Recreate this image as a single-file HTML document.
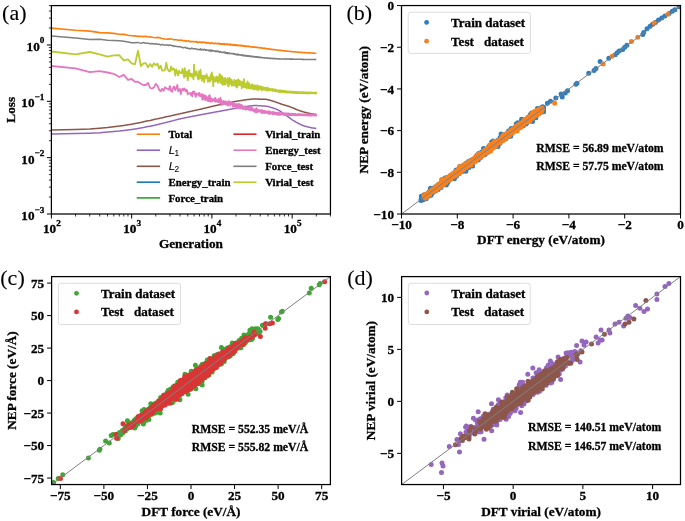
<!DOCTYPE html><html><head><meta charset="utf-8"><style>html,body{margin:0;padding:0;background:#fff;}svg{display:block;filter:blur(0.3px)}text{font-family:"Liberation Serif", serif;font-weight:bold;fill:#000;stroke:#000;stroke-width:0.3px}</style></head><body>
<svg width="685" height="521" viewBox="0 0 685 521" style="will-change:transform">
<rect width="685" height="521" fill="#fff"/>
<defs>
<clipPath id="ca"><rect x="51.40" y="5.60" width="279.05" height="208.40"/></clipPath>
<clipPath id="cb"><rect x="401.50" y="5.55" width="279.00" height="208.45"/></clipPath>
<clipPath id="cc"><rect x="51.60" y="276.60" width="278.80" height="207.95"/></clipPath>
<clipPath id="cd"><rect x="401.60" y="276.60" width="278.90" height="207.95"/></clipPath>
</defs>
<g clip-path="url(#ca)">
<polyline fill="none" stroke="#9467bd" stroke-width="1.5" stroke-linejoin="round" stroke-opacity="1.0" points="51.4,134.1 75.6,133.6 89.7,133.2 99.7,132.7 107.5,132.1 113.8,131.5 119.2,131.0 123.9,130.4 128.0,129.9 131.7,129.4 135.0,128.9 138.0,128.4 140.8,127.9 143.4,127.5 145.8,127.0 148.0,126.6 150.1,126.2 152.1,125.8 154.0,125.4 155.8,125.0 157.5,124.6 159.1,124.2 160.7,123.8 162.2,123.4 163.6,123.1 165.0,122.8 166.3,122.4 167.5,122.1 168.8,121.8 169.9,121.5 171.1,121.2 172.2,120.9 173.3,120.6 174.3,120.4 175.3,120.1 176.3,119.8 177.3,119.6 178.2,119.3 179.1,119.1 180.0,118.9 180.8,118.7 181.7,118.5 182.5,118.3 183.3,118.2 184.1,118.0 184.8,117.8 185.6,117.7 186.3,117.5 187.0,117.4 187.7,117.3 188.4,117.1 189.1,117.0 189.8,116.9 190.4,116.7 191.1,116.6 191.7,116.5 192.3,116.4 192.9,116.2 193.5,116.1 194.1,116.0 194.7,115.9 195.2,115.8 195.8,115.7 196.4,115.6 196.9,115.5 197.4,115.4 197.9,115.3 198.5,115.2 199.0,115.1 199.5,115.0 200.0,114.9 200.5,114.8 200.9,114.7 201.4,114.6 201.9,114.5 202.3,114.5 202.8,114.4 203.2,114.3 203.7,114.2 204.1,114.1 204.6,114.0 205.0,114.0 205.4,113.9 205.8,113.8 206.2,113.7 206.6,113.6 207.1,113.6 207.5,113.5 207.8,113.4 208.2,113.4 208.6,113.3 209.0,113.2 209.4,113.1 209.7,113.1 210.1,113.0 210.5,112.9 210.8,112.9 211.2,112.8 211.6,112.7 211.9,112.7 212.3,112.6 212.6,112.5 212.9,112.5 213.3,112.4 213.6,112.4 213.9,112.3 214.3,112.2 214.6,112.2 214.9,112.1 215.2,112.1 215.5,112.0 215.9,112.0 216.2,111.9 216.5,111.8 216.8,111.8 217.1,111.7 217.4,111.7 217.7,111.6 218.0,111.6 218.3,111.5 218.6,111.5 218.8,111.4 219.1,111.4 219.4,111.3 219.7,111.3 220.0,111.2 220.2,111.2 220.5,111.1 220.8,111.1 221.1,111.0 221.3,111.0 221.6,110.9 221.8,110.9 222.1,110.8 222.4,110.8 222.6,110.7 222.9,110.7 223.1,110.6 223.4,110.6 223.6,110.5 223.9,110.5 224.1,110.4 224.4,110.4 224.6,110.3 224.9,110.3 225.1,110.2 225.3,110.2 225.6,110.2 225.8,110.1 226.0,110.1 226.3,110.0 226.5,110.0 226.7,109.9 227.0,109.9 227.2,109.9 227.4,109.8 227.6,109.8 227.8,109.7 228.1,109.7 228.3,109.6 228.5,109.6 228.7,109.6 228.9,109.5 229.1,109.5 229.4,109.4 229.6,109.4 229.8,109.4 230.0,109.3 230.2,109.3 230.4,109.2 230.6,109.2 230.8,109.2 231.0,109.1 231.2,109.1 231.4,109.1 231.6,109.0 231.8,109.0 232.0,109.0 232.2,108.9 232.4,108.9 232.6,108.8 232.8,108.8 233.0,108.8 233.2,108.7 233.3,108.7 233.5,108.7 233.7,108.6 233.9,108.6 234.1,108.6 234.3,108.5 234.5,108.5 234.6,108.5 234.8,108.5 235.0,108.4 235.2,108.4 235.4,108.4 235.5,108.3 235.7,108.3 235.9,108.3 236.1,108.2 236.4,108.2 236.6,108.1 236.9,108.1 237.1,108.1 237.4,108.0 237.6,108.0 237.9,107.9 238.1,107.9 238.4,107.8 238.6,107.8 238.9,107.8 239.1,107.7 239.4,107.7 239.5,107.7 239.9,107.6 240.0,107.6 240.3,107.5 240.5,107.5 240.8,107.5 240.9,107.5 241.2,107.4 241.4,107.4 241.7,107.3 241.8,107.3 242.1,107.3 242.3,107.2 242.6,107.2 242.7,107.2 243.0,107.1 243.1,107.1 243.4,107.0 243.6,107.0 243.8,107.0 244.0,106.9 244.3,106.9 244.4,106.9 244.7,106.8 244.8,106.8 245.1,106.7 245.2,106.7 245.5,106.7 245.6,106.6 245.9,106.6 246.0,106.6 246.3,106.5 246.4,106.5 246.7,106.5 246.8,106.4 247.0,106.4 247.2,106.4 247.4,106.3 247.5,106.3 247.8,106.3 247.9,106.2 248.2,106.2 248.3,106.2 248.5,106.2 248.7,106.1 248.9,106.1 249.0,106.1 249.3,106.0 249.4,106.0 249.6,106.0 249.7,106.0 250.0,106.0 250.1,105.9 250.4,105.9 250.5,105.9 250.9,105.8 251.0,105.8 251.3,105.8 251.5,105.8 251.8,105.8 251.9,105.7 252.2,105.7 252.3,105.7 252.7,105.7 252.8,105.7 253.1,105.7 253.2,105.7 253.5,105.6 253.6,105.6 253.9,105.6 254.0,105.6 254.4,105.6 254.5,105.6 254.8,105.6 254.9,105.6 255.0,105.6 255.3,105.6 255.6,105.6 255.7,105.6 256.0,105.6 256.1,105.6 256.4,105.6 256.5,105.6 256.7,105.6 256.8,105.6 257.1,105.6 257.2,105.6 257.5,105.6 257.6,105.6 257.9,105.7 258.0,105.7 258.3,105.7 258.3,105.7 258.6,105.7 258.7,105.7 259.0,105.7 259.1,105.7 259.3,105.7 259.4,105.7 259.7,105.7 259.8,105.7 260.0,105.7 260.1,105.8 260.5,105.8 260.6,105.8 260.9,105.8 261.0,105.8 261.3,105.8 261.4,105.8 261.8,105.9 261.8,105.9 262.2,105.9 262.3,105.9 262.6,105.9 262.7,105.9 263.0,105.9 263.1,105.9 263.4,106.0 263.5,106.0 263.8,106.0 263.9,106.0 264.2,106.0 264.3,106.0 264.6,106.1 264.6,106.1 264.9,106.1 265.0,106.1 265.3,106.1 265.4,106.1 265.7,106.2 265.8,106.2 266.1,106.2 266.1,106.2 266.4,106.3 266.5,106.3 266.8,106.3 266.9,106.3 267.2,106.4 267.2,106.4 267.5,106.5 267.6,106.5 267.9,106.5 267.9,106.6 268.3,106.6 268.3,106.6 268.7,106.7 268.8,106.7 269.1,106.8 269.2,106.8 269.5,106.9 269.6,107.0 269.9,107.0 270.0,107.1 270.3,107.2 270.4,107.2 270.7,107.3 270.7,107.3 271.1,107.4 271.1,107.4 271.4,107.5 271.5,107.5 271.8,107.6 271.9,107.7 272.2,107.8 272.3,107.8 272.6,107.9 272.6,107.9 272.9,108.0 273.0,108.0 273.3,108.1 273.4,108.1 273.7,108.2 273.7,108.3 274.0,108.4 274.1,108.4 274.4,108.5 274.5,108.5 274.8,108.6 274.9,108.7 275.2,108.8 275.3,108.8 275.6,108.9 275.7,108.9 276.0,109.1 276.1,109.1 276.4,109.2 276.4,109.2 276.8,109.4 276.8,109.4 277.1,109.6 277.2,109.6 277.5,109.7 277.6,109.8 277.9,109.9 277.9,109.9 278.3,110.1 278.3,110.1 278.6,110.3 278.7,110.3 279.0,110.4 279.0,110.5 279.3,110.6 279.4,110.7 279.7,110.8 279.7,110.9 280.1,111.0 280.1,111.1 280.5,111.3 280.5,111.3 280.9,111.5 280.9,111.5 281.2,111.8 281.3,111.8 281.6,112.0 281.7,112.1 282.0,112.3 282.0,112.3 282.4,112.6 282.4,112.6 282.7,112.8 282.8,112.9 283.1,113.1 283.1,113.1 283.5,113.4 283.5,113.4 283.8,113.6 283.9,113.7 284.2,113.9 284.2,113.9 284.6,114.2 284.6,114.2 284.9,114.5 285.0,114.5 285.3,114.7 285.4,114.8 285.7,115.0 285.7,115.0 286.1,115.3 286.1,115.3 286.5,115.5 286.5,115.6 286.8,115.8 286.9,115.8 287.2,116.1 287.2,116.1 287.5,116.3 287.6,116.4 287.9,116.6 287.9,116.6 288.3,116.9 288.3,116.9 288.6,117.2 288.7,117.2 289.0,117.5 289.1,117.5 289.4,117.7 289.4,117.8 289.8,118.0 289.8,118.0 290.2,118.3 290.2,118.3 290.5,118.6 290.6,118.6 290.9,118.8 290.9,118.8 291.2,119.1 291.3,119.1 291.6,119.3 291.6,119.3 291.9,119.6 292.0,119.6 292.3,119.8 292.4,119.9 292.7,120.1 292.7,120.1 293.1,120.3 293.1,120.4 293.5,120.6 293.5,120.6 293.8,120.8 293.9,120.8 294.2,121.0 294.2,121.0 294.6,121.2 294.6,121.3 294.9,121.4 294.9,121.5 295.3,121.6 295.3,121.7 295.6,121.9 295.7,121.9 296.0,122.1 296.0,122.1 296.4,122.3 296.4,122.3 296.8,122.5 296.8,122.5 297.1,122.7 297.2,122.7 297.5,122.9 297.5,122.9 297.8,123.1 297.9,123.1 298.2,123.3 298.2,123.3 298.6,123.5 298.6,123.5 298.9,123.7 299.0,123.7 299.3,123.9 299.3,123.9 299.7,124.1 299.7,124.1 300.0,124.2 300.1,124.3 300.4,124.4 300.4,124.4 300.8,124.6 300.8,124.6 301.1,124.7 301.1,124.8 301.5,124.9 301.5,124.9 301.9,125.1 301.9,125.1 302.2,125.2 302.3,125.2 302.6,125.4 302.6,125.4 303.0,125.5 303.0,125.5 303.3,125.7 303.3,125.7 303.7,125.8 303.7,125.8 304.0,125.9 304.1,125.9 304.4,126.0 304.4,126.0 304.8,126.1 304.8,126.1 305.1,126.2 305.2,126.2 305.5,126.3 305.5,126.3 305.8,126.4 305.9,126.4 306.2,126.5 306.2,126.5 306.6,126.6 306.6,126.6 306.9,126.7 307.0,126.7 307.3,126.8 307.3,126.8 307.7,126.9 307.7,126.9 308.0,127.0 308.0,127.0 308.4,127.1 308.4,127.1 308.7,127.2 308.8,127.2 309.1,127.3 309.1,127.3 309.5,127.3 309.5,127.3 309.8,127.4 309.8,127.4 310.2,127.5 310.2,127.5 310.5,127.6 310.6,127.6 310.9,127.6 310.9,127.7 311.3,127.7 311.3,127.7 311.6,127.8 311.6,127.8 312.0,127.9 312.0,127.9 312.3,127.9 312.4,127.9 312.7,128.0 312.7,128.0 313.1,128.0 313.1,128.0 313.4,128.1 313.4,128.1 313.8,128.1 313.8,128.1 314.1,128.2 314.2,128.2 314.5,128.2 314.5,128.2 314.9,128.3 314.9,128.3 315.2,128.3 315.2,128.3 315.6,128.3 315.6,128.3 315.9,128.4 316.0,128.4 316.3,128.4 316.3,128.4 316.3,128.4"/>
<polyline fill="none" stroke="#8c564b" stroke-width="1.5" stroke-linejoin="round" stroke-opacity="1.0" points="51.4,130.0 75.6,129.5 89.7,128.9 99.7,128.2 107.5,127.5 113.8,126.7 119.2,126.1 123.9,125.4 128.0,124.8 131.7,124.2 135.0,123.6 138.0,123.0 140.8,122.4 143.4,121.8 145.8,121.3 148.0,120.8 150.1,120.4 152.1,119.9 154.0,119.5 155.8,119.1 157.5,118.8 159.1,118.4 160.7,118.1 162.2,117.7 163.6,117.4 165.0,117.1 166.3,116.8 167.5,116.5 168.8,116.3 169.9,116.0 171.1,115.8 172.2,115.5 173.3,115.3 174.3,115.0 175.3,114.8 176.3,114.6 177.3,114.4 178.2,114.2 179.1,114.0 180.0,113.8 180.8,113.6 181.7,113.4 182.5,113.2 183.3,113.0 184.1,112.8 184.8,112.7 185.6,112.5 186.3,112.3 187.0,112.2 187.7,112.0 188.4,111.8 189.1,111.7 189.8,111.5 190.4,111.4 191.1,111.3 191.7,111.1 192.3,111.0 192.9,110.9 193.5,110.7 194.1,110.6 194.7,110.5 195.2,110.4 195.8,110.2 196.4,110.1 196.9,110.0 197.4,109.9 197.9,109.8 198.5,109.6 199.0,109.5 199.5,109.4 200.0,109.3 200.5,109.2 200.9,109.1 201.4,109.0 201.9,108.9 202.3,108.8 202.8,108.7 203.2,108.5 203.7,108.4 204.1,108.3 204.6,108.2 205.0,108.1 205.4,108.0 205.8,107.9 206.2,107.8 206.6,107.7 207.1,107.6 207.5,107.5 207.8,107.4 208.2,107.3 208.6,107.3 209.0,107.2 209.4,107.1 209.7,107.0 210.1,106.9 210.5,106.8 210.8,106.7 211.2,106.6 211.6,106.5 211.9,106.5 212.3,106.4 212.6,106.3 212.9,106.2 213.3,106.1 213.6,106.0 213.9,106.0 214.3,105.9 214.6,105.8 214.9,105.7 215.2,105.7 215.5,105.6 215.9,105.5 216.2,105.5 216.5,105.4 216.8,105.3 217.1,105.2 217.4,105.2 217.7,105.1 218.0,105.0 218.3,105.0 218.6,104.9 218.8,104.9 219.1,104.8 219.4,104.7 219.7,104.7 220.0,104.6 220.2,104.5 220.5,104.5 220.8,104.4 221.1,104.4 221.3,104.3 221.6,104.3 221.8,104.2 222.1,104.1 222.4,104.1 222.6,104.0 222.9,104.0 223.1,103.9 223.4,103.9 223.6,103.8 223.9,103.8 224.1,103.7 224.4,103.7 224.6,103.6 224.9,103.6 225.1,103.5 225.3,103.5 225.6,103.4 225.8,103.4 226.0,103.3 226.3,103.3 226.5,103.2 226.7,103.2 227.0,103.1 227.2,103.1 227.4,103.0 227.6,103.0 227.8,102.9 228.1,102.9 228.3,102.8 228.5,102.8 228.7,102.7 228.9,102.7 229.1,102.6 229.4,102.6 229.6,102.6 229.8,102.5 230.0,102.5 230.2,102.4 230.4,102.4 230.6,102.3 230.8,102.3 231.0,102.3 231.2,102.2 231.4,102.2 231.6,102.1 231.8,102.1 232.0,102.1 232.2,102.0 232.4,102.0 232.6,102.0 232.8,101.9 233.0,101.9 233.2,101.8 233.3,101.8 233.5,101.8 233.7,101.7 233.9,101.7 234.1,101.7 234.3,101.6 234.5,101.6 234.6,101.6 234.8,101.5 235.0,101.5 235.2,101.5 235.4,101.4 235.5,101.4 235.7,101.4 235.9,101.4 236.1,101.3 236.4,101.3 236.6,101.2 236.9,101.2 237.1,101.1 237.4,101.1 237.6,101.1 237.9,101.0 238.1,101.0 238.4,100.9 238.6,100.9 238.9,100.9 239.1,100.8 239.4,100.8 239.5,100.8 239.9,100.7 240.0,100.7 240.3,100.7 240.5,100.6 240.8,100.6 240.9,100.6 241.2,100.5 241.4,100.5 241.7,100.5 241.8,100.4 242.1,100.4 242.3,100.4 242.6,100.3 242.7,100.3 243.0,100.2 243.1,100.2 243.4,100.2 243.6,100.2 243.8,100.1 244.0,100.1 244.3,100.1 244.4,100.0 244.7,100.0 244.8,100.0 245.1,99.9 245.2,99.9 245.5,99.9 245.6,99.8 245.9,99.8 246.0,99.8 246.3,99.8 246.4,99.7 246.7,99.7 246.8,99.7 247.0,99.6 247.2,99.6 247.4,99.6 247.5,99.6 247.8,99.5 247.9,99.5 248.2,99.5 248.3,99.5 248.5,99.5 248.7,99.4 248.9,99.4 249.0,99.4 249.3,99.4 249.4,99.4 249.6,99.3 249.7,99.3 250.0,99.3 250.1,99.3 250.4,99.3 250.5,99.3 250.9,99.2 251.0,99.2 251.3,99.2 251.5,99.2 251.8,99.2 251.9,99.2 252.2,99.1 252.3,99.1 252.7,99.1 252.8,99.1 253.1,99.1 253.2,99.1 253.5,99.1 253.6,99.1 253.9,99.1 254.0,99.1 254.4,99.1 254.5,99.1 254.8,99.1 254.9,99.1 255.2,99.1 255.3,99.1 255.6,99.1 255.7,99.1 256.0,99.1 256.1,99.1 256.4,99.1 256.5,99.1 256.7,99.1 256.8,99.1 257.1,99.1 257.2,99.1 257.5,99.1 257.6,99.1 257.9,99.1 258.0,99.1 258.3,99.1 258.3,99.1 258.6,99.1 258.7,99.1 259.0,99.1 259.1,99.1 259.3,99.1 259.4,99.2 259.7,99.2 259.8,99.2 260.0,99.2 260.1,99.2 260.5,99.2 260.6,99.2 260.9,99.2 261.0,99.2 261.3,99.2 261.4,99.2 261.8,99.2 261.8,99.2 262.2,99.2 262.3,99.2 262.6,99.2 262.7,99.2 263.0,99.2 263.1,99.2 263.4,99.2 263.5,99.3 263.8,99.3 263.9,99.3 264.2,99.3 264.3,99.3 264.6,99.3 264.6,99.3 264.9,99.3 265.0,99.3 265.3,99.3 265.4,99.3 265.7,99.3 265.8,99.3 266.1,99.4 266.1,99.4 266.4,99.4 266.5,99.4 266.8,99.5 266.9,99.5 267.2,99.5 267.2,99.5 267.5,99.6 267.6,99.6 267.9,99.7 267.9,99.7 268.3,99.8 268.3,99.8 268.7,99.9 268.8,99.9 269.1,100.0 269.2,100.0 269.5,100.1 269.6,100.1 269.9,100.2 270.0,100.2 270.3,100.3 270.4,100.3 270.7,100.4 270.7,100.4 271.1,100.5 271.1,100.6 271.4,100.7 271.5,100.7 271.8,100.8 271.9,100.8 272.2,100.9 272.3,100.9 272.6,101.0 272.6,101.0 272.9,101.1 273.0,101.2 273.3,101.3 273.4,101.3 273.7,101.4 273.7,101.4 274.0,101.5 274.1,101.5 274.4,101.6 274.5,101.6 274.8,101.7 274.9,101.8 275.2,101.9 275.3,101.9 275.6,102.0 275.7,102.0 276.0,102.1 276.1,102.1 276.4,102.2 276.4,102.3 276.8,102.4 276.8,102.4 277.1,102.5 277.2,102.5 277.5,102.7 277.6,102.7 277.9,102.8 277.9,102.8 278.3,102.9 278.3,102.9 278.6,103.1 278.7,103.1 279.0,103.2 279.0,103.2 279.3,103.3 279.4,103.4 279.7,103.5 279.7,103.5 280.1,103.6 280.1,103.6 280.5,103.8 280.5,103.8 280.9,103.9 280.9,103.9 281.2,104.0 281.3,104.1 281.6,104.2 281.7,104.2 282.0,104.3 282.0,104.3 282.4,104.4 282.4,104.4 282.7,104.5 282.8,104.6 283.1,104.7 283.1,104.7 283.5,104.8 283.5,104.8 283.8,104.9 283.9,104.9 284.2,105.0 284.2,105.0 284.6,105.1 284.6,105.1 284.9,105.2 285.0,105.2 285.3,105.3 285.4,105.3 285.7,105.4 285.7,105.5 286.1,105.6 286.1,105.6 286.5,105.7 286.5,105.7 286.8,105.8 286.9,105.8 287.2,105.9 287.2,105.9 287.5,106.0 287.6,106.0 287.9,106.1 287.9,106.1 288.3,106.2 288.3,106.2 288.6,106.3 288.7,106.4 289.0,106.5 289.1,106.5 289.4,106.6 289.4,106.6 289.8,106.7 289.8,106.7 290.2,106.9 290.2,106.9 290.5,107.0 290.6,107.0 290.9,107.1 290.9,107.1 291.2,107.3 291.3,107.3 291.6,107.4 291.6,107.4 291.9,107.5 292.0,107.6 292.3,107.7 292.4,107.7 292.7,107.9 292.7,107.9 293.1,108.0 293.1,108.0 293.5,108.2 293.5,108.2 293.8,108.3 293.9,108.3 294.2,108.5 294.2,108.5 294.6,108.6 294.6,108.7 294.9,108.8 294.9,108.8 295.3,108.9 295.3,109.0 295.6,109.1 295.7,109.1 296.0,109.3 296.0,109.3 296.4,109.4 296.4,109.4 296.8,109.6 296.8,109.6 297.1,109.7 297.2,109.7 297.5,109.9 297.5,109.9 297.8,110.0 297.9,110.0 298.2,110.2 298.2,110.2 298.6,110.3 298.6,110.3 298.9,110.4 299.0,110.4 299.3,110.6 299.3,110.6 299.7,110.7 299.7,110.7 300.0,110.8 300.1,110.8 300.4,110.9 300.4,110.9 300.8,111.0 300.8,111.1 301.1,111.2 301.1,111.2 301.5,111.3 301.5,111.3 301.9,111.4 301.9,111.4 302.2,111.5 302.3,111.5 302.6,111.6 302.6,111.6 303.0,111.7 303.0,111.7 303.3,111.8 303.3,111.8 303.7,111.9 303.7,111.9 304.0,112.0 304.1,112.1 304.4,112.2 304.4,112.2 304.8,112.3 304.8,112.3 305.1,112.4 305.2,112.4 305.5,112.5 305.5,112.5 305.8,112.5 305.9,112.6 306.2,112.6 306.2,112.6 306.6,112.7 306.6,112.7 306.9,112.8 307.0,112.8 307.3,112.9 307.3,112.9 307.7,113.0 307.7,113.0 308.0,113.1 308.0,113.1 308.4,113.2 308.4,113.2 308.7,113.2 308.8,113.3 309.1,113.3 309.1,113.3 309.5,113.4 309.5,113.4 309.8,113.5 309.8,113.5 310.2,113.5 310.2,113.5 310.5,113.6 310.6,113.6 310.9,113.7 310.9,113.7 311.3,113.7 311.3,113.7 311.6,113.8 311.6,113.8 312.0,113.9 312.0,113.9 312.3,113.9 312.4,113.9 312.7,114.0 312.7,114.0 313.1,114.0 313.1,114.0 313.4,114.1 313.4,114.1 313.8,114.1 313.8,114.1 314.1,114.2 314.2,114.2 314.5,114.2 314.5,114.2 314.9,114.3 314.9,114.3 315.2,114.3 315.2,114.3 315.6,114.4 315.6,114.4 315.9,114.4 316.0,114.4 316.3,114.4 316.3,114.4 316.3,114.5"/>
<polyline fill="none" stroke="#e377c2" stroke-width="1.8" stroke-linejoin="round" stroke-opacity="1.0" points="51.4,66.0 75.6,68.3 89.7,72.2 99.7,71.1 107.5,72.5 113.8,73.8 119.2,77.0 123.9,74.9 128.0,79.8 131.7,79.0 135.0,81.9 138.0,81.6 140.8,83.7 143.4,85.0 145.8,85.0 148.0,82.9 150.1,88.0 152.1,88.5 154.0,87.4 155.8,84.0 157.5,85.6 159.1,89.6 160.7,91.3 162.2,88.7 163.6,90.8 165.0,87.3 166.3,88.2 167.5,88.8 168.8,89.7 169.9,86.0 171.1,91.0 172.2,91.8 173.3,87.0 174.3,86.7 175.3,90.2 176.3,88.2 177.3,84.9 178.2,91.3 179.1,90.1 180.0,88.9 180.8,94.1 181.7,90.3 182.5,88.7 183.3,90.4 184.1,88.4 184.8,89.0 185.6,91.4 186.3,89.8 187.0,90.2 187.7,94.4 188.4,93.2 189.1,93.3 189.8,93.1 190.4,93.2 191.1,95.2 191.7,92.8 192.3,96.4 192.9,91.6 193.5,93.1 194.1,91.4 194.7,93.4 195.2,95.1 195.8,96.9 196.4,93.5 196.9,94.8 197.4,94.4 197.9,94.0 198.5,93.4 199.0,95.7 199.5,92.9 200.0,96.1 200.5,96.1 200.9,95.1 201.4,94.7 201.9,94.2 202.3,99.6 202.8,94.5 203.2,99.3 203.7,97.9 204.1,96.4 204.6,95.3 205.0,98.9 205.4,100.1 205.8,96.0 206.2,97.1 206.6,99.3 207.1,98.3 207.5,100.9 207.8,97.1 208.2,98.9 208.6,96.2 209.0,101.4 209.4,97.2 209.7,95.1 210.1,98.3 210.5,98.4 210.8,101.6 211.2,98.3 211.6,98.9 211.9,99.9 212.3,101.5 212.6,99.1 212.9,100.9 213.3,100.2 213.6,99.1 213.9,99.8 214.3,99.8 214.6,98.5 214.9,101.7 215.2,98.0 215.5,101.8 215.9,101.6 216.2,100.2 216.5,99.3 216.8,100.2 217.1,101.2 217.4,101.7 217.7,101.2 218.0,102.2 218.3,100.1 218.6,101.3 218.8,98.9 219.1,102.2 219.4,101.4 219.7,100.7 220.0,103.0 220.2,102.4 220.5,97.7 220.8,101.7 221.1,99.7 221.3,103.2 221.6,105.2 221.8,101.2 222.1,102.1 222.4,101.7 222.6,102.5 222.9,103.0 223.1,103.9 223.4,101.0 223.6,104.4 223.9,101.2 224.1,102.8 224.4,104.0 224.6,103.5 224.9,101.4 225.1,101.8 225.3,102.2 225.6,102.7 225.8,104.3 226.0,101.3 226.3,103.6 226.5,103.8 226.7,103.8 227.0,103.7 227.2,105.1 227.4,103.9 227.6,104.4 227.8,104.1 228.1,105.6 228.3,101.1 228.5,105.1 228.7,103.3 228.9,103.3 229.1,102.5 229.4,101.5 229.6,103.3 229.8,103.0 230.0,104.5 230.2,102.2 230.4,105.7 230.6,104.4 230.8,103.8 231.0,103.3 231.2,103.3 231.4,102.9 231.6,103.7 231.8,104.4 232.0,104.2 232.2,102.8 232.4,104.2 232.6,103.5 232.8,104.8 233.0,106.8 233.2,105.4 233.3,104.4 233.5,102.9 233.7,103.2 233.9,102.9 234.1,105.7 234.3,104.1 234.5,105.1 234.6,104.4 234.8,105.2 235.0,106.7 235.2,104.4 235.4,104.9 235.5,104.4 235.7,106.3 235.9,104.2 236.1,104.2 236.2,103.9 236.8,108.4 236.9,104.5 237.1,106.7 237.4,104.6 237.8,105.6 237.9,105.1 238.1,108.0 238.3,103.9 238.6,106.4 238.7,105.5 239.1,107.1 239.2,106.4 239.7,104.2 239.9,107.9 240.0,108.7 240.2,107.4 240.5,105.1 240.6,106.4 241.1,107.7 241.2,105.9 241.5,104.9 241.7,106.7 241.8,107.0 242.0,106.2 242.3,108.8 242.4,105.8 242.7,106.3 243.0,109.2 243.1,107.5 243.3,106.6 243.7,106.5 243.8,108.8 244.0,108.8 244.1,107.6 244.5,109.0 244.7,106.7 244.8,108.8 245.1,107.0 245.2,107.9 245.5,106.9 245.6,106.4 245.9,109.3 246.0,109.8 246.1,108.6 246.4,107.6 246.7,108.4 246.8,107.2 247.0,108.3 247.3,107.4 247.4,108.7 247.5,108.2 247.7,109.3 247.9,108.2 248.0,108.6 248.3,108.0 248.5,109.3 248.8,109.8 248.9,107.3 249.0,108.4 249.3,109.0 249.5,108.4 249.6,109.6 249.8,108.0 250.0,110.1 250.1,109.8 250.4,108.5 250.5,110.0 250.8,108.5 251.0,108.6 251.2,109.4 251.6,106.5 251.7,109.5 252.0,110.4 252.2,109.2 252.4,109.5 252.7,109.2 252.8,108.9 252.9,110.6 253.2,109.6 253.5,110.2 253.6,110.5 253.9,109.3 254.0,111.2 254.1,109.8 254.7,109.8 254.8,111.9 255.0,110.6 255.2,109.2 255.3,109.3 255.5,110.6 255.8,109.3 255.9,110.1 256.1,111.1 256.3,112.5 256.6,108.1 256.7,110.1 256.8,110.5 256.9,111.3 257.4,111.7 257.5,110.0 257.7,109.8 257.8,111.9 258.0,111.3 258.1,110.0 258.5,111.3 258.6,110.7 258.7,111.5 258.9,110.8 259.1,110.7 259.2,111.6 259.5,110.1 259.6,111.7 259.8,111.6 260.0,110.1 260.3,110.5 260.4,111.8 260.6,111.6 260.8,110.9 261.0,111.8 261.3,110.7 261.6,111.0 261.8,113.1 262.0,111.8 262.1,109.9 262.3,112.5 262.5,111.1 262.7,111.8 262.9,110.9 263.1,112.9 263.3,111.9 263.5,112.8 263.7,111.7 263.9,112.0 264.2,110.6 264.3,110.7 264.4,112.0 264.8,112.0 264.9,113.1 265.0,111.3 265.1,112.6 265.5,111.6 265.7,112.1 265.8,111.3 265.9,112.5 266.1,111.1 266.4,112.2 266.5,112.8 266.6,112.2 266.9,112.0 266.9,112.9 267.3,112.9 267.4,112.6 267.8,111.3 267.9,113.2 268.0,111.8 268.2,113.6 268.6,113.6 268.7,111.3 269.0,111.4 269.1,113.5 269.2,111.6 269.4,113.9 269.6,113.2 269.9,111.7 270.0,113.8 270.2,111.9 270.4,112.5 270.6,113.4 270.8,112.2 271.0,113.4 271.2,112.2 271.4,113.2 271.5,112.5 271.8,113.5 272.0,112.6 272.2,113.7 272.3,112.9 272.4,113.8 272.7,114.2 272.8,112.5 273.1,111.6 273.3,113.6 273.4,113.9 273.5,112.8 273.8,112.5 274.0,113.4 274.1,112.5 274.2,114.1 274.5,112.7 274.7,113.7 274.9,113.8 275.0,113.0 275.3,112.8 275.5,113.5 275.7,112.7 275.9,113.9 276.1,112.7 276.2,114.4 276.5,112.8 276.6,114.7 277.0,112.9 277.1,114.2 277.3,113.3 277.4,114.3 277.7,113.1 277.8,114.6 278.0,114.1 278.1,112.9 278.3,113.3 278.5,115.0 278.9,113.2 279.0,113.6 279.1,113.1 279.3,114.2 279.5,113.1 279.5,114.7 279.8,113.0 280.0,114.2 280.3,113.4 280.5,114.7 280.7,113.3 280.9,114.4 281.1,113.1 281.1,114.5 281.3,113.2 281.6,114.6 281.8,114.5 281.9,113.3 282.2,114.2 282.4,113.1 282.6,113.5 282.7,114.0 282.9,113.6 283.0,114.8 283.2,113.7 283.3,114.8 283.6,114.5 283.7,113.7 284.0,114.8 284.2,113.5 284.3,114.5 284.5,113.8 284.8,114.7 284.9,113.2 285.2,113.8 285.3,115.2 285.5,113.6 285.7,114.5 285.8,113.7 286.0,114.6 286.2,113.5 286.3,114.7 286.8,113.9 286.8,114.9 286.9,114.8 287.2,113.5 287.3,113.6 287.5,114.9 287.6,114.6 287.7,114.1 288.2,114.9 288.2,113.4 288.4,115.2 288.4,113.4 288.9,113.9 289.0,114.7 289.1,113.8 289.4,114.7 289.6,114.0 289.7,115.1 289.9,114.9 290.0,114.1 290.3,113.8 290.3,114.7 290.6,113.9 290.8,115.1 291.0,114.8 291.1,114.0 291.3,115.0 291.5,113.7 291.7,114.7 291.8,113.8 292.1,115.1 292.2,114.0 292.6,114.8 292.7,114.1 293.0,113.8 293.1,115.2 293.2,115.1 293.3,114.2 293.7,115.0 293.8,114.1 294.1,115.2 294.1,113.9 294.2,114.2 294.3,115.2 294.6,115.0 294.7,114.3 295.1,115.5 295.2,113.8 295.3,115.2 295.4,113.9 295.9,114.2 295.9,115.0 296.1,115.3 296.2,114.3 296.5,115.4 296.7,114.3 296.8,114.9 297.1,114.6 297.2,114.3 297.3,115.1 297.5,114.4 297.6,115.2 298.0,114.3 298.1,115.2 298.4,115.4 298.5,114.3 298.6,115.4 298.7,114.5 299.0,115.2 299.3,114.2 299.4,115.1 299.5,114.4 299.7,114.3 300.0,115.1 300.1,115.2 300.3,114.4 300.6,114.3 300.7,115.2 300.9,114.4 301.0,115.1 301.3,114.3 301.5,115.2 301.7,115.2 301.7,114.4 302.0,115.1 302.2,114.6 302.3,114.4 302.5,115.4 302.7,115.4 302.8,114.6 303.0,114.6 303.2,115.4 303.4,114.6 303.5,115.1 303.8,114.4 303.9,115.3 304.3,115.3 304.4,114.6 304.5,115.3 304.5,114.4 304.8,114.4 305.1,115.3 305.3,114.7 305.4,115.2 305.6,115.3 305.8,114.5 305.9,115.1 306.0,114.5 306.4,115.3 306.5,114.4 306.7,114.6 306.8,115.4 307.0,115.2 307.0,114.6 307.3,114.5 307.5,115.1 307.7,115.3 307.8,114.7 308.2,114.5 308.2,115.5 308.4,115.6 308.7,114.7 308.9,114.5 309.1,115.4 309.1,114.7 309.4,115.2 309.5,114.5 309.8,115.4 310.0,114.7 310.1,115.4 310.2,114.5 310.3,115.5 310.7,114.8 310.8,115.4 311.0,115.5 311.3,114.7 311.4,114.6 311.6,115.5 311.8,114.5 311.9,115.4 312.2,115.3 312.2,114.5 312.5,114.7 312.6,115.4 312.7,114.7 312.9,115.4 313.3,115.4 313.4,114.8 313.6,114.7 313.8,115.3 313.9,114.8 314.0,115.3 314.4,115.4 314.4,114.9 314.6,115.5 314.8,114.8 315.1,114.8 315.2,115.4 315.3,115.5 315.6,114.7 315.6,114.7 315.8,115.4 316.1,115.5 316.2,114.9 316.3,115.0 316.3,115.1"/>
<polyline fill="none" stroke="#7f7f7f" stroke-width="1.5" stroke-linejoin="round" stroke-opacity="1.0" points="51.4,36.0 75.6,38.0 89.7,39.4 99.7,39.2 107.5,40.3 113.8,40.5 119.2,40.8 123.9,41.2 128.0,41.9 131.7,42.8 135.0,42.8 138.0,42.4 140.8,43.4 143.4,42.5 145.8,43.2 148.0,43.2 150.1,43.7 152.1,43.5 154.0,43.9 155.8,43.7 157.5,44.3 159.1,44.2 160.7,45.1 162.2,44.3 163.6,45.1 165.0,45.0 166.3,45.1 167.5,45.0 168.8,45.5 169.9,45.0 171.1,45.2 172.2,46.0 173.3,45.4 174.3,46.5 175.3,46.1 176.3,46.4 177.3,46.5 178.2,46.7 179.1,46.6 180.0,46.7 180.8,46.9 181.7,47.4 182.5,47.6 183.3,47.8 184.1,47.6 184.8,47.6 185.6,47.2 186.3,48.1 187.0,48.3 187.7,48.0 188.4,48.5 189.1,48.7 189.8,48.4 190.4,48.8 191.1,48.7 191.7,48.1 192.3,48.5 192.9,48.6 193.5,49.0 194.1,48.6 194.7,48.8 195.2,48.7 195.8,49.0 196.4,49.1 196.9,49.5 197.4,49.5 197.9,49.3 198.5,49.4 199.0,49.4 199.5,49.4 200.0,49.9 200.5,48.7 200.9,49.5 201.4,49.7 201.9,49.9 202.3,49.3 202.8,49.8 203.2,50.0 203.7,49.6 204.1,49.2 204.6,49.7 205.0,49.5 205.4,50.1 205.8,49.7 206.2,50.5 206.6,50.1 207.1,49.9 207.5,50.0 207.8,49.9 208.2,50.3 208.6,50.7 209.0,50.2 209.4,50.6 209.7,50.1 210.1,50.5 210.5,51.1 210.8,50.1 211.2,50.9 211.6,51.0 211.9,50.1 212.3,50.3 212.6,50.5 212.9,51.1 213.3,50.7 213.6,50.8 213.9,51.1 214.3,51.0 214.6,51.1 214.9,51.0 215.2,51.4 215.5,51.0 215.9,51.7 216.2,51.2 216.5,51.1 216.8,51.5 217.1,51.5 217.4,50.9 217.7,51.6 218.0,51.2 218.3,51.4 218.6,51.8 218.8,51.4 219.1,51.8 219.4,51.7 219.7,52.3 220.0,51.8 220.2,51.6 220.5,51.6 220.8,51.7 221.1,52.1 221.3,52.1 221.6,52.4 221.8,52.2 222.1,52.2 222.4,52.3 222.6,52.2 222.9,52.4 223.1,52.6 223.4,52.6 223.6,52.3 223.9,52.0 224.1,52.3 224.4,52.6 224.6,51.9 224.9,52.5 225.1,52.8 225.3,52.6 225.6,52.4 225.8,53.2 226.0,53.2 226.3,52.8 226.5,53.2 226.7,53.3 227.0,52.7 227.2,53.7 227.4,52.8 227.6,53.0 227.8,52.8 228.1,53.1 228.3,52.8 228.5,53.2 228.7,53.5 228.9,53.3 229.1,53.2 229.4,53.7 229.6,53.1 229.8,53.6 230.0,53.3 230.2,53.5 230.4,53.5 230.6,53.5 230.8,53.5 231.0,53.4 231.2,53.5 231.4,53.7 231.6,53.6 231.8,53.4 232.0,53.5 232.2,53.6 232.4,53.8 232.6,53.8 232.8,53.9 233.0,53.7 233.2,53.9 233.3,53.6 233.5,53.3 233.7,54.0 233.9,53.6 234.1,53.8 234.3,53.8 234.5,54.2 234.6,53.8 234.8,54.2 235.0,54.1 235.2,53.9 235.4,53.9 235.5,54.4 235.7,54.4 235.9,54.5 236.1,54.8 236.2,54.4 236.6,54.4 236.8,54.5 237.3,55.0 237.4,54.1 237.6,54.6 237.8,54.7 238.1,54.4 238.3,54.6 238.6,54.5 238.7,54.7 239.2,55.0 239.4,54.6 239.7,54.8 239.9,55.0 240.2,55.0 240.3,54.8 240.5,54.9 240.8,55.1 241.1,55.3 241.2,55.0 241.4,55.2 241.7,54.8 242.0,55.1 242.1,55.0 242.3,54.9 242.4,55.4 242.7,55.0 242.9,55.8 243.3,55.6 243.4,55.3 243.6,55.8 243.7,55.2 244.1,55.4 244.3,55.8 244.4,55.3 244.7,55.7 244.9,55.8 245.1,55.7 245.2,56.1 245.3,55.6 245.6,55.9 245.7,55.7 246.0,55.7 246.3,55.6 246.5,55.6 246.7,56.0 246.8,55.6 246.9,56.3 247.2,56.1 247.4,55.9 247.5,56.2 247.7,56.0 247.9,55.9 248.0,56.2 248.3,56.1 248.4,55.8 248.7,56.2 248.8,56.1 249.1,56.2 249.3,56.4 249.4,55.9 249.6,56.3 249.7,56.0 250.0,56.4 250.1,56.1 250.3,56.4 250.7,56.2 250.9,56.5 251.1,56.1 251.2,56.5 251.7,56.2 251.8,56.7 252.0,56.7 252.2,56.4 252.3,56.6 252.7,56.7 252.8,56.5 253.0,56.7 253.2,56.5 253.5,56.8 253.8,56.9 253.9,56.5 254.3,56.6 254.4,56.8 254.5,56.8 254.7,57.1 255.0,57.0 255.2,56.8 255.3,57.1 255.4,56.8 255.8,56.9 256.0,57.1 256.2,56.8 256.3,57.0 256.5,56.9 256.6,57.3 256.9,57.1 257.0,56.8 257.2,57.2 257.5,57.0 257.6,57.2 257.8,57.1 258.1,57.0 258.2,57.3 258.4,57.1 258.5,57.3 258.8,57.2 258.9,57.4 259.2,57.1 259.3,57.4 259.4,57.6 259.5,57.2 259.8,57.4 260.0,57.3 260.1,57.4 260.3,57.6 260.7,57.6 260.8,57.4 261.0,57.6 261.2,57.4 261.4,57.6 261.8,57.5 261.8,57.5 262.1,57.7 262.3,57.6 262.4,57.8 262.8,57.6 262.9,57.8 263.1,57.8 263.4,57.7 263.6,57.8 263.8,57.7 263.9,57.7 264.0,57.9 264.5,57.8 264.6,57.9 264.8,57.8 264.9,58.0 265.2,58.0 265.2,57.8 265.4,58.0 265.5,57.9 265.9,58.0 266.0,57.9 266.3,58.1 266.4,58.0 266.6,58.0 266.8,58.2 266.9,58.0 267.2,58.2 267.2,58.1 267.5,58.0 267.7,58.1 267.9,58.3 268.1,58.3 268.3,58.1 268.3,58.3 268.7,58.2 268.8,58.2 269.0,58.3 269.2,58.2 269.4,58.4 269.6,58.3 269.6,58.2 270.0,58.4 270.3,58.3 270.4,58.5 270.5,58.3 270.9,58.3 271.0,58.5 271.3,58.3 271.3,58.5 271.7,58.5 271.8,58.4 272.0,58.4 272.2,58.5 272.4,58.4 272.5,58.6 272.6,58.5 272.9,58.6 273.1,58.6 273.2,58.5 273.5,58.7 273.6,58.6 273.8,58.6 274.0,58.7 274.2,58.7 274.2,58.6 274.5,58.6 274.6,58.7 275.1,58.6 275.2,58.8 275.4,58.8 275.5,58.6 275.7,58.8 275.9,58.6 276.2,58.8 276.3,58.7 276.6,58.7 276.7,58.8 276.9,58.8 277.1,58.8 277.3,58.8 277.4,58.8 277.8,58.8 277.9,58.9 277.9,58.9 278.2,58.8 278.4,58.9 278.5,58.8 278.7,58.8 278.9,58.9 279.2,58.9 279.2,58.8 279.4,58.9 279.5,59.0 279.8,58.9 280.0,58.8 280.2,58.9 280.4,58.9 280.7,58.9 280.9,58.9 281.1,59.0 281.1,58.9 281.4,58.9 281.4,59.0 281.7,58.9 281.8,59.0 282.3,58.9 282.3,59.0 282.5,58.9 282.6,59.0 282.8,59.0 283.0,58.9 283.1,59.0 283.5,58.9 283.5,59.0 283.6,59.0 284.0,59.0 284.2,59.0 284.2,59.1 284.3,59.0 284.8,59.1 284.9,59.0 285.1,59.0 285.2,59.1 285.5,59.0 285.7,59.1 286.0,59.0 286.0,59.1 286.2,59.1 286.2,59.0 286.7,59.0 286.8,59.1 286.9,59.0 286.9,59.1 287.3,59.1 287.5,59.1 287.7,59.1 287.8,59.1 288.0,59.1 288.1,59.1 288.3,59.1 288.4,59.1 288.8,59.1 288.9,59.1 289.1,59.1 289.3,59.2 289.7,59.1 289.7,59.1 289.9,59.1 290.1,59.2 290.3,59.2 290.4,59.1 290.6,59.1 290.9,59.2 291.0,59.2 291.0,59.1 291.4,59.2 291.6,59.1 291.7,59.2 291.8,59.1 292.0,59.2 292.3,59.1 292.6,59.1 292.6,59.2 292.9,59.2 293.0,59.1 293.2,59.2 293.3,59.2 293.6,59.2 293.7,59.2 294.1,59.2 294.1,59.2 294.3,59.2 294.4,59.2 294.6,59.2 294.8,59.2 295.0,59.2 295.0,59.2 295.3,59.2 295.6,59.2 295.8,59.2 295.9,59.2 296.2,59.2 296.4,59.2 296.6,59.2 296.7,59.3 296.8,59.3 297.0,59.2 297.2,59.3 297.3,59.2 297.5,59.3 297.6,59.2 297.9,59.3 298.0,59.2 298.3,59.3 298.4,59.3 298.6,59.3 298.9,59.3 299.2,59.3 299.3,59.3 299.5,59.3 299.7,59.3 299.8,59.3 299.8,59.3 300.3,59.3 300.3,59.3 300.7,59.3 300.8,59.3 300.8,59.3 301.1,59.3 301.2,59.3 301.2,59.3 301.5,59.3 301.7,59.3 301.9,59.3 302.0,59.4 302.3,59.3 302.5,59.4 302.7,59.3 302.9,59.4 303.3,59.3 303.3,59.4 303.5,59.4 303.5,59.4 303.8,59.4 303.9,59.4 304.2,59.4 304.4,59.4 304.5,59.4 304.8,59.4 304.9,59.4 305.1,59.4 305.2,59.4 305.2,59.4 305.6,59.4 305.8,59.4 306.1,59.4 306.2,59.4 306.2,59.4 306.5,59.4 306.6,59.4 306.8,59.4 307.0,59.4 307.3,59.4 307.3,59.4 307.7,59.4 307.7,59.4 307.9,59.4 308.1,59.4 308.4,59.5 308.4,59.5 308.7,59.5 308.8,59.5 309.1,59.5 309.1,59.5 309.3,59.5 309.5,59.5 309.8,59.5 309.9,59.5 310.2,59.5 310.2,59.5 310.5,59.5 310.6,59.5 310.9,59.5 310.9,59.5 311.3,59.5 311.3,59.5 311.6,59.5 311.6,59.5 312.0,59.5 312.0,59.5 312.3,59.5 312.4,59.5 312.7,59.5 312.8,59.5 313.1,59.5 313.1,59.5 313.4,59.5 313.4,59.5 313.8,59.5 313.8,59.5 314.1,59.6 314.2,59.6 314.5,59.6 314.5,59.6 314.9,59.6 314.9,59.6 315.2,59.6 315.2,59.6 315.6,59.6 315.6,59.6 315.9,59.6 316.0,59.6 316.3,59.6 316.3,59.6 316.3,59.6"/>
<polyline fill="none" stroke="#bccb2e" stroke-width="1.8" stroke-linejoin="round" stroke-opacity="1.0" points="51.4,51.5 75.6,54.4 89.7,52.0 99.7,54.3 107.5,56.7 113.8,55.3 119.2,55.2 123.9,60.7 128.0,59.4 131.7,63.4 135.0,64.3 138.0,50.6 140.8,66.0 143.4,63.5 145.8,63.1 148.0,67.2 150.1,64.0 152.1,66.8 154.0,63.3 155.8,65.2 157.5,63.7 159.1,68.6 160.7,65.8 162.2,70.7 163.6,70.7 165.0,69.8 166.3,62.6 167.5,69.1 168.8,70.9 169.9,71.6 171.1,66.4 172.2,70.0 173.3,68.5 174.3,69.2 175.3,75.5 176.3,69.5 177.3,72.2 178.2,75.4 179.1,70.6 180.0,72.3 180.8,73.1 181.7,73.1 182.5,68.9 183.3,73.3 184.1,77.6 184.8,68.2 185.6,76.2 186.3,73.8 187.0,71.4 187.7,80.3 188.4,76.3 189.1,69.9 189.8,74.2 190.4,76.0 191.1,73.6 191.7,76.6 192.3,74.2 192.9,76.7 193.5,79.4 194.1,64.6 194.7,75.6 195.2,73.5 195.8,75.6 196.4,71.4 196.9,73.5 197.4,74.9 197.9,78.6 198.5,79.6 199.0,71.5 199.5,73.4 200.0,78.3 200.5,69.7 200.9,74.9 201.4,76.2 201.9,80.8 202.3,79.0 202.8,75.8 203.2,75.7 203.7,76.2 204.1,82.2 204.6,75.9 205.0,76.4 205.4,78.6 205.8,77.2 206.2,77.0 206.6,74.2 207.1,77.8 207.5,76.5 207.8,81.8 208.2,80.2 208.6,78.1 209.0,80.4 209.4,77.3 209.7,81.8 210.1,78.5 210.5,80.4 210.8,74.6 211.2,79.8 211.6,73.5 211.9,72.5 212.3,78.0 212.6,76.2 212.9,79.6 213.3,86.1 213.6,76.7 213.9,77.4 214.3,80.0 214.6,80.9 214.9,78.9 215.2,78.9 215.5,81.7 215.9,81.2 216.2,76.6 216.5,79.5 216.8,79.9 217.1,76.7 217.4,80.7 217.7,77.4 218.0,82.9 218.3,80.6 218.6,80.4 218.8,78.5 219.1,79.9 219.4,74.5 219.7,77.1 220.0,81.4 220.2,74.4 220.5,82.9 220.8,75.6 221.1,82.7 221.3,78.3 221.6,82.8 221.8,81.1 222.1,76.5 222.4,84.3 222.6,84.8 222.9,80.7 223.1,80.2 223.4,80.6 223.6,78.4 223.9,84.1 224.1,79.7 224.4,81.0 224.6,79.1 224.9,79.6 225.1,77.9 225.3,84.7 225.6,81.0 225.8,84.0 226.0,81.5 226.3,79.7 226.5,80.7 226.7,80.1 227.0,81.7 227.2,80.7 227.4,80.9 227.6,78.2 227.8,79.7 228.1,86.1 228.3,80.2 228.5,79.3 228.7,82.8 228.9,85.5 229.1,78.4 229.4,81.6 229.6,80.5 229.8,77.8 230.0,84.0 230.2,82.2 230.4,82.5 230.6,80.5 230.8,83.5 231.0,81.1 231.2,82.1 231.4,79.8 231.6,79.6 231.8,85.8 232.0,81.4 232.2,83.3 232.4,82.6 232.6,81.6 232.8,81.5 233.0,84.3 233.2,82.1 233.3,82.5 233.5,82.9 233.7,85.6 233.9,84.5 234.1,83.9 234.3,81.7 234.5,79.9 234.6,85.3 234.8,85.3 235.0,82.8 235.2,84.4 235.4,85.0 235.5,85.1 235.7,85.4 235.9,82.3 236.1,86.7 236.2,80.7 236.6,84.6 236.9,87.6 237.1,86.8 237.4,80.0 237.6,85.4 237.8,81.5 238.1,85.5 238.4,79.4 238.6,84.4 238.9,83.4 239.1,84.0 239.4,80.9 239.5,83.7 239.9,80.8 240.0,85.2 240.2,84.1 240.5,82.3 240.6,83.0 240.9,82.6 241.1,84.7 241.5,85.1 241.7,88.4 241.8,81.9 242.0,86.2 242.3,84.6 242.4,81.9 242.7,86.1 242.9,84.6 243.1,84.2 243.3,86.9 243.6,80.9 243.7,83.6 244.0,79.1 244.3,87.4 244.4,85.1 244.5,83.0 244.8,87.1 245.1,85.2 245.2,85.1 245.5,86.6 245.6,86.2 245.9,83.6 246.1,84.2 246.3,87.2 246.4,83.3 246.7,85.5 246.8,83.3 246.9,88.3 247.2,84.8 247.3,86.8 247.5,81.5 247.7,86.1 247.9,85.8 248.0,84.1 248.3,85.5 248.4,87.6 248.8,88.2 248.9,85.1 249.1,83.2 249.3,88.3 249.4,87.4 249.6,87.0 249.8,86.4 250.0,85.8 250.1,85.8 250.3,88.4 250.8,85.4 250.9,88.6 251.0,87.0 251.3,84.9 251.6,87.6 251.7,85.9 252.0,86.7 252.1,84.4 252.3,85.4 252.4,87.8 252.8,88.7 253.0,85.9 253.3,85.5 253.5,89.4 253.8,85.5 253.9,87.3 254.0,85.3 254.3,88.5 254.6,88.9 254.7,87.3 254.9,89.4 255.2,85.5 255.4,88.9 255.6,86.1 255.7,86.2 255.9,87.6 256.2,87.6 256.3,87.0 256.6,87.3 256.7,89.5 256.8,88.1 257.0,85.6 257.2,85.3 257.4,88.5 257.6,87.4 257.7,85.7 258.1,90.1 258.3,86.9 258.3,86.5 258.4,87.7 258.8,86.6 258.9,88.9 259.1,88.9 259.2,87.4 259.5,87.6 259.7,86.5 259.9,87.8 260.0,89.0 260.1,86.3 260.4,88.4 260.6,89.1 260.7,87.0 261.1,86.4 261.3,89.5 261.6,87.3 261.7,90.6 261.8,89.7 262.1,86.9 262.3,87.3 262.4,89.4 262.8,88.5 263.0,87.8 263.2,87.5 263.4,89.3 263.5,87.4 263.8,89.4 263.9,89.9 264.0,88.1 264.3,88.2 264.5,89.3 264.6,88.0 264.9,89.6 265.2,89.4 265.3,87.6 265.5,89.8 265.5,87.9 265.8,88.2 266.1,89.5 266.2,89.4 266.4,87.9 266.5,90.4 266.6,89.0 266.9,90.5 267.1,88.2 267.2,88.4 267.4,89.8 267.7,90.3 267.7,87.6 268.1,88.5 268.3,90.3 268.3,90.0 268.6,88.4 268.9,88.9 269.1,90.4 269.2,90.7 269.3,89.2 269.6,89.1 269.7,90.1 270.0,89.2 270.2,89.9 270.4,89.9 270.7,88.8 270.8,90.0 271.1,89.4 271.3,89.4 271.4,90.1 271.6,90.3 271.7,89.2 272.0,89.8 272.1,90.4 272.3,89.4 272.4,90.7 272.7,90.6 272.8,89.0 273.0,89.6 273.3,91.1 273.4,91.0 273.5,89.7 273.8,90.8 273.9,90.0 274.1,90.9 274.4,89.7 274.5,90.7 274.6,89.7 274.9,89.5 275.0,90.9 275.3,89.3 275.5,91.3 275.8,90.4 275.9,91.5 276.3,91.3 276.3,90.3 276.6,91.1 276.6,90.1 276.8,90.1 277.1,91.2 277.2,91.2 277.3,90.4 277.6,90.5 277.9,91.4 277.9,91.8 278.3,90.5 278.5,90.3 278.6,91.2 278.8,91.2 278.9,90.6 279.0,90.6 279.1,91.5 279.4,90.4 279.5,92.1 279.7,91.9 280.0,90.9 280.1,91.8 280.3,90.4 280.6,91.3 280.9,90.4 281.0,92.0 281.1,90.6 281.4,90.6 281.4,91.4 281.8,90.7 281.9,92.1 282.1,91.1 282.1,91.9 282.5,91.0 282.5,92.2 282.8,91.1 283.0,92.0 283.2,92.0 283.2,90.8 283.5,91.8 283.8,90.8 283.9,91.1 284.0,92.1 284.4,91.0 284.4,91.9 284.7,92.1 284.9,91.2 285.1,92.2 285.2,91.1 285.6,92.6 285.7,91.4 285.8,92.0 286.1,91.1 286.3,91.2 286.4,92.1 286.6,91.5 286.7,92.3 286.9,91.7 287.0,92.6 287.3,91.4 287.4,92.3 287.6,92.6 287.8,91.7 288.2,91.6 288.3,92.2 288.4,91.7 288.6,92.7 288.8,92.5 288.8,91.6 289.3,91.4 289.3,92.3 289.6,91.7 289.8,92.4 289.9,91.7 290.0,92.4 290.2,92.0 290.4,92.4 290.6,92.8 290.8,91.6 291.2,92.5 291.2,91.6 291.3,92.4 291.5,91.8 291.8,92.5 291.9,92.1 292.0,92.0 292.3,92.8 292.4,92.7 292.7,91.7 293.0,91.8 293.1,92.7 293.2,91.9 293.4,92.8 293.6,92.8 293.7,91.8 293.9,92.0 293.9,93.0 294.4,91.8 294.5,92.8 294.8,92.8 294.8,91.8 295.1,92.7 295.1,91.9 295.5,92.1 295.5,93.0 295.9,92.2 296.0,92.7 296.2,92.2 296.3,92.8 296.5,92.7 296.5,91.9 296.9,93.1 297.1,92.3 297.2,93.1 297.5,92.2 297.8,92.1 297.8,92.9 297.9,92.0 297.9,92.6 298.4,92.9 298.5,92.3 298.7,92.2 298.8,92.8 299.0,93.0 299.0,92.3 299.5,92.9 299.6,92.3 299.8,92.9 299.9,92.1 300.2,93.1 300.2,92.4 300.5,93.3 300.6,92.5 301.0,92.4 301.1,93.0 301.2,93.0 301.5,92.3 301.8,92.2 301.9,93.0 302.1,92.4 302.1,93.3 302.3,93.0 302.5,92.5 302.6,92.4 302.7,93.1 303.2,92.9 303.2,92.4 303.4,92.3 303.5,93.3 303.7,92.3 303.7,93.3 304.1,93.1 304.3,92.5 304.5,92.6 304.6,93.2 304.8,92.5 305.1,93.1 305.3,92.3 305.3,93.3 305.6,93.3 305.6,92.5 306.0,93.3 306.2,92.6 306.3,92.6 306.5,93.3 306.8,92.6 306.9,93.2 307.1,93.4 307.1,92.5 307.5,92.4 307.6,93.1 307.9,93.2 308.0,92.7 308.1,92.6 308.3,93.3 308.5,92.5 308.7,93.1 308.8,93.1 308.9,92.5 309.2,93.2 309.4,92.7 309.5,93.3 309.8,92.5 310.0,92.7 310.2,93.2 310.2,93.1 310.4,92.6 310.7,92.6 310.9,93.1 311.0,93.2 311.3,92.5 311.3,92.6 311.5,93.3 311.8,92.7 311.8,93.3 312.0,93.2 312.2,92.7 312.4,93.1 312.6,92.6 313.0,93.3 313.1,92.8 313.1,93.2 313.2,92.6 313.5,93.2 313.6,92.8 314.0,92.8 314.0,93.3 314.3,92.6 314.4,93.2 314.6,92.8 314.8,93.3 314.9,93.3 315.1,92.8 315.3,93.2 315.3,92.7 315.7,93.2 315.8,92.7 316.2,93.4 316.2,92.7 316.3,92.8 316.3,92.9"/>
<polyline fill="none" stroke="#ff7f0e" stroke-width="1.6" stroke-linejoin="round" stroke-opacity="1.0" points="51.4,28.1 75.6,30.3 89.7,31.1 99.7,32.6 107.5,32.9 113.8,33.4 119.2,34.2 123.9,34.4 128.0,35.2 131.7,35.7 135.0,35.9 138.0,36.4 140.8,36.3 143.4,36.6 145.8,36.3 148.0,37.0 150.1,36.9 152.1,37.2 154.0,37.5 155.8,37.7 157.5,37.4 159.1,37.6 160.7,38.1 162.2,38.5 163.6,38.7 165.0,39.0 166.3,39.2 167.5,39.1 168.8,39.1 169.9,38.9 171.1,39.0 172.2,39.3 173.3,39.6 174.3,39.7 175.3,39.7 176.3,39.8 177.3,40.1 178.2,40.1 179.1,40.2 180.0,40.3 180.8,40.1 181.7,40.1 182.5,40.6 183.3,40.7 184.1,40.6 184.8,40.6 185.6,41.5 186.3,40.7 187.0,40.9 187.7,41.1 188.4,40.8 189.1,41.2 189.8,41.8 190.4,41.6 191.1,41.6 191.7,41.6 192.3,41.5 192.9,41.8 193.5,41.6 194.1,41.6 194.7,41.8 195.2,42.0 195.8,41.9 196.4,42.1 196.9,41.4 197.4,42.3 197.9,42.6 198.5,42.4 199.0,42.0 199.5,41.9 200.0,42.3 200.5,42.0 200.9,42.4 201.4,42.2 201.9,42.6 202.3,42.7 202.8,41.9 203.2,42.5 203.7,42.3 204.1,42.2 204.6,42.4 205.0,42.5 205.4,42.9 205.8,42.3 206.2,42.9 206.6,43.2 207.1,42.9 207.5,42.9 207.8,42.8 208.2,42.5 208.6,43.0 209.0,43.0 209.4,43.1 209.7,43.6 210.1,43.1 210.5,43.1 210.8,43.4 211.2,42.7 211.6,42.8 211.9,43.0 212.3,43.0 212.6,43.3 212.9,43.1 213.3,43.6 213.6,43.6 213.9,43.4 214.3,43.2 214.6,43.5 214.9,43.5 215.2,43.1 215.5,43.5 215.9,43.6 216.2,43.5 216.5,43.8 216.8,43.8 217.1,43.3 217.4,43.6 217.7,43.4 218.0,43.7 218.3,43.4 218.6,43.8 218.8,43.7 219.1,43.9 219.4,43.7 219.7,43.4 220.0,44.1 220.2,43.7 220.5,44.1 220.8,43.9 221.1,44.0 221.3,44.2 221.6,43.9 221.8,44.2 222.1,43.6 222.4,44.1 222.6,43.9 222.9,43.9 223.1,44.0 223.4,44.1 223.6,44.4 223.9,43.7 224.1,44.1 224.4,43.9 224.6,44.4 224.9,44.1 225.1,44.3 225.3,44.1 225.6,44.3 225.8,44.4 226.0,44.2 226.3,44.3 226.5,44.0 226.7,44.4 227.0,44.5 227.2,44.2 227.4,44.6 227.6,44.0 227.8,44.0 228.1,44.1 228.3,44.3 228.5,44.5 228.7,44.5 228.9,44.5 229.1,44.7 229.4,44.4 229.6,44.3 229.8,44.3 230.0,45.0 230.2,44.1 230.4,44.6 230.6,44.9 230.8,44.8 231.0,44.5 231.2,44.7 231.4,44.9 231.6,45.0 231.8,44.6 232.0,44.9 232.2,44.9 232.4,45.0 232.6,45.1 232.8,44.8 233.0,44.6 233.2,45.0 233.3,45.3 233.5,45.1 233.7,45.0 233.9,45.4 234.1,44.8 234.3,45.2 234.5,44.9 234.6,45.1 234.8,45.1 235.0,45.4 235.2,44.9 235.4,45.0 235.5,44.8 235.7,45.2 235.9,45.1 236.1,45.3 236.2,45.0 236.6,45.4 236.8,45.2 237.1,45.4 237.4,45.0 237.8,45.4 237.9,45.5 238.1,45.0 238.3,45.1 238.6,45.3 238.7,45.6 239.1,45.5 239.4,45.6 239.5,45.5 239.7,45.6 240.0,45.2 240.3,45.8 240.6,45.6 240.8,45.6 240.9,45.6 241.1,45.9 241.5,45.3 241.7,45.7 241.8,45.5 242.1,45.9 242.4,45.5 242.6,46.0 242.9,45.8 243.0,46.0 243.1,45.7 243.3,45.7 243.7,46.1 243.8,45.8 244.0,45.8 244.3,46.1 244.5,46.2 244.7,46.0 244.8,45.9 245.1,46.1 245.2,46.0 245.5,46.4 245.6,46.1 245.9,46.4 246.0,46.1 246.3,46.1 246.5,46.3 246.7,46.3 246.8,46.3 246.9,46.5 247.2,46.2 247.4,46.4 247.5,46.5 247.8,46.3 248.0,46.2 248.2,46.4 248.4,46.5 248.5,46.4 248.7,46.5 248.8,46.4 249.0,46.6 249.1,46.5 249.5,46.6 249.6,46.4 249.7,46.6 250.0,46.7 250.2,46.7 250.3,46.8 250.7,46.8 250.9,46.7 251.1,46.7 251.3,46.9 251.5,46.9 251.7,46.7 252.0,47.0 252.1,46.8 252.4,46.9 252.7,47.1 252.8,47.1 253.1,46.9 253.2,47.1 253.5,47.0 253.7,47.1 253.9,47.2 254.0,47.1 254.1,47.0 254.5,47.1 254.6,47.2 254.9,47.2 255.1,47.1 255.5,47.2 255.6,47.4 255.7,47.4 256.0,47.3 256.1,47.3 256.4,47.4 256.5,47.5 256.7,47.4 256.9,47.4 257.0,47.5 257.2,47.4 257.3,47.6 257.6,47.5 257.7,47.4 258.0,47.5 258.3,47.7 258.4,47.7 258.6,47.6 258.8,47.6 259.0,47.8 259.2,47.7 259.3,47.8 259.4,47.6 259.7,47.8 259.8,47.7 259.9,47.9 260.2,47.8 260.4,47.9 260.6,47.8 260.9,48.0 261.0,47.8 261.3,48.0 261.4,48.0 261.8,47.9 262.0,48.0 262.2,48.1 262.3,48.2 262.5,48.0 262.9,48.1 263.0,48.3 263.2,48.2 263.3,48.3 263.5,48.3 263.6,48.2 263.9,48.3 264.0,48.4 264.3,48.3 264.5,48.5 264.9,48.3 264.9,48.5 265.0,48.4 265.2,48.4 265.5,48.6 265.7,48.5 265.8,48.5 265.9,48.6 266.3,48.6 266.4,48.6 266.5,48.6 266.8,48.7 267.1,48.7 267.2,48.7 267.4,48.7 267.4,48.8 267.7,48.7 267.9,48.9 268.1,48.8 268.3,48.9 268.6,48.9 268.6,48.9 268.9,49.0 269.0,49.0 269.2,48.9 269.4,49.1 269.6,49.0 269.9,49.1 270.0,49.1 270.2,49.2 270.4,49.2 270.6,49.1 270.9,49.3 271.0,49.2 271.3,49.3 271.4,49.4 271.6,49.3 271.8,49.4 271.9,49.4 272.1,49.5 272.3,49.5 272.5,49.5 272.7,49.4 272.9,49.5 273.0,49.5 273.1,49.6 273.5,49.6 273.5,49.7 273.8,49.6 274.0,49.7 274.1,49.6 274.2,49.7 274.6,49.7 274.7,49.8 274.9,49.8 275.2,49.8 275.3,49.8 275.5,49.9 275.8,49.9 276.0,49.9 276.1,49.9 276.3,50.0 276.7,50.0 276.8,50.0 276.9,50.0 277.1,50.1 277.4,50.1 277.5,50.1 277.6,50.2 277.8,50.1 278.0,50.1 278.0,50.2 278.3,50.2 278.6,50.2 278.7,50.2 279.0,50.3 279.1,50.3 279.2,50.3 279.4,50.3 279.4,50.4 279.7,50.3 280.0,50.4 280.4,50.4 280.5,50.5 280.7,50.4 280.8,50.5 280.9,50.5 281.2,50.5 281.4,50.5 281.5,50.6 281.7,50.6 281.9,50.6 282.1,50.6 282.3,50.7 282.4,50.7 282.7,50.7 282.8,50.7 283.1,50.8 283.2,50.7 283.4,50.8 283.5,50.8 283.8,50.8 283.9,50.8 284.0,50.9 284.2,50.8 284.4,50.9 284.6,50.9 284.8,50.9 285.1,50.9 285.3,51.0 285.4,50.9 285.7,51.0 285.8,51.0 286.0,51.1 286.1,51.0 286.5,51.1 286.7,51.1 286.8,51.1 286.9,51.1 287.2,51.2 287.3,51.2 287.5,51.2 287.7,51.2 287.8,51.3 288.0,51.2 288.3,51.3 288.4,51.2 288.6,51.3 288.8,51.3 288.9,51.3 289.1,51.4 289.3,51.4 289.5,51.4 289.8,51.4 289.8,51.4 290.2,51.5 290.3,51.4 290.5,51.5 290.6,51.5 290.9,51.5 291.0,51.5 291.2,51.6 291.3,51.6 291.6,51.6 291.7,51.6 291.9,51.6 292.1,51.6 292.3,51.7 292.4,51.7 292.7,51.7 292.7,51.7 293.0,51.7 293.1,51.7 293.4,51.8 293.5,51.8 293.8,51.8 293.9,51.8 294.2,51.8 294.3,51.8 294.6,51.9 294.6,51.9 294.9,51.9 294.9,51.9 295.3,51.9 295.3,51.9 295.6,52.0 295.8,52.0 295.9,52.0 296.2,52.0 296.4,52.0 296.5,52.0 296.7,52.0 296.8,52.0 297.1,52.1 297.2,52.1 297.5,52.1 297.6,52.1 297.8,52.1 297.9,52.1 298.2,52.2 298.2,52.2 298.6,52.2 298.6,52.2 298.9,52.2 299.0,52.2 299.3,52.2 299.4,52.2 299.7,52.3 299.7,52.3 299.9,52.3 300.1,52.3 300.4,52.3 300.5,52.3 300.8,52.4 300.8,52.4 301.1,52.4 301.2,52.4 301.5,52.4 301.5,52.4 301.8,52.4 301.9,52.4 302.2,52.5 302.3,52.5 302.6,52.5 302.6,52.5 303.0,52.5 303.0,52.5 303.3,52.5 303.4,52.5 303.7,52.6 303.7,52.6 304.0,52.6 304.1,52.6 304.4,52.6 304.5,52.6 304.7,52.6 304.8,52.6 305.1,52.7 305.2,52.7 305.5,52.7 305.5,52.7 305.8,52.7 305.9,52.7 306.2,52.7 306.3,52.7 306.6,52.8 306.6,52.7 306.9,52.8 307.0,52.8 307.3,52.8 307.3,52.8 307.6,52.8 307.7,52.8 308.0,52.8 308.0,52.8 308.4,52.9 308.4,52.9 308.7,52.9 308.8,52.9 309.1,52.9 309.1,52.9 309.5,52.9 309.5,52.9 309.8,52.9 309.8,52.9 310.2,53.0 310.2,53.0 310.5,53.0 310.6,53.0 310.9,53.0 310.9,53.0 311.3,53.0 311.3,53.0 311.6,53.0 311.6,53.0 312.0,53.1 312.0,53.1 312.3,53.1 312.4,53.1 312.7,53.1 312.7,53.1 313.1,53.1 313.1,53.1 313.4,53.1 313.4,53.1 313.8,53.2 313.8,53.2 314.1,53.2 314.2,53.2 314.5,53.2 314.5,53.2 314.9,53.2 314.9,53.2 315.2,53.2 315.2,53.2 315.6,53.2 315.6,53.2 315.9,53.3 316.0,53.3 316.3,53.3 316.3,53.3 316.3,53.3"/>
</g>
<line x1="51.40" y1="214.00" x2="51.40" y2="218.50" stroke="#000" stroke-width="1.0"/>
<line x1="75.56" y1="214.00" x2="75.56" y2="216.50" stroke="#000" stroke-width="0.8"/>
<line x1="89.69" y1="214.00" x2="89.69" y2="216.50" stroke="#000" stroke-width="0.8"/>
<line x1="99.72" y1="214.00" x2="99.72" y2="216.50" stroke="#000" stroke-width="0.8"/>
<line x1="107.49" y1="214.00" x2="107.49" y2="216.50" stroke="#000" stroke-width="0.8"/>
<line x1="113.85" y1="214.00" x2="113.85" y2="216.50" stroke="#000" stroke-width="0.8"/>
<line x1="119.22" y1="214.00" x2="119.22" y2="216.50" stroke="#000" stroke-width="0.8"/>
<line x1="123.88" y1="214.00" x2="123.88" y2="216.50" stroke="#000" stroke-width="0.8"/>
<line x1="127.98" y1="214.00" x2="127.98" y2="216.50" stroke="#000" stroke-width="0.8"/>
<line x1="131.65" y1="214.00" x2="131.65" y2="218.50" stroke="#000" stroke-width="1.0"/>
<line x1="155.81" y1="214.00" x2="155.81" y2="216.50" stroke="#000" stroke-width="0.8"/>
<line x1="169.94" y1="214.00" x2="169.94" y2="216.50" stroke="#000" stroke-width="0.8"/>
<line x1="179.97" y1="214.00" x2="179.97" y2="216.50" stroke="#000" stroke-width="0.8"/>
<line x1="187.75" y1="214.00" x2="187.75" y2="216.50" stroke="#000" stroke-width="0.8"/>
<line x1="194.10" y1="214.00" x2="194.10" y2="216.50" stroke="#000" stroke-width="0.8"/>
<line x1="199.47" y1="214.00" x2="199.47" y2="216.50" stroke="#000" stroke-width="0.8"/>
<line x1="204.13" y1="214.00" x2="204.13" y2="216.50" stroke="#000" stroke-width="0.8"/>
<line x1="208.23" y1="214.00" x2="208.23" y2="216.50" stroke="#000" stroke-width="0.8"/>
<line x1="211.91" y1="214.00" x2="211.91" y2="218.50" stroke="#000" stroke-width="1.0"/>
<line x1="236.06" y1="214.00" x2="236.06" y2="216.50" stroke="#000" stroke-width="0.8"/>
<line x1="250.20" y1="214.00" x2="250.20" y2="216.50" stroke="#000" stroke-width="0.8"/>
<line x1="260.22" y1="214.00" x2="260.22" y2="216.50" stroke="#000" stroke-width="0.8"/>
<line x1="268.00" y1="214.00" x2="268.00" y2="216.50" stroke="#000" stroke-width="0.8"/>
<line x1="274.36" y1="214.00" x2="274.36" y2="216.50" stroke="#000" stroke-width="0.8"/>
<line x1="279.73" y1="214.00" x2="279.73" y2="216.50" stroke="#000" stroke-width="0.8"/>
<line x1="284.38" y1="214.00" x2="284.38" y2="216.50" stroke="#000" stroke-width="0.8"/>
<line x1="288.49" y1="214.00" x2="288.49" y2="216.50" stroke="#000" stroke-width="0.8"/>
<line x1="292.16" y1="214.00" x2="292.16" y2="218.50" stroke="#000" stroke-width="1.0"/>
<line x1="316.32" y1="214.00" x2="316.32" y2="216.50" stroke="#000" stroke-width="0.8"/>
<line x1="330.45" y1="214.00" x2="330.45" y2="216.50" stroke="#000" stroke-width="0.8"/>
<line x1="51.40" y1="214.00" x2="46.90" y2="214.00" stroke="#000" stroke-width="1.0"/>
<line x1="51.40" y1="197.04" x2="48.90" y2="197.04" stroke="#000" stroke-width="0.8"/>
<line x1="51.40" y1="187.12" x2="48.90" y2="187.12" stroke="#000" stroke-width="0.8"/>
<line x1="51.40" y1="180.08" x2="48.90" y2="180.08" stroke="#000" stroke-width="0.8"/>
<line x1="51.40" y1="174.62" x2="48.90" y2="174.62" stroke="#000" stroke-width="0.8"/>
<line x1="51.40" y1="170.16" x2="48.90" y2="170.16" stroke="#000" stroke-width="0.8"/>
<line x1="51.40" y1="166.39" x2="48.90" y2="166.39" stroke="#000" stroke-width="0.8"/>
<line x1="51.40" y1="163.12" x2="48.90" y2="163.12" stroke="#000" stroke-width="0.8"/>
<line x1="51.40" y1="160.24" x2="48.90" y2="160.24" stroke="#000" stroke-width="0.8"/>
<line x1="51.40" y1="157.66" x2="46.90" y2="157.66" stroke="#000" stroke-width="1.0"/>
<line x1="51.40" y1="140.70" x2="48.90" y2="140.70" stroke="#000" stroke-width="0.8"/>
<line x1="51.40" y1="130.78" x2="48.90" y2="130.78" stroke="#000" stroke-width="0.8"/>
<line x1="51.40" y1="123.74" x2="48.90" y2="123.74" stroke="#000" stroke-width="0.8"/>
<line x1="51.40" y1="118.28" x2="48.90" y2="118.28" stroke="#000" stroke-width="0.8"/>
<line x1="51.40" y1="113.82" x2="48.90" y2="113.82" stroke="#000" stroke-width="0.8"/>
<line x1="51.40" y1="110.05" x2="48.90" y2="110.05" stroke="#000" stroke-width="0.8"/>
<line x1="51.40" y1="106.78" x2="48.90" y2="106.78" stroke="#000" stroke-width="0.8"/>
<line x1="51.40" y1="103.90" x2="48.90" y2="103.90" stroke="#000" stroke-width="0.8"/>
<line x1="51.40" y1="101.32" x2="46.90" y2="101.32" stroke="#000" stroke-width="1.0"/>
<line x1="51.40" y1="84.36" x2="48.90" y2="84.36" stroke="#000" stroke-width="0.8"/>
<line x1="51.40" y1="74.44" x2="48.90" y2="74.44" stroke="#000" stroke-width="0.8"/>
<line x1="51.40" y1="67.40" x2="48.90" y2="67.40" stroke="#000" stroke-width="0.8"/>
<line x1="51.40" y1="61.94" x2="48.90" y2="61.94" stroke="#000" stroke-width="0.8"/>
<line x1="51.40" y1="57.48" x2="48.90" y2="57.48" stroke="#000" stroke-width="0.8"/>
<line x1="51.40" y1="53.71" x2="48.90" y2="53.71" stroke="#000" stroke-width="0.8"/>
<line x1="51.40" y1="50.44" x2="48.90" y2="50.44" stroke="#000" stroke-width="0.8"/>
<line x1="51.40" y1="47.56" x2="48.90" y2="47.56" stroke="#000" stroke-width="0.8"/>
<line x1="51.40" y1="44.98" x2="46.90" y2="44.98" stroke="#000" stroke-width="1.0"/>
<line x1="51.40" y1="28.02" x2="48.90" y2="28.02" stroke="#000" stroke-width="0.8"/>
<line x1="51.40" y1="18.10" x2="48.90" y2="18.10" stroke="#000" stroke-width="0.8"/>
<line x1="51.40" y1="11.06" x2="48.90" y2="11.06" stroke="#000" stroke-width="0.8"/>
<line x1="51.40" y1="5.60" x2="48.90" y2="5.60" stroke="#000" stroke-width="0.8"/>
<rect x="51.40" y="5.60" width="279.05" height="208.40" fill="none" stroke="#000" stroke-width="1.25"/>
<text x="51.90" y="233.00" font-size="13.2" text-anchor="middle">10<tspan dy="-7.5" font-size="9.2">2</tspan></text>
<text x="132.15" y="233.00" font-size="13.2" text-anchor="middle">10<tspan dy="-7.5" font-size="9.2">3</tspan></text>
<text x="212.41" y="233.00" font-size="13.2" text-anchor="middle">10<tspan dy="-7.5" font-size="9.2">4</tspan></text>
<text x="292.66" y="233.00" font-size="13.2" text-anchor="middle">10<tspan dy="-7.5" font-size="9.2">5</tspan></text>
<text x="44.40" y="220.00" font-size="13.2" text-anchor="end">10<tspan dy="-7.5" font-size="9.2">−3</tspan></text>
<text x="44.40" y="163.66" font-size="13.2" text-anchor="end">10<tspan dy="-7.5" font-size="9.2">−2</tspan></text>
<text x="44.40" y="107.32" font-size="13.2" text-anchor="end">10<tspan dy="-7.5" font-size="9.2">−1</tspan></text>
<text x="44.40" y="50.98" font-size="13.2" text-anchor="end">10<tspan dy="-7.5" font-size="9.2">0</tspan></text>
<line x1="136.70" y1="134.20" x2="160.10" y2="134.20" stroke="#ff7f0e" stroke-width="1.6"/>
<text x="168.50" y="137.90" font-size="10.85" text-anchor="start" >Total</text>
<line x1="136.70" y1="150.20" x2="160.10" y2="150.20" stroke="#9467bd" stroke-width="1.6"/>
<text x="168.8" y="154.20" font-size="11.5" style="font-family:'Liberation Sans',sans-serif;font-weight:normal;font-style:italic;stroke-width:0.08px">L<tspan dx="-0.6" dy="1.7" font-size="8.3" style="font-style:normal">1</tspan></text>
<line x1="136.70" y1="166.30" x2="160.10" y2="166.30" stroke="#8c564b" stroke-width="1.6"/>
<text x="168.8" y="170.30" font-size="11.5" style="font-family:'Liberation Sans',sans-serif;font-weight:normal;font-style:italic;stroke-width:0.08px">L<tspan dx="-0.6" dy="1.7" font-size="8.3" style="font-style:normal">2</tspan></text>
<line x1="136.70" y1="182.20" x2="160.10" y2="182.20" stroke="#1f77b4" stroke-width="1.6"/>
<text x="168.50" y="185.90" font-size="10.85" text-anchor="start" >Energy_train</text>
<line x1="136.70" y1="197.90" x2="160.10" y2="197.90" stroke="#2ca02c" stroke-width="1.6"/>
<text x="168.50" y="201.60" font-size="10.85" text-anchor="start" >Force_train</text>
<line x1="233.40" y1="134.20" x2="256.50" y2="134.20" stroke="#d62728" stroke-width="1.6"/>
<text x="265.20" y="137.90" font-size="10.85" text-anchor="start" >Virial_train</text>
<line x1="233.40" y1="150.20" x2="256.50" y2="150.20" stroke="#e377c2" stroke-width="1.6"/>
<text x="265.20" y="153.90" font-size="10.85" text-anchor="start" >Energy_test</text>
<line x1="233.40" y1="166.30" x2="256.50" y2="166.30" stroke="#7f7f7f" stroke-width="1.6"/>
<text x="265.20" y="170.00" font-size="10.85" text-anchor="start" >Force_test</text>
<line x1="233.40" y1="182.20" x2="256.50" y2="182.20" stroke="#bccb2e" stroke-width="1.6"/>
<text x="265.20" y="185.90" font-size="10.85" text-anchor="start" >Virial_test</text>
<text x="190.92" y="248.20" font-size="13.25" text-anchor="middle" >Generation</text>
<text transform="translate(15.3,109.80) rotate(-90)" font-size="13.25" text-anchor="middle">Loss</text>
<g clip-path="url(#cb)">
<path d="M480.6 155.7h0M427.8 193.9h0M447.5 182.9h0M498.0 146.4h0M506.3 134.7h0M496.6 142.9h0M541.9 110.1h0M541.3 108.1h0M523.4 121.4h0M478.2 160.0h0M514.0 130.3h0M451.6 174.9h0M527.2 121.2h0M451.0 177.6h0M542.7 107.1h0M422.7 198.6h0M518.8 128.3h0M482.5 154.6h0M521.2 126.6h0M485.0 150.8h0M523.3 125.7h0M508.0 132.9h0M499.5 143.4h0M537.8 112.1h0M435.5 190.9h0M534.7 115.0h0M485.1 150.0h0M507.9 132.8h0M503.1 136.1h0M469.1 163.7h0M485.7 151.0h0M540.4 109.9h0M481.0 153.7h0M533.6 116.0h0M422.1 197.0h0M491.5 146.3h0M505.6 134.5h0M469.6 162.5h0M431.0 190.9h0M518.3 127.9h0M513.5 131.0h0M467.8 166.5h0M433.0 191.0h0M524.1 122.7h0M516.3 127.0h0M523.4 124.9h0M521.6 119.3h0M453.3 175.5h0M497.7 140.2h0M478.2 155.1h0M469.0 167.6h0M471.4 162.2h0M503.7 135.4h0M543.6 111.7h0M479.1 154.9h0M466.0 167.3h0M498.1 142.6h0M498.3 141.4h0M471.0 165.0h0M500.3 139.9h0M501.6 140.2h0M512.7 132.1h0M441.5 183.0h0M501.1 134.1h0M472.3 160.6h0M529.0 117.9h0M496.9 142.8h0M520.6 126.2h0M520.5 124.7h0M447.2 177.5h0M430.6 192.0h0M514.3 128.4h0M427.8 194.7h0M537.4 108.5h0M505.8 138.7h0M473.0 159.7h0M503.3 137.1h0M437.2 186.9h0M499.4 142.7h0M534.0 116.8h0M421.0 199.8h0M536.2 113.3h0M459.2 172.9h0M469.8 164.7h0M536.4 112.4h0M518.8 124.8h0M468.3 165.0h0M541.3 110.7h0M425.0 197.6h0M502.1 135.0h0M483.6 152.0h0M530.0 118.2h0M423.3 196.2h0M460.5 166.4h0M479.7 153.8h0M430.0 195.0h0M500.3 140.4h0M525.1 122.4h0M532.3 116.9h0M438.7 188.1h0M483.2 153.6h0M542.0 110.8h0M429.8 192.4h0M507.6 134.7h0M456.1 175.4h0M532.6 118.8h0M495.7 144.4h0M531.1 116.2h0M427.2 194.1h0M495.4 144.0h0M472.6 166.1h0M434.3 190.4h0M471.3 163.1h0M512.1 132.0h0M492.5 148.0h0M493.9 145.7h0M455.3 174.9h0M483.5 148.5h0M475.8 157.4h0M532.7 116.3h0M528.8 119.0h0M474.7 159.5h0M482.8 153.0h0M457.0 173.3h0M490.6 147.5h0M437.0 185.9h0M539.6 109.6h0M471.9 161.0h0M422.1 196.5h0M457.5 171.9h0M537.5 114.0h0M459.1 173.8h0M468.5 165.1h0M540.7 110.2h0M517.4 126.9h0M465.3 164.7h0M441.3 185.2h0M469.0 164.9h0M466.8 164.0h0M530.9 115.6h0M487.2 150.8h0M534.6 114.1h0M542.1 106.9h0M527.8 119.2h0M470.9 162.3h0M469.0 166.9h0M488.2 147.2h0M504.4 136.2h0M525.2 121.4h0M521.4 125.2h0M459.4 172.7h0M511.4 132.1h0M467.2 165.1h0M516.4 126.5h0M422.7 200.1h0M525.2 119.4h0M506.7 135.4h0M439.0 184.2h0M451.8 178.0h0M459.2 170.4h0M484.1 150.5h0M532.2 116.2h0M540.2 112.8h0M495.0 144.7h0M434.4 188.6h0M541.1 111.9h0M538.9 113.6h0M431.8 191.0h0M502.8 139.9h0M502.9 137.3h0M502.2 140.7h0M510.0 135.8h0M421.7 200.2h0M458.9 168.8h0M462.5 169.9h0M500.7 139.9h0M432.7 190.4h0M455.0 175.6h0M442.5 181.7h0M426.8 194.9h0M479.1 155.4h0M446.1 183.4h0M480.2 158.0h0M446.3 184.9h0M518.3 127.1h0M434.7 189.6h0M515.7 127.6h0M501.7 136.8h0M440.5 185.3h0M467.5 165.2h0M468.0 163.7h0M476.9 155.4h0M503.9 138.9h0M422.9 197.1h0M441.4 184.7h0M506.8 135.9h0M432.4 189.7h0M524.7 123.3h0M466.5 167.2h0M425.5 195.1h0M515.4 129.0h0M451.1 177.4h0M543.6 108.1h0M534.3 114.1h0M529.7 118.8h0M529.5 117.2h0M430.1 192.1h0M424.3 194.7h0M470.3 160.7h0M472.7 159.6h0M471.2 162.3h0M494.3 144.5h0M517.3 128.5h0M517.8 122.7h0M535.2 114.5h0M504.1 136.5h0M528.7 116.9h0M432.2 193.2h0M424.2 198.4h0M476.5 158.7h0M529.4 120.0h0M468.4 166.1h0M434.6 190.1h0M436.5 185.9h0M449.1 177.3h0M527.1 120.2h0M462.3 168.6h0M526.5 123.3h0M536.7 112.0h0M516.1 127.7h0M534.4 116.5h0M452.4 175.7h0M444.9 181.9h0M450.7 178.1h0M423.2 199.4h0M535.3 115.1h0M446.3 182.0h0M498.4 141.0h0M456.0 172.8h0M487.3 149.4h0M474.5 159.8h0M509.5 134.0h0M445.7 177.8h0M456.5 175.9h0M438.0 184.9h0M460.9 169.1h0M523.4 122.9h0M539.3 111.9h0M422.9 198.4h0M524.8 123.8h0M511.1 134.3h0M430.8 192.4h0M440.7 187.3h0M527.3 118.8h0M444.9 179.9h0M532.5 121.5h0M487.3 152.4h0M541.9 108.7h0M483.0 152.8h0M437.1 187.3h0M495.4 143.2h0M475.7 157.4h0M429.7 191.6h0M521.5 121.6h0M531.4 116.9h0M539.4 109.7h0M500.1 142.9h0M492.6 146.2h0M445.0 183.5h0M539.4 108.8h0M511.2 128.4h0M503.1 137.3h0M506.3 137.8h0M524.3 122.4h0M463.2 167.9h0M434.8 188.9h0M542.7 106.8h0M424.9 195.1h0M454.4 178.7h0M481.4 152.2h0M426.0 196.5h0M459.1 171.9h0M527.9 117.4h0M497.8 142.5h0M492.7 148.0h0M423.3 199.8h0M473.5 160.2h0M436.0 186.8h0M468.6 161.6h0M468.7 164.1h0M473.2 161.2h0M459.8 167.9h0M516.9 128.5h0M477.9 154.7h0M532.5 115.8h0M463.3 167.5h0M438.7 186.6h0M464.6 166.4h0M528.0 120.2h0M465.1 167.6h0M521.8 124.4h0M506.1 136.9h0M452.8 175.3h0M444.5 181.8h0M434.9 189.5h0M476.2 158.5h0M506.3 136.1h0M457.1 169.8h0M538.2 111.9h0M422.8 199.1h0M517.5 127.9h0M441.9 182.8h0M543.5 108.2h0M433.1 190.7h0M534.1 115.4h0M470.3 162.4h0M456.2 172.6h0M426.0 195.0h0M448.0 181.9h0M468.1 166.0h0M535.9 117.7h0M539.8 109.4h0M430.8 190.4h0M490.0 145.9h0M425.0 196.2h0M433.8 188.1h0M496.6 143.0h0M485.7 151.3h0M531.5 119.3h0M532.0 117.8h0M440.6 185.7h0M498.8 139.9h0M520.0 122.9h0M515.9 129.3h0M490.7 146.8h0M483.9 152.0h0M491.1 148.3h0M471.7 164.2h0M490.4 148.8h0M530.5 119.9h0M463.7 168.0h0M475.1 159.2h0M474.8 159.6h0M527.4 120.2h0M451.1 176.2h0M475.0 160.6h0M513.3 129.2h0M469.2 166.1h0M526.1 120.9h0M487.0 149.5h0M433.2 191.6h0M466.1 168.3h0M439.0 185.0h0M475.0 160.2h0M465.7 164.8h0M462.7 167.1h0M522.8 123.4h0M531.2 117.2h0M513.8 128.6h0M515.1 128.6h0M530.6 119.0h0M533.7 115.0h0M442.4 182.6h0M531.2 116.8h0M440.8 184.4h0M454.4 174.7h0M518.1 127.1h0M438.6 187.8h0M539.4 113.2h0M535.4 112.2h0M421.0 200.4h0M499.1 140.7h0M534.6 116.9h0M487.4 149.6h0M487.0 151.5h0M493.1 141.0h0M488.9 150.3h0M492.4 147.6h0M504.6 135.6h0M538.4 110.0h0M431.1 195.2h0M449.8 177.6h0M421.7 197.6h0M429.2 195.2h0M445.8 179.9h0M531.8 117.5h0M459.7 172.1h0M494.8 144.9h0M459.4 171.5h0M542.3 111.0h0M444.7 178.3h0M469.5 163.9h0M466.4 166.7h0M447.3 178.5h0M430.1 192.8h0M469.0 161.5h0M445.8 181.4h0M423.9 196.8h0M529.8 118.1h0M463.2 167.7h0M422.4 198.7h0M496.7 143.1h0M479.7 153.0h0M505.7 137.3h0M465.2 167.3h0M438.2 187.1h0M499.5 139.9h0M469.9 162.3h0M528.6 117.6h0M461.1 171.6h0M448.3 178.6h0M443.9 182.7h0M452.5 176.4h0M450.3 177.3h0M485.1 154.6h0M466.7 164.9h0M540.0 110.3h0M446.1 183.0h0M536.5 113.4h0M462.3 166.3h0M480.4 155.7h0M538.8 110.5h0M516.9 128.2h0M537.3 113.9h0M487.2 151.5h0M460.1 170.9h0M503.9 135.5h0M505.1 135.3h0M426.1 196.7h0M434.2 188.1h0M537.2 112.9h0M509.5 134.4h0M522.1 123.3h0M444.1 183.6h0M540.7 112.5h0M458.0 169.8h0M438.2 189.4h0M465.1 165.7h0M464.2 169.6h0M428.2 194.2h0M524.9 122.1h0M527.9 120.3h0M445.3 184.7h0M488.7 149.1h0M527.9 119.7h0M467.4 166.2h0M483.5 152.9h0M451.0 175.5h0M478.5 157.6h0M459.4 170.4h0M522.2 125.6h0M440.6 184.3h0M425.1 195.4h0M531.6 113.0h0M442.2 182.3h0M488.5 148.4h0M508.1 132.2h0M461.1 171.0h0M535.1 112.6h0M462.5 169.3h0M445.2 182.3h0M429.1 191.8h0M531.5 116.6h0M447.6 177.6h0M531.2 119.4h0M477.1 157.2h0M535.6 114.7h0M431.7 191.9h0M526.0 123.9h0M541.3 108.2h0M508.3 133.9h0M437.4 188.7h0M543.5 110.0h0M519.4 127.3h0M446.8 178.0h0M540.2 110.6h0M431.6 192.0h0M437.0 186.8h0M422.9 198.0h0M493.7 144.8h0M470.6 161.3h0M431.6 191.1h0M481.6 152.9h0M529.2 120.5h0M432.3 190.9h0M499.5 141.4h0M441.7 183.8h0M483.7 152.6h0M463.1 169.0h0M454.9 174.7h0M422.5 196.9h0M492.0 147.2h0M475.5 160.7h0M505.9 135.1h0M443.7 181.0h0M541.8 109.6h0M423.5 197.4h0M445.1 182.7h0M499.8 140.9h0M437.5 185.4h0M453.0 174.3h0M482.6 153.2h0M513.9 130.5h0M527.2 122.6h0M459.9 169.9h0M501.8 138.4h0M423.9 195.7h0M530.4 114.6h0M503.5 137.2h0M531.8 115.2h0M446.9 181.8h0M482.0 152.0h0M512.3 129.9h0M424.1 195.0h0M524.3 121.2h0M507.9 133.8h0M517.8 124.9h0M441.0 185.5h0M516.4 127.2h0M490.6 145.7h0M439.4 186.9h0M437.2 189.1h0M526.3 120.1h0M469.9 162.7h0M454.4 173.5h0M466.2 164.6h0M505.1 137.8h0M437.8 186.4h0M440.9 182.8h0M500.8 140.4h0M530.8 117.8h0M503.5 139.5h0M537.0 111.5h0M455.8 170.5h0M464.5 169.0h0M466.8 164.0h0M465.1 165.1h0M454.0 175.6h0M518.3 127.2h0M455.8 175.0h0M472.1 162.4h0M479.0 155.8h0M543.3 107.0h0M461.5 169.0h0M505.9 134.7h0M461.3 169.0h0M519.3 127.8h0M468.6 161.6h0M423.7 195.6h0M485.2 152.5h0M462.5 165.7h0M453.5 174.4h0M457.0 172.3h0M421.3 196.3h0M510.7 136.2h0M488.3 151.6h0M499.1 139.9h0M490.9 147.5h0M467.8 165.9h0M477.3 155.0h0M479.5 154.9h0M533.7 117.2h0M463.8 168.4h0M439.7 184.1h0M431.3 189.0h0M462.4 171.5h0M491.3 146.5h0M492.5 146.5h0M510.4 135.3h0M502.0 139.1h0M431.3 194.2h0M468.9 164.4h0M466.5 162.9h0M434.9 188.2h0M493.3 144.2h0M516.1 127.4h0M426.3 194.9h0M486.1 149.3h0M435.7 190.2h0M516.3 128.7h0M489.6 146.8h0M429.1 194.4h0M484.3 152.7h0M450.6 175.4h0M446.5 178.0h0M502.9 139.1h0M470.7 163.5h0M535.0 113.3h0M533.5 114.9h0M525.8 122.1h0M471.4 160.8h0M532.1 115.5h0M429.9 192.6h0M516.3 123.7h0M465.1 164.4h0M527.3 118.7h0M424.7 195.1h0M491.6 142.1h0M429.6 191.3h0M457.2 173.4h0M490.4 147.1h0M438.1 186.5h0M506.3 136.5h0M484.0 151.9h0M448.5 178.4h0M487.1 150.1h0M475.8 159.2h0M425.2 195.0h0M508.1 136.7h0M508.8 132.5h0M532.8 115.9h0M536.6 112.6h0M466.5 169.0h0M500.0 137.8h0M495.6 146.2h0M427.5 195.9h0M509.9 132.0h0M454.5 175.3h0M473.2 161.0h0M497.2 145.8h0M483.0 153.7h0M455.4 173.3h0M528.2 118.2h0M432.5 191.2h0M495.0 143.7h0M443.7 181.7h0M534.6 115.5h0M536.0 114.6h0M508.6 130.9h0M529.6 119.5h0M515.1 127.2h0M501.3 139.2h0M512.8 128.5h0M532.8 116.8h0M447.7 178.7h0M510.6 131.9h0M443.0 183.2h0M477.6 156.6h0M462.7 169.3h0M498.8 141.3h0M499.5 141.3h0M531.8 115.4h0M524.1 122.5h0M429.0 195.5h0M442.3 184.0h0M426.5 195.4h0M508.2 135.6h0M463.5 165.5h0M540.7 109.3h0M447.3 178.4h0M538.4 112.8h0M513.9 130.6h0M514.6 127.9h0M495.6 145.8h0M529.6 117.6h0M449.8 177.7h0M527.7 120.4h0M529.2 118.4h0M495.5 145.4h0M502.2 138.3h0M449.1 180.2h0M481.3 156.2h0M493.1 143.4h0M459.8 171.4h0M426.2 198.7h0M537.6 110.7h0M520.0 126.6h0M465.9 171.3h0M486.3 150.6h0M493.6 143.7h0M538.6 110.9h0M489.6 145.5h0M509.9 133.2h0M519.6 124.8h0M433.4 191.7h0M492.5 145.7h0M535.2 111.7h0M522.2 123.0h0M534.2 114.5h0M441.0 187.5h0M516.5 128.6h0M455.3 175.7h0M528.5 117.8h0M517.3 128.5h0M467.1 164.4h0M492.1 147.7h0M478.7 153.4h0M536.6 114.8h0M489.0 148.3h0M430.5 188.2h0M486.8 149.9h0M423.4 198.9h0M437.7 185.9h0M481.3 152.8h0M477.7 155.7h0M429.5 196.0h0M462.8 167.8h0M456.3 176.3h0M456.2 170.1h0M475.4 158.6h0M679.1 6.8h0M674.9 9.7h0M672.3 11.3h0M669.1 13.5h0M664.9 16.0h0M661.8 18.1h0M658.5 20.1h0M650.1 26.2h0M647.0 28.7h0M643.7 32.4h0M642.8 34.5h0M626.9 45.2h0M624.7 47.2h0M622.7 49.5h0M617.2 52.7h0M615.2 54.7h0M608.8 58.3h0M600.1 61.6h0M596.0 68.5h0M594.0 70.6h0M588.7 73.3h0M575.9 84.3h0M577.0 83.3h0M567.5 90.8h0M565.3 92.9h0M561.1 93.9h0M562.2 97.1h0M555.8 98.1h0M550.5 101.2h0M547.4 103.3h0M652.6 24.3h0M655.4 22.6h0M619.1 51.0h0" stroke="#2f7dbd" stroke-width="5.0" stroke-linecap="round" fill="none"/>
<path d="M503.1 138.2h0M476.9 157.2h0M532.4 113.2h0M435.1 190.5h0M526.9 118.8h0M425.4 196.8h0M525.3 121.2h0M433.9 188.7h0M506.5 134.9h0M435.9 187.8h0M516.4 128.4h0M450.2 177.6h0M432.2 190.9h0M527.0 118.8h0M492.2 148.0h0M524.3 122.8h0M517.7 128.6h0M435.0 190.1h0M435.2 189.7h0M508.6 132.7h0M524.1 119.9h0M445.2 179.8h0M529.0 120.1h0M426.9 194.9h0M515.0 130.6h0M498.2 141.2h0M469.5 161.7h0M469.1 162.8h0M460.3 169.0h0M480.2 155.4h0M483.1 155.3h0M443.4 185.0h0M425.4 196.2h0M486.3 150.0h0M446.4 178.9h0M435.5 189.0h0M453.7 174.9h0M440.9 184.2h0M526.4 119.4h0M458.3 171.7h0M500.6 141.2h0M425.0 195.2h0M502.2 138.3h0M537.0 112.3h0M513.4 131.9h0M514.4 129.7h0M473.4 162.3h0M480.4 157.4h0M530.7 117.7h0M451.9 176.9h0M483.8 151.9h0M510.3 131.0h0M463.8 167.5h0M479.8 153.4h0M428.0 194.9h0M504.7 136.0h0M443.6 184.0h0M454.5 174.2h0M450.5 177.8h0M509.0 133.9h0M471.2 161.3h0M541.7 111.5h0M518.6 126.4h0M533.3 116.5h0M505.3 136.3h0M451.1 176.5h0M462.2 169.1h0M466.9 165.5h0M447.8 180.7h0M479.2 155.3h0M517.6 128.0h0M485.7 150.6h0M443.5 184.3h0M510.7 130.8h0M538.3 113.0h0M480.1 153.9h0M440.6 185.3h0M510.4 132.0h0M487.7 149.7h0M519.6 124.9h0M495.6 143.7h0M527.2 118.6h0M425.5 195.3h0M500.9 138.9h0M495.2 142.1h0M516.2 129.1h0M449.8 176.4h0M493.2 145.4h0M455.5 175.4h0M513.3 129.9h0M433.3 190.5h0M442.5 181.4h0M535.9 114.2h0M511.3 131.9h0M453.7 174.7h0M460.8 171.9h0M475.3 158.3h0M451.5 177.8h0M440.5 183.2h0M538.8 109.4h0M448.9 178.6h0M512.5 132.9h0M509.0 133.5h0M511.1 131.9h0M459.7 169.6h0M450.2 178.0h0M496.9 144.1h0M541.9 109.3h0M469.9 164.0h0M449.7 175.9h0M484.1 153.1h0M446.3 181.3h0M465.0 166.6h0M511.0 133.6h0M452.6 176.4h0M477.0 157.8h0M500.1 140.9h0M442.7 183.5h0M440.9 183.1h0M538.2 111.3h0M526.7 122.0h0M528.7 119.4h0M491.7 145.7h0M483.6 153.4h0M436.7 187.6h0M452.3 176.1h0M437.2 186.7h0M486.9 150.4h0M475.5 158.9h0M444.3 183.0h0M435.5 188.1h0M491.9 147.5h0M440.6 182.8h0M425.3 196.2h0M450.6 177.6h0M519.0 125.3h0M501.8 139.2h0M485.1 151.4h0M450.5 177.4h0M479.3 156.8h0M425.0 197.5h0M462.4 169.3h0M480.7 153.5h0M434.7 189.9h0M492.6 146.4h0M476.3 158.6h0M430.2 191.7h0M441.3 182.0h0M481.7 155.1h0M530.2 117.2h0M430.6 192.1h0M490.5 147.9h0M457.5 171.5h0M469.9 164.4h0M533.2 114.6h0M498.5 141.3h0M457.5 173.3h0M477.4 155.4h0M540.2 109.4h0M526.7 119.1h0M474.3 161.3h0M486.6 150.7h0M478.2 157.3h0M441.7 183.3h0M538.6 110.0h0M451.0 179.3h0M449.8 177.9h0M436.9 187.7h0M535.5 112.7h0M532.3 116.3h0M499.4 142.4h0M486.5 150.7h0M492.7 147.1h0M467.7 165.4h0M529.3 118.4h0M489.9 148.5h0M525.3 121.2h0M506.2 137.6h0M504.3 134.5h0M503.4 136.4h0M515.8 127.7h0M520.3 126.8h0M504.8 139.3h0M461.9 169.9h0M455.0 174.3h0M447.1 177.3h0M525.3 120.0h0M481.4 154.9h0M423.9 195.9h0M494.9 142.8h0M526.2 120.8h0M532.7 114.5h0M535.1 113.8h0M526.8 121.1h0M444.8 183.0h0M485.0 151.8h0M507.8 133.4h0M500.1 141.9h0M466.3 167.4h0M428.2 193.4h0M529.7 121.4h0M516.1 126.3h0M526.5 121.1h0M469.5 162.3h0M453.2 173.2h0M523.9 124.2h0M501.4 140.6h0M502.9 135.6h0M427.9 194.6h0M436.5 188.0h0M515.0 128.9h0M528.6 117.8h0M465.7 164.5h0M527.2 119.9h0M445.1 181.8h0M492.6 146.0h0M465.2 166.0h0M487.1 148.5h0M447.1 179.7h0M469.2 161.3h0M478.6 157.4h0M492.5 145.4h0M448.1 177.1h0M495.6 142.2h0M448.9 178.2h0M539.6 111.9h0M452.4 176.8h0M436.8 187.8h0M456.0 172.9h0M491.2 147.3h0M476.7 159.5h0M502.0 139.8h0M436.8 187.0h0M472.7 159.8h0M489.8 149.7h0M539.4 111.4h0M528.9 120.8h0M491.6 147.3h0M459.4 166.6h0M437.4 187.1h0M498.8 141.7h0M490.6 148.1h0M480.1 156.7h0M509.2 135.7h0M479.0 156.1h0M516.2 128.6h0M458.0 170.0h0M462.6 170.2h0M532.0 116.0h0M492.5 144.5h0M537.1 115.0h0M431.1 191.1h0M533.5 117.3h0M430.6 191.6h0M512.5 129.3h0M492.5 146.0h0M438.2 186.2h0M459.7 171.3h0M480.7 154.5h0M490.0 146.6h0M481.7 154.3h0M427.0 195.1h0M541.8 108.8h0M465.6 165.2h0M509.5 135.2h0M534.0 115.0h0M539.3 111.8h0M445.6 180.5h0M529.6 117.1h0M484.6 151.5h0M501.5 137.8h0M453.0 176.7h0M440.9 185.0h0M492.5 147.2h0M530.9 117.2h0M473.5 160.1h0M536.8 113.1h0M507.5 136.2h0M426.0 195.8h0M534.6 115.1h0M437.1 186.7h0M450.1 178.0h0M490.6 146.1h0M535.2 113.8h0M439.8 187.6h0M459.1 171.2h0M429.2 195.0h0M434.2 188.4h0M474.9 157.5h0M492.1 146.3h0M484.4 151.5h0M429.4 194.8h0M474.7 162.0h0M476.5 158.6h0M534.7 114.8h0M462.6 170.1h0M498.9 141.1h0M481.7 153.7h0M516.1 127.6h0M495.5 142.0h0M541.5 108.5h0M499.4 141.3h0M464.3 166.9h0M473.7 159.4h0M525.3 122.7h0M467.5 163.2h0M533.7 114.2h0M476.1 158.6h0M535.7 114.5h0M441.6 179.5h0M516.8 126.9h0M476.5 156.8h0M450.7 175.1h0M493.8 143.9h0M430.9 191.8h0M447.5 178.8h0M524.3 123.3h0M485.9 150.1h0M463.9 169.2h0M440.9 184.0h0M442.8 182.5h0M451.1 178.8h0M478.4 154.3h0M426.2 196.9h0M448.1 177.9h0M474.6 160.0h0M528.5 118.8h0M526.5 121.4h0M534.7 111.6h0M450.5 176.2h0M438.6 184.2h0M524.5 121.2h0M506.7 134.6h0M453.1 175.3h0M475.2 159.2h0M533.5 114.7h0M520.7 124.7h0M534.8 114.5h0M482.4 155.2h0M446.7 180.6h0M487.7 148.8h0M437.3 187.8h0M437.7 186.5h0M434.6 189.4h0M453.7 176.2h0M443.3 183.8h0M454.4 175.3h0M506.2 136.1h0M503.5 138.0h0M426.9 193.7h0M525.7 122.5h0M521.0 127.1h0M535.8 112.8h0M449.7 178.5h0M510.4 132.7h0M489.9 145.0h0M507.6 133.0h0M530.9 116.6h0M433.4 189.0h0M523.6 122.6h0M525.7 120.1h0M500.3 140.9h0M471.4 162.6h0M488.0 149.9h0M440.5 183.0h0M512.1 129.5h0M489.2 149.2h0M492.0 145.0h0M507.9 134.6h0M435.8 187.1h0M429.4 193.5h0M437.9 185.6h0M433.3 190.3h0M518.9 126.6h0M439.5 185.6h0M468.5 163.7h0M501.7 139.8h0M454.4 176.0h0M531.9 114.5h0M532.2 116.8h0M470.2 164.8h0M493.4 148.0h0M517.0 131.0h0M540.2 111.0h0M506.0 134.3h0M477.1 159.4h0M429.0 193.8h0M499.9 142.6h0M502.0 137.6h0M506.0 135.4h0M465.1 166.1h0M526.0 119.4h0M494.1 142.8h0M468.9 162.4h0M452.7 176.4h0M427.4 196.1h0M508.2 135.4h0M461.3 171.4h0M525.1 119.5h0M462.0 169.0h0M460.1 170.0h0M516.7 127.6h0M468.9 161.2h0M540.7 110.6h0M490.9 145.8h0M535.0 113.9h0M438.3 186.7h0M429.3 195.4h0M425.4 195.0h0M527.7 120.5h0M480.4 155.6h0M510.8 132.0h0M486.1 150.6h0M538.5 110.2h0M519.9 126.3h0M480.7 154.6h0M445.3 180.9h0M469.4 163.2h0M470.1 161.9h0M466.5 165.7h0M508.6 132.5h0M523.0 124.0h0M522.2 125.4h0M447.2 179.9h0M443.8 181.0h0M503.3 138.5h0M510.8 133.1h0M516.8 128.3h0M531.0 117.0h0M463.7 167.7h0M431.9 190.9h0M467.7 166.5h0M462.2 166.8h0M436.9 186.8h0M504.4 138.1h0M484.4 150.4h0M497.8 141.5h0M526.9 118.5h0M492.1 147.6h0M529.0 116.7h0M520.3 125.1h0M486.4 152.9h0M497.3 141.5h0M479.6 156.0h0M469.8 164.1h0M510.5 132.7h0M495.1 146.3h0M467.7 163.8h0M501.2 139.7h0M487.3 150.1h0M437.0 185.7h0M512.2 131.2h0M482.7 154.1h0M533.9 116.2h0M530.4 117.7h0M437.3 185.9h0M455.4 174.4h0M506.4 136.8h0M447.6 178.4h0M521.5 124.2h0M503.7 137.6h0M536.5 110.6h0M465.5 167.6h0M505.4 136.1h0M495.2 146.0h0M504.7 137.2h0M536.3 112.6h0M465.6 164.7h0M451.3 178.3h0M519.2 125.0h0M441.7 183.0h0M489.2 148.6h0M533.6 112.3h0M524.2 122.3h0M505.8 137.1h0M425.5 195.5h0M540.0 112.7h0M477.5 155.3h0M458.3 170.3h0M431.8 191.8h0M440.9 183.8h0M429.2 192.6h0M490.2 145.4h0M469.0 164.3h0M458.7 172.7h0M520.8 127.2h0M433.3 190.5h0M473.9 161.7h0M519.1 126.3h0M522.2 123.3h0M507.9 135.0h0M486.0 152.0h0M442.7 181.8h0M470.7 162.5h0M510.3 132.4h0M516.4 127.0h0M496.2 144.7h0M530.4 118.7h0M490.8 144.3h0M524.3 122.4h0M531.1 118.4h0M443.7 182.7h0M441.1 185.0h0M541.0 111.2h0M458.9 171.5h0M477.0 157.6h0M474.1 159.8h0M524.4 121.5h0M425.3 198.2h0M482.0 155.6h0M478.6 155.4h0M435.5 189.1h0M476.7 156.3h0M527.5 119.5h0M429.9 194.4h0M453.5 174.5h0M495.9 144.6h0M488.2 148.8h0M513.9 128.5h0M464.4 164.5h0M438.4 186.4h0M467.7 163.7h0M522.3 123.4h0M475.5 157.7h0M470.9 165.1h0M516.5 128.5h0M493.2 145.1h0M440.0 184.6h0M468.9 164.5h0M531.6 115.8h0M427.3 193.4h0M514.2 129.7h0M460.4 170.2h0M512.6 131.4h0M443.3 182.5h0M501.6 137.8h0M525.8 119.3h0M431.7 192.0h0M537.3 113.6h0M436.4 188.8h0M425.4 194.9h0M521.4 124.1h0M484.6 151.5h0M428.0 193.6h0M501.5 138.8h0M484.1 152.4h0M541.8 110.4h0M539.6 111.5h0M528.0 119.3h0M485.8 150.5h0M520.9 125.2h0M511.1 132.5h0M456.1 171.5h0M512.5 131.6h0M458.9 170.8h0M473.6 160.4h0M433.3 191.2h0M440.0 186.9h0M483.3 153.5h0M523.2 124.0h0M518.0 125.9h0M442.4 184.7h0M488.2 149.7h0M460.2 169.3h0M448.1 179.3h0M467.2 164.3h0M504.4 136.1h0M533.5 117.3h0M435.4 189.1h0M458.6 172.4h0M512.5 129.4h0M482.8 153.3h0M469.8 162.3h0M518.9 124.3h0M426.0 196.1h0M536.0 113.4h0M456.1 172.7h0M524.2 122.6h0M522.8 121.8h0M523.2 122.1h0M497.2 141.3h0M500.8 139.7h0M429.5 193.4h0M474.5 159.9h0M498.0 142.3h0M456.2 175.0h0M504.6 136.5h0M489.3 147.4h0M503.0 138.2h0M525.3 122.0h0M463.5 167.6h0M497.9 141.7h0M429.6 192.6h0M518.4 124.5h0M520.5 126.1h0M505.4 135.9h0M505.8 135.2h0M490.3 147.5h0M462.4 168.7h0M518.3 127.9h0M439.4 186.3h0M492.8 144.9h0M436.6 186.0h0M512.2 132.0h0M483.3 152.3h0M498.9 140.6h0M444.0 181.0h0M473.2 160.1h0M502.1 138.3h0M476.1 157.2h0M509.6 134.5h0M433.9 189.7h0M466.3 167.6h0M436.6 190.0h0M511.4 132.8h0M470.6 164.1h0M512.5 130.4h0M513.5 129.1h0M428.3 194.3h0M497.5 142.4h0M519.2 126.3h0M532.4 116.5h0M434.3 189.3h0M434.7 188.7h0M476.4 158.5h0M512.8 131.7h0M437.1 188.0h0M542.0 108.0h0M508.3 134.7h0M425.5 194.3h0M512.0 131.7h0M474.8 157.6h0M444.6 183.1h0M502.4 139.4h0M508.6 133.4h0M497.5 141.7h0M453.8 175.0h0M445.4 178.8h0M430.9 191.9h0M443.7 182.1h0M466.5 166.0h0M463.8 165.5h0M432.1 190.1h0M524.0 122.0h0M446.0 182.6h0M433.3 189.8h0M448.6 179.3h0M476.2 157.7h0M497.8 140.9h0M433.5 190.9h0M441.7 183.6h0M427.0 193.9h0M471.0 161.8h0M542.3 109.1h0M516.5 129.3h0M524.9 122.5h0M532.2 117.8h0M450.0 176.6h0M500.6 139.8h0M473.2 161.8h0M466.9 165.1h0M513.7 131.6h0M490.5 151.3h0M497.6 140.8h0M455.9 172.0h0M535.3 115.7h0M501.6 140.0h0M498.5 141.3h0M513.9 130.4h0M532.1 117.3h0M444.7 182.3h0M455.1 174.2h0M539.1 111.8h0M503.7 137.3h0M529.2 118.8h0M463.1 168.8h0M540.8 109.9h0M475.0 161.0h0M519.2 124.3h0M531.9 118.6h0M485.1 151.6h0M473.2 160.0h0M482.9 152.7h0M439.1 185.6h0M432.3 189.5h0M535.9 114.8h0M501.2 139.6h0M433.8 189.7h0M493.8 145.6h0M453.3 175.9h0M523.4 121.4h0M466.4 166.3h0M425.9 196.3h0M502.7 138.7h0M541.7 109.4h0M511.2 131.8h0M537.8 112.4h0M435.9 187.8h0M458.4 171.3h0M515.8 128.0h0M478.6 154.8h0M445.0 182.5h0M464.5 165.0h0M457.7 172.5h0M507.2 134.2h0M515.4 128.7h0M511.0 132.5h0M503.0 140.4h0M512.5 129.2h0M533.3 116.4h0M455.1 174.8h0M456.8 171.4h0M540.2 110.2h0M528.2 117.1h0M502.6 136.5h0M517.9 126.2h0M500.1 140.0h0M460.4 169.1h0M490.9 148.7h0M452.8 175.5h0M435.5 188.4h0M464.0 167.8h0M519.7 125.4h0M440.3 186.7h0M429.2 192.2h0M451.7 175.0h0M516.8 129.3h0M528.5 118.9h0M456.3 171.3h0M537.7 111.7h0M480.5 156.1h0M505.3 137.6h0M503.0 137.2h0M476.5 155.8h0M523.6 124.0h0M530.2 117.8h0M479.7 156.4h0M459.5 171.0h0M534.9 114.0h0M506.8 135.4h0M466.9 165.9h0M443.3 180.4h0M470.6 162.5h0M476.5 158.2h0M520.3 123.9h0M507.0 135.1h0M484.3 152.3h0M531.5 115.8h0M493.2 146.7h0M526.2 119.9h0M431.5 190.4h0M433.3 189.5h0M525.7 121.4h0M511.0 132.2h0M454.5 176.3h0M438.1 186.8h0M432.3 190.6h0M461.8 168.0h0M528.8 118.7h0M446.6 180.8h0M453.3 176.2h0M522.4 123.7h0M445.8 180.8h0M452.2 174.7h0M512.3 131.2h0M525.4 122.0h0M535.5 114.0h0M429.1 193.9h0M462.9 168.4h0M496.2 145.7h0M463.2 169.7h0M511.7 133.0h0M450.5 176.8h0M495.5 143.8h0M443.0 182.8h0M441.7 182.7h0M518.4 127.8h0M498.2 140.4h0M491.1 146.6h0M468.4 164.8h0M503.7 136.0h0M536.8 114.5h0M468.3 165.4h0M429.4 193.3h0M454.4 174.0h0M516.4 128.3h0M459.1 173.4h0M513.3 130.8h0M448.0 179.3h0M494.5 141.6h0M467.2 163.4h0M487.0 150.0h0M468.2 165.4h0M494.2 144.3h0M511.5 133.1h0M506.9 135.0h0M474.8 158.8h0M428.2 194.5h0M521.9 123.7h0M436.5 188.2h0M654.3 23.1h0M637.8 37.2h0M631.4 41.4h0M612.1 56.2h0M603.2 63.9h0M554.7 103.3h0M667.9 14.3h0" stroke="#f7811f" stroke-width="5.0" stroke-linecap="round" fill="none"/>
<line x1="401.50" y1="214.00" x2="680.50" y2="5.55" stroke="#808080" stroke-width="1.0"/>
</g>
<line x1="401.50" y1="214.00" x2="401.50" y2="218.50" stroke="#000" stroke-width="1.0"/>
<text x="401.50" y="229.20" font-size="13.2" text-anchor="middle" >−10</text>
<line x1="457.30" y1="214.00" x2="457.30" y2="218.50" stroke="#000" stroke-width="1.0"/>
<text x="457.30" y="229.20" font-size="13.2" text-anchor="middle" >−8</text>
<line x1="513.10" y1="214.00" x2="513.10" y2="218.50" stroke="#000" stroke-width="1.0"/>
<text x="513.10" y="229.20" font-size="13.2" text-anchor="middle" >−6</text>
<line x1="568.90" y1="214.00" x2="568.90" y2="218.50" stroke="#000" stroke-width="1.0"/>
<text x="568.90" y="229.20" font-size="13.2" text-anchor="middle" >−4</text>
<line x1="624.70" y1="214.00" x2="624.70" y2="218.50" stroke="#000" stroke-width="1.0"/>
<text x="624.70" y="229.20" font-size="13.2" text-anchor="middle" >−2</text>
<line x1="680.50" y1="214.00" x2="680.50" y2="218.50" stroke="#000" stroke-width="1.0"/>
<text x="680.50" y="229.20" font-size="13.2" text-anchor="middle" >0</text>
<line x1="401.50" y1="214.00" x2="397.00" y2="214.00" stroke="#000" stroke-width="1.0"/>
<text x="394.00" y="218.80" font-size="13.2" text-anchor="end" >−10</text>
<line x1="401.50" y1="172.31" x2="397.00" y2="172.31" stroke="#000" stroke-width="1.0"/>
<text x="394.00" y="177.11" font-size="13.2" text-anchor="end" >−8</text>
<line x1="401.50" y1="130.62" x2="397.00" y2="130.62" stroke="#000" stroke-width="1.0"/>
<text x="394.00" y="135.42" font-size="13.2" text-anchor="end" >−6</text>
<line x1="401.50" y1="88.93" x2="397.00" y2="88.93" stroke="#000" stroke-width="1.0"/>
<text x="394.00" y="93.73" font-size="13.2" text-anchor="end" >−4</text>
<line x1="401.50" y1="47.24" x2="397.00" y2="47.24" stroke="#000" stroke-width="1.0"/>
<text x="394.00" y="52.04" font-size="13.2" text-anchor="end" >−2</text>
<line x1="401.50" y1="5.55" x2="397.00" y2="5.55" stroke="#000" stroke-width="1.0"/>
<text x="394.00" y="10.35" font-size="13.2" text-anchor="end" >0</text>
<rect x="401.50" y="5.55" width="279.00" height="208.45" fill="none" stroke="#000" stroke-width="1.25"/>
<rect x="408.20" y="12.20" width="122.20" height="41.20" rx="2.5" fill="#fff" fill-opacity="0.8" stroke="#d9d9d9" stroke-width="0.9"/>
<circle cx="426.60" cy="22.40" r="2.4" fill="#2f7dbd"/>
<circle cx="426.60" cy="41.20" r="2.4" fill="#f7811f"/>
<text x="451.10" y="27.00" font-size="13.05" text-anchor="start" >Train dataset</text>
<text x="451.10" y="45.60" font-size="13.05">Test<tspan x="484.10">dataset</tspan></text>
<text x="536.20" y="152.00" font-size="11.7" text-anchor="start" >RMSE = 56.89 meV/atom</text>
<text x="536.20" y="170.00" font-size="11.7" text-anchor="start" >RMSE = 57.75 meV/atom</text>
<text x="541.00" y="244.30" font-size="13.25" text-anchor="middle" >DFT energy (eV/atom)</text>
<text transform="translate(368,109.78) rotate(-90)" font-size="13.25" text-anchor="middle">NEP energy (eV/atom)</text>
<g clip-path="url(#cc)">
<path d="M175.7 390.5h0M233.7 348.9h0M207.5 364.8h0M183.0 386.9h0M170.3 398.7h0M196.3 375.0h0M207.1 366.0h0M214.9 362.4h0M232.0 348.7h0M204.1 366.8h0M160.6 398.0h0M247.3 337.6h0M223.4 350.8h0M214.3 361.9h0M228.2 349.2h0M150.5 413.0h0M181.2 385.7h0M177.3 390.0h0M224.2 355.5h0M158.9 406.6h0M182.6 384.4h0M233.2 349.3h0M209.2 368.9h0M180.8 389.4h0M243.1 342.0h0M154.8 407.3h0M203.9 372.8h0M185.1 386.9h0M205.4 368.8h0M183.8 386.0h0M168.4 390.2h0M197.2 376.7h0M155.2 404.8h0M206.0 365.6h0M182.6 387.1h0M216.7 357.8h0M179.1 388.7h0M172.9 393.9h0M202.3 368.5h0M225.3 356.6h0M134.4 423.6h0M194.6 381.7h0M208.6 367.7h0M152.3 407.7h0M167.1 398.7h0M209.0 365.4h0M168.6 398.6h0M173.8 391.0h0M238.5 345.3h0M165.4 401.1h0M167.6 394.8h0M127.7 427.7h0M161.2 401.7h0M157.5 405.3h0M238.4 344.0h0M224.7 355.1h0M156.5 408.2h0M245.3 339.1h0M212.5 363.5h0M186.3 383.0h0M213.5 364.4h0M201.8 365.1h0M170.3 397.4h0M142.9 416.1h0M166.3 398.5h0M191.1 382.8h0M181.5 390.2h0M170.9 394.1h0M218.0 359.1h0M162.0 401.8h0M215.7 365.0h0M178.0 390.8h0M194.2 377.5h0M160.4 402.2h0M191.0 377.7h0M169.7 395.4h0M143.3 414.5h0M190.7 376.9h0M189.8 386.6h0M214.0 361.4h0M199.0 375.4h0M163.3 399.4h0M174.4 392.4h0M122.9 432.8h0M160.4 404.9h0M226.9 353.0h0M232.8 349.6h0M212.2 361.9h0M199.5 374.9h0M207.3 360.0h0M204.6 370.9h0M143.5 412.6h0M167.2 399.7h0M223.8 355.1h0M223.6 354.2h0M197.8 380.6h0M182.6 390.5h0M180.6 387.3h0M176.2 389.1h0M165.7 396.8h0M138.2 419.0h0M195.3 372.8h0M178.7 392.1h0M185.3 386.4h0M238.3 342.9h0M207.4 369.3h0M171.8 395.2h0M207.1 372.0h0M149.7 411.6h0M220.1 361.6h0M198.4 373.4h0M185.8 381.0h0M206.9 368.0h0M231.2 350.2h0M178.4 391.3h0M163.9 399.7h0M249.4 338.7h0M191.6 381.1h0M232.3 343.1h0M172.5 396.9h0M201.6 373.8h0M173.5 396.4h0M208.6 364.8h0M183.5 386.6h0M172.7 396.7h0M233.9 350.5h0M200.5 371.0h0M135.1 421.1h0M184.6 383.4h0M165.8 399.4h0M157.5 403.9h0M175.0 389.7h0M177.9 387.6h0M192.0 383.3h0M169.2 400.6h0M139.7 421.1h0M176.3 390.9h0M215.4 365.1h0M153.4 410.4h0M208.2 367.5h0M203.8 372.8h0M178.7 392.4h0M199.6 372.0h0M170.4 394.9h0M180.0 387.0h0M162.8 398.4h0M203.9 367.8h0M229.0 352.3h0M172.3 394.9h0M224.2 361.4h0M132.0 425.2h0M166.6 400.8h0M163.0 399.5h0M238.7 343.9h0M174.7 389.7h0M212.6 362.3h0M134.3 421.0h0M194.2 377.0h0M206.7 368.5h0M190.0 382.1h0M195.9 376.9h0M213.5 365.6h0M227.7 352.6h0M202.1 372.5h0M144.2 421.5h0M185.2 390.9h0M216.1 364.3h0M168.3 398.4h0M206.7 369.5h0M177.7 385.4h0M193.6 380.1h0M212.1 369.4h0M171.3 394.5h0M195.2 375.2h0M200.5 366.8h0M170.4 397.9h0M192.7 380.3h0M183.6 387.9h0M150.4 408.4h0M148.4 411.2h0M199.0 374.5h0M188.6 380.8h0M117.8 435.7h0M131.3 425.4h0M182.4 387.1h0M189.1 383.1h0M207.9 368.5h0M156.5 405.7h0M207.5 367.8h0M182.4 383.7h0M176.9 389.3h0M187.1 383.9h0M218.5 364.1h0M206.5 372.1h0M215.8 363.1h0M171.8 395.7h0M183.1 389.4h0M158.6 405.4h0M175.6 391.9h0M179.9 390.2h0M178.0 390.6h0M210.9 366.0h0M202.9 373.3h0M212.2 366.5h0M194.6 378.2h0M220.9 357.5h0M194.2 382.6h0M217.9 364.3h0M205.0 373.9h0M211.5 364.3h0M189.1 385.7h0M156.5 404.8h0M150.7 411.6h0M245.6 339.7h0M201.8 374.2h0M203.4 369.2h0M186.3 384.0h0M178.2 389.4h0M159.8 410.2h0M189.3 379.0h0M189.6 385.5h0M159.5 405.3h0M155.5 406.2h0M171.4 395.6h0M181.4 386.7h0M177.5 390.2h0M213.7 363.6h0M158.1 406.5h0M202.3 370.1h0M231.9 348.3h0M215.9 363.1h0M159.2 407.2h0M214.6 362.7h0M204.8 371.9h0M174.7 392.5h0M226.7 352.6h0M179.7 386.5h0M194.0 375.1h0M162.1 401.4h0M199.9 378.2h0M179.0 391.4h0M177.0 390.0h0M221.1 354.8h0M197.0 377.7h0M149.3 413.2h0M210.3 363.5h0M214.3 363.5h0M167.8 395.6h0M180.0 386.5h0M192.5 381.7h0M184.0 387.4h0M194.5 379.3h0M209.1 366.1h0M177.3 389.5h0M249.0 338.8h0M171.2 394.4h0M176.0 395.5h0M245.9 339.2h0M257.5 330.5h0M192.0 379.9h0M185.8 387.7h0M161.1 403.1h0M222.9 360.3h0M195.8 373.9h0M167.4 398.8h0M202.3 372.7h0M229.2 352.3h0M210.1 365.3h0M252.6 334.6h0M223.3 354.9h0M203.3 375.2h0M190.1 378.9h0M206.3 371.1h0M224.9 354.1h0M214.9 362.4h0M220.4 356.8h0M197.2 376.2h0M212.4 367.5h0M224.9 359.0h0M186.4 384.6h0M154.9 403.4h0M239.1 345.4h0M207.3 368.4h0M178.7 387.2h0M197.5 378.1h0M184.1 385.1h0M143.5 415.7h0M185.9 385.8h0M151.3 409.9h0M196.7 374.2h0M188.0 380.6h0M222.6 357.6h0M187.7 376.7h0M201.4 371.6h0M182.7 387.5h0M180.4 390.1h0M152.0 412.7h0M218.6 357.4h0M195.8 388.8h0M174.8 393.1h0M196.8 379.3h0M179.4 389.6h0M170.8 395.8h0M198.0 378.3h0M224.9 357.0h0M183.5 383.5h0M151.3 411.2h0M173.9 393.5h0M241.1 343.8h0M168.4 396.0h0M224.1 353.9h0M184.3 383.6h0M211.6 364.2h0M188.0 381.6h0M147.0 415.3h0M179.5 386.5h0M249.9 338.3h0M187.3 385.4h0M206.7 369.7h0M181.6 389.4h0M187.3 382.5h0M200.0 372.4h0M204.2 368.1h0M252.9 334.6h0M190.6 382.3h0M186.0 385.6h0M172.6 398.7h0M154.4 409.1h0M146.2 410.9h0M209.5 369.7h0M139.1 420.0h0M230.2 350.4h0M215.0 362.3h0M182.8 385.1h0M158.9 406.1h0M191.8 384.5h0M191.7 377.2h0M222.5 358.3h0M170.4 396.2h0M180.5 388.0h0M189.6 389.3h0M183.3 386.8h0M173.7 394.9h0M143.3 415.4h0M145.4 415.6h0M172.2 402.8h0M184.8 383.6h0M218.9 364.4h0M255.5 333.2h0M238.9 346.0h0M202.1 373.7h0M243.5 341.5h0M187.9 379.2h0M176.4 393.3h0M255.6 333.4h0M161.4 401.5h0M179.5 388.1h0M183.8 384.5h0M231.8 349.7h0M174.5 393.4h0M212.9 365.3h0M179.8 390.0h0M157.0 404.5h0M197.7 369.8h0M195.8 372.7h0M158.9 406.4h0M167.0 399.4h0M169.0 397.0h0M218.0 360.8h0M204.0 373.3h0M197.8 370.9h0M204.8 367.2h0M177.9 390.8h0M204.4 371.6h0M174.3 393.1h0M154.0 410.2h0M171.5 395.8h0M197.0 374.5h0M193.7 375.0h0M220.6 357.0h0M144.1 413.6h0M185.0 387.4h0M202.2 385.0h0M164.3 398.0h0M198.1 375.0h0M179.8 389.2h0M159.7 401.1h0M222.4 360.3h0M152.5 410.9h0M219.1 361.0h0M179.6 385.7h0M165.0 398.3h0M166.5 402.2h0M170.6 392.6h0M167.6 398.1h0M198.7 374.0h0M139.1 421.6h0M225.8 349.0h0M214.5 362.3h0M229.9 349.5h0M163.8 402.7h0M126.6 427.6h0M173.8 393.3h0M186.5 385.0h0M199.7 376.0h0M176.8 394.0h0M188.9 384.8h0M195.4 378.9h0M148.1 412.7h0M241.6 342.0h0M160.0 406.5h0M198.6 377.3h0M221.3 359.1h0M169.4 399.9h0M191.4 381.0h0M236.8 347.3h0M183.4 386.7h0M220.4 358.0h0M199.4 370.7h0M197.7 373.9h0M211.3 365.0h0M184.9 383.9h0M185.5 386.5h0M218.1 362.1h0M198.6 373.6h0M205.2 368.9h0M158.0 401.5h0M191.8 381.1h0M225.1 356.9h0M216.4 361.1h0M201.0 374.2h0M177.0 394.6h0M174.3 390.3h0M203.6 367.2h0M230.9 350.2h0M192.6 380.9h0M227.8 352.8h0M183.1 386.7h0M224.9 357.7h0M163.6 399.6h0M196.6 375.7h0M161.7 400.3h0M209.8 368.7h0M207.4 368.6h0M165.0 400.3h0M170.7 399.2h0M179.1 384.2h0M150.0 414.6h0M165.6 401.7h0M167.3 399.0h0M213.2 367.1h0M230.0 350.9h0M179.1 390.5h0M183.4 386.1h0M197.4 375.4h0M176.9 391.0h0M183.7 385.8h0M214.7 363.2h0M197.8 374.6h0M189.1 380.3h0M175.5 393.2h0M232.4 350.5h0M174.3 394.6h0M194.8 376.6h0M162.7 402.4h0M174.9 394.1h0M194.1 384.6h0M180.4 384.3h0M206.3 371.8h0M193.3 372.0h0M152.9 407.7h0M127.1 426.6h0M219.1 359.2h0M175.2 390.6h0M232.6 349.1h0M191.8 378.7h0M170.1 394.5h0M206.9 363.0h0M183.9 388.1h0M191.8 378.9h0M165.5 396.6h0M209.2 364.2h0M221.9 359.4h0M176.8 390.6h0M241.1 342.8h0M175.6 391.6h0M198.3 380.1h0M145.8 412.9h0M137.8 422.8h0M249.9 330.3h0M231.0 349.6h0M223.3 356.8h0M144.1 414.5h0M197.7 375.3h0M203.1 372.7h0M193.6 378.8h0M199.7 373.3h0M165.8 402.1h0M186.9 382.0h0M159.6 402.0h0M181.6 385.2h0M201.7 370.0h0M169.6 394.0h0M183.6 384.5h0M179.3 386.4h0M191.8 379.7h0M217.0 360.4h0M197.9 372.2h0M202.3 364.3h0M151.2 410.8h0M181.2 391.0h0M214.1 355.7h0M167.3 396.0h0M179.2 385.4h0M164.3 398.8h0M228.5 351.8h0M178.7 392.2h0M171.0 399.0h0M208.5 364.5h0M221.9 354.2h0M205.0 369.4h0M218.6 362.0h0M197.2 377.1h0M187.7 384.4h0M179.0 390.1h0M177.1 397.0h0M174.6 392.3h0M201.5 366.4h0M188.1 383.9h0M193.7 378.4h0M208.1 367.2h0M189.7 383.8h0M153.1 407.4h0M169.2 398.4h0M160.1 405.0h0M138.1 419.2h0M194.1 378.3h0M157.8 405.1h0M155.5 408.6h0M161.2 401.4h0M215.5 364.3h0M182.5 384.9h0M219.0 360.5h0M188.7 385.0h0M179.0 389.6h0M206.9 370.9h0M207.8 369.1h0M194.4 378.6h0M162.3 400.5h0M178.4 386.7h0M158.3 404.1h0M184.0 386.4h0M193.8 382.0h0M232.4 350.0h0M230.5 351.6h0M210.0 366.6h0M217.7 361.6h0M197.5 377.8h0M233.7 347.4h0M201.7 375.5h0M202.6 371.9h0M220.4 356.3h0M196.4 378.3h0M199.8 376.2h0M163.6 401.7h0M217.3 361.6h0M194.9 377.1h0M213.6 361.0h0M184.9 385.3h0M141.6 416.5h0M205.0 372.3h0M223.5 357.1h0M155.4 406.6h0M164.0 401.9h0M182.7 381.8h0M184.2 386.5h0M143.7 416.3h0M240.0 345.7h0M219.2 360.3h0M173.9 395.4h0M140.5 419.0h0M201.1 376.9h0M246.3 339.3h0M214.1 357.0h0M223.2 359.9h0M164.8 396.8h0M197.5 376.0h0M149.2 410.2h0M246.2 341.0h0M206.9 364.4h0M132.3 426.0h0M139.5 419.1h0M204.4 367.2h0M194.8 380.6h0M182.3 392.2h0M208.2 367.9h0M247.0 340.0h0M201.2 375.1h0M140.7 419.6h0M186.6 387.2h0M154.4 405.4h0M168.6 394.9h0M200.0 376.9h0M186.2 384.4h0M161.3 403.6h0M190.2 378.6h0M168.1 399.2h0M205.6 366.1h0M184.1 385.7h0M201.7 374.3h0M183.4 386.4h0M211.7 366.3h0M187.0 378.3h0M190.4 380.3h0M175.0 393.5h0M194.7 377.5h0M141.3 415.2h0M171.8 396.9h0M193.5 382.6h0M177.5 387.8h0M177.1 388.4h0M201.9 374.2h0M176.5 391.7h0M178.8 387.2h0M152.3 414.1h0M164.9 397.6h0M158.1 405.7h0M240.9 341.3h0M153.5 408.6h0M160.7 397.5h0M196.0 378.2h0M230.4 349.3h0M143.4 424.0h0M147.4 413.0h0M194.1 376.4h0M200.0 377.3h0M151.1 413.8h0M140.4 418.2h0M163.8 398.9h0M211.4 362.9h0M189.4 383.4h0M211.3 364.7h0M187.6 386.4h0M189.6 377.5h0M207.6 369.4h0M187.2 377.9h0M197.1 376.6h0M165.1 401.1h0M173.8 387.1h0M203.5 373.1h0M183.8 383.0h0M169.6 397.2h0M208.8 369.1h0M205.7 371.4h0M190.3 378.5h0M169.3 396.9h0M215.4 363.0h0M260.1 331.5h0M167.5 395.8h0M147.5 411.3h0M168.7 396.6h0M164.4 398.9h0M155.2 413.0h0M157.4 407.4h0M214.0 363.1h0M214.3 362.9h0M231.7 351.2h0M211.2 364.6h0M177.1 393.9h0M220.6 359.7h0M173.3 396.4h0M180.7 388.0h0M157.6 406.8h0M224.5 356.5h0M218.5 357.4h0M177.4 390.8h0M181.7 387.6h0M191.3 384.0h0M195.9 378.1h0M213.8 361.6h0M192.1 378.4h0M201.4 372.7h0M148.5 412.6h0M181.9 387.2h0M140.3 417.2h0M239.9 345.1h0M229.1 356.5h0M210.2 358.7h0M221.2 354.2h0M246.1 339.7h0M216.4 358.9h0M145.8 416.5h0M184.4 382.5h0M124.6 429.5h0M167.5 396.4h0M155.5 408.2h0M189.9 381.0h0M201.0 371.8h0M164.3 398.5h0M182.2 385.9h0M197.9 374.4h0M185.7 385.9h0M185.1 381.0h0M123.1 430.9h0M177.8 390.9h0M212.2 366.0h0M197.3 378.7h0M148.7 413.4h0M182.5 390.4h0M197.5 375.3h0M162.9 401.7h0M208.8 366.8h0M167.7 400.5h0M180.8 389.1h0M187.0 385.1h0M252.1 333.4h0M181.1 391.4h0M174.1 396.4h0M209.9 363.8h0M176.9 390.3h0M195.4 381.0h0M127.2 426.0h0M198.3 371.7h0M189.4 379.1h0M154.0 411.8h0M227.8 352.9h0M183.3 388.3h0M184.5 386.6h0M153.3 411.4h0M144.7 412.2h0M174.1 394.6h0M147.5 412.2h0M203.6 369.4h0M214.2 362.1h0M172.3 393.7h0M145.1 415.5h0M179.0 389.1h0M160.4 403.8h0M194.6 387.7h0M194.9 375.3h0M178.0 391.6h0M192.0 381.1h0M218.9 360.5h0M237.4 348.3h0M175.4 394.9h0M210.0 370.1h0M183.3 385.3h0M160.4 401.2h0M225.6 354.6h0M200.8 375.9h0M193.8 372.9h0M199.8 374.8h0M185.3 388.5h0M160.5 406.8h0M239.4 344.2h0M214.9 359.9h0M197.2 376.9h0M216.8 362.6h0M225.7 355.2h0M184.3 387.6h0M206.2 370.4h0M180.8 387.1h0M207.8 369.6h0M182.8 384.6h0M257.7 333.8h0M179.9 387.3h0M204.2 369.3h0M202.8 373.4h0M180.5 389.1h0M215.9 362.6h0M187.5 379.3h0M178.4 391.8h0M189.9 378.6h0M168.9 395.0h0M223.2 357.2h0M207.3 365.0h0M217.2 365.6h0M152.2 409.1h0M197.4 375.5h0M168.4 397.4h0M192.2 377.7h0M225.4 355.7h0M197.0 376.9h0M184.9 380.2h0M221.1 358.6h0M218.0 362.4h0M241.4 342.1h0M138.0 420.3h0M199.0 375.9h0M178.2 388.9h0M165.5 401.1h0M193.1 381.4h0M157.4 406.1h0M127.6 428.2h0M164.7 400.1h0M182.6 389.6h0M241.9 339.8h0M169.7 395.1h0M157.3 405.5h0M134.7 422.2h0M180.0 394.4h0M183.2 382.5h0M194.0 380.8h0M149.5 410.7h0M168.6 399.7h0M126.6 425.7h0M194.5 380.3h0M146.1 414.4h0M222.2 354.5h0M203.9 366.9h0M199.6 377.3h0M199.6 375.8h0M161.0 402.3h0M219.8 359.9h0M160.6 401.7h0M243.1 342.8h0M196.2 381.1h0M138.4 422.6h0M214.1 363.7h0M244.9 339.5h0M182.8 385.0h0M219.6 356.9h0M184.0 385.3h0M172.4 394.9h0M117.9 433.9h0M224.3 355.9h0M177.5 391.7h0M200.5 374.6h0M158.3 401.9h0M164.6 395.1h0M221.0 355.7h0M179.1 393.0h0M178.7 387.3h0M154.8 411.3h0M195.8 378.5h0M211.6 364.0h0M177.1 393.9h0M184.7 390.5h0M155.9 408.1h0M229.1 349.3h0M172.7 392.0h0M185.6 388.5h0M237.0 346.1h0M183.6 385.8h0M146.6 413.2h0M164.1 403.2h0M180.0 385.6h0M239.8 344.8h0M196.2 374.8h0M183.7 389.9h0M213.2 363.2h0M226.5 353.9h0M168.8 394.4h0M230.2 355.9h0M214.1 361.3h0M202.6 370.1h0M123.9 431.1h0M195.6 371.5h0M229.1 348.5h0M182.4 384.9h0M254.8 331.7h0M192.2 373.9h0M161.7 401.0h0M206.8 366.2h0M198.4 373.7h0M213.5 365.1h0M184.0 388.3h0M226.7 351.9h0M174.6 391.5h0M193.9 380.0h0M155.2 407.2h0M167.8 395.0h0M196.0 380.9h0M171.8 396.8h0M177.6 389.0h0M184.5 382.0h0M197.4 378.5h0M211.8 367.1h0M211.9 364.7h0M219.1 357.0h0M196.1 376.8h0M175.0 397.5h0M145.7 412.6h0M180.5 388.4h0M167.9 398.7h0M139.2 421.1h0M236.7 344.5h0M138.6 418.9h0M200.4 372.7h0M206.0 368.6h0M183.8 384.1h0M190.9 378.6h0M168.8 390.8h0M240.0 345.8h0M167.8 398.0h0M149.9 412.0h0M162.0 399.0h0M172.3 395.2h0M191.7 383.9h0M199.9 374.0h0M147.4 414.3h0M200.3 375.4h0M253.4 335.4h0M170.2 398.8h0M186.7 388.4h0M210.0 362.3h0M224.4 356.1h0M171.5 397.1h0M163.2 399.2h0M161.9 399.8h0M221.4 363.9h0M215.8 362.9h0M129.2 425.8h0M129.9 427.5h0M155.4 406.3h0M148.0 414.8h0M202.0 373.9h0M196.6 376.7h0M245.8 339.0h0M212.8 364.2h0M193.8 380.1h0M223.8 356.8h0M165.1 404.0h0M150.8 403.8h0M191.3 381.3h0M217.0 361.8h0M144.6 414.4h0M215.7 361.0h0M214.7 361.7h0M176.2 393.1h0M195.2 381.4h0M182.6 387.6h0M192.7 381.2h0M213.2 365.1h0M167.6 398.0h0M219.8 358.6h0M215.0 360.1h0M216.1 362.2h0M134.6 427.9h0M137.7 418.6h0M210.0 364.5h0M173.8 396.9h0M170.8 394.4h0M168.7 396.8h0M152.4 411.1h0M182.3 386.7h0M169.9 395.5h0M171.8 393.7h0M203.9 366.3h0M156.9 406.1h0M222.2 357.3h0M127.4 420.8h0M151.8 411.7h0M206.9 369.3h0M216.2 362.5h0M190.3 379.3h0M211.5 363.1h0M187.3 386.5h0M140.4 416.3h0M200.1 376.5h0M222.8 352.1h0M174.7 395.4h0M142.2 415.1h0M173.3 394.4h0M199.6 372.6h0M198.9 376.4h0M221.7 357.4h0M206.2 369.2h0M204.8 370.1h0M133.6 422.1h0M253.6 335.2h0M191.8 380.8h0M214.9 367.6h0M180.5 388.7h0M186.1 385.4h0M192.1 377.7h0M235.1 346.6h0M233.5 350.1h0M208.0 367.0h0M246.8 336.8h0M179.2 389.9h0M205.1 374.8h0M177.5 385.2h0M227.3 351.8h0M191.5 377.2h0M218.3 355.5h0M239.5 345.7h0M131.6 424.4h0M252.2 338.0h0M199.6 373.0h0M181.5 386.8h0M136.0 424.0h0M182.0 389.3h0M125.1 430.0h0M193.1 379.6h0M185.7 380.8h0M242.5 342.9h0M181.3 388.2h0M221.2 358.7h0M223.8 359.0h0M249.4 337.8h0M183.6 389.2h0M212.3 364.4h0M147.3 420.0h0M159.0 406.5h0M182.9 386.1h0M190.0 386.3h0M156.0 409.4h0M178.9 387.4h0M210.7 368.7h0M177.7 390.5h0M186.3 383.4h0M165.3 403.5h0M230.2 354.3h0M241.6 338.2h0M196.6 377.7h0M187.5 381.0h0M238.3 346.6h0M204.5 369.8h0M171.7 397.8h0M152.3 411.9h0M174.0 395.5h0M253.5 335.0h0M173.9 394.7h0M190.8 381.6h0M184.6 384.3h0M228.7 354.2h0M183.8 383.8h0M201.7 374.1h0M161.1 400.6h0M155.3 404.9h0M169.8 392.9h0M197.2 380.6h0M171.9 391.3h0M134.7 427.9h0M204.5 367.4h0M186.2 384.2h0M182.9 385.2h0M173.4 397.5h0M126.5 427.2h0M236.3 345.6h0M177.2 392.1h0M206.0 371.9h0M230.7 349.5h0M223.2 353.1h0M196.7 374.5h0M191.2 381.4h0M199.7 374.1h0M216.9 359.5h0M207.5 366.5h0M178.1 387.7h0M203.8 370.7h0M201.7 374.2h0M210.8 365.2h0M196.8 375.2h0M230.1 352.3h0M196.7 375.3h0M216.4 363.3h0M192.2 379.1h0M174.5 395.3h0M163.9 396.8h0M186.4 381.2h0M206.3 368.6h0M227.2 355.9h0M188.4 387.9h0M176.1 390.2h0M176.4 391.8h0M227.9 352.5h0M194.0 382.1h0M176.6 394.6h0M212.1 364.6h0M153.2 409.2h0M194.3 383.9h0M189.7 383.4h0M187.1 381.6h0M158.0 406.0h0M219.1 358.6h0M239.1 342.0h0M153.1 408.3h0M194.4 377.7h0M209.4 369.2h0M255.5 328.8h0M179.1 392.7h0M163.9 404.7h0M190.9 380.7h0M248.6 340.1h0M193.0 374.9h0M198.6 376.4h0M241.7 341.9h0M129.9 426.6h0M129.0 427.6h0M216.9 361.2h0M213.1 368.0h0M151.4 413.6h0M205.8 370.6h0M192.2 374.5h0M197.2 374.1h0M168.0 396.3h0M178.0 392.6h0M165.9 397.6h0M192.5 376.6h0M184.4 382.3h0M239.1 340.4h0M208.9 372.4h0M146.0 416.0h0M202.9 372.3h0M231.9 351.7h0M199.0 374.5h0M222.0 356.5h0M190.0 381.4h0M211.1 365.4h0M164.3 399.8h0M213.5 362.3h0M151.6 412.1h0M227.9 354.2h0M147.7 410.8h0M130.5 426.7h0M206.2 371.1h0M186.1 383.6h0M194.3 379.0h0M203.2 371.2h0M190.2 381.3h0M165.7 398.2h0M197.0 374.0h0M200.9 375.1h0M205.1 372.8h0M247.8 335.6h0M170.0 397.7h0M192.9 382.8h0M207.0 376.2h0M178.2 390.2h0M156.7 407.3h0M174.8 400.0h0M221.4 359.6h0M183.3 388.8h0M208.5 365.4h0M170.0 395.8h0M203.8 371.1h0M171.7 397.7h0M166.9 398.9h0M194.2 376.7h0M192.5 379.1h0M233.1 345.9h0M144.5 415.1h0M205.6 368.2h0M237.1 345.5h0M229.9 352.5h0M180.0 385.8h0M171.5 394.4h0M176.8 389.4h0M199.6 376.6h0M196.4 379.1h0M201.0 373.9h0M208.1 369.6h0M160.4 402.3h0M158.7 403.3h0M155.9 404.6h0M152.6 407.4h0M188.2 385.4h0M199.9 371.8h0M206.3 370.6h0M191.5 382.0h0M231.6 350.2h0M170.0 396.3h0M200.7 371.0h0M218.8 354.5h0M213.5 363.0h0M202.5 368.7h0M181.0 388.5h0M155.5 406.5h0M186.6 386.1h0M174.0 395.0h0M210.7 363.1h0M187.1 382.5h0M207.1 367.7h0M145.0 416.3h0M218.8 356.6h0M166.6 399.1h0M146.3 415.0h0M151.7 410.0h0M173.0 392.6h0M223.1 355.3h0M211.4 359.9h0M157.5 407.5h0M193.5 379.8h0M188.0 379.2h0M146.2 410.2h0M162.7 403.9h0M132.8 424.2h0M166.1 402.2h0M168.3 399.2h0M164.2 402.2h0M168.2 397.8h0M167.5 400.5h0M224.0 354.3h0M181.0 388.3h0M197.9 376.1h0M212.6 362.7h0M216.7 361.9h0M210.4 368.7h0M175.2 392.3h0M159.7 400.0h0M168.8 397.0h0M177.5 389.5h0M191.1 381.0h0M188.5 382.9h0M222.3 356.3h0M188.1 394.2h0M242.2 344.5h0M220.4 359.8h0M177.2 392.0h0M215.6 359.4h0M230.3 347.1h0M202.7 370.4h0M202.3 370.5h0M142.9 414.4h0M183.7 379.7h0M186.9 386.0h0M223.1 358.3h0M185.5 384.4h0M166.7 398.1h0M209.8 370.6h0M162.1 401.4h0M212.2 370.8h0M194.9 375.9h0M223.1 355.1h0M156.5 410.4h0M226.5 353.2h0M199.4 373.9h0M247.3 340.5h0M172.4 392.5h0M243.9 335.1h0M211.1 364.6h0M213.5 366.0h0M170.3 399.0h0M206.9 371.2h0M210.1 368.5h0M167.3 396.1h0M158.0 404.7h0M169.0 397.1h0M232.7 346.8h0M195.5 377.2h0M217.7 360.6h0M199.2 376.4h0M194.3 380.8h0M197.3 375.8h0M179.3 392.0h0M225.8 351.7h0M195.9 376.4h0M197.4 377.1h0M151.5 408.4h0M199.8 376.5h0M171.7 391.0h0M176.7 391.1h0M220.5 355.1h0M159.9 404.8h0M185.3 386.6h0M208.9 369.0h0M223.8 360.3h0M176.2 390.7h0M200.1 376.2h0M199.1 373.2h0M158.8 405.8h0M130.0 423.0h0M136.0 425.8h0M208.1 367.0h0M193.9 378.3h0M152.8 409.1h0M172.7 395.6h0M179.6 385.2h0M180.8 389.2h0M190.1 380.3h0M253.9 334.1h0M168.7 398.0h0M195.1 377.4h0M169.0 395.6h0M173.1 396.3h0M165.9 400.3h0M184.4 388.8h0M175.2 391.5h0M200.9 375.1h0M197.0 377.8h0M165.5 397.3h0M245.6 339.9h0M157.7 404.2h0M201.1 373.4h0M252.8 333.9h0M170.7 395.6h0M228.7 356.0h0M231.4 350.1h0M200.6 374.2h0M138.3 420.3h0M231.4 350.0h0M193.6 380.0h0M175.4 394.5h0M227.3 351.4h0M170.3 389.2h0M221.3 358.6h0M175.4 389.8h0M206.2 368.4h0M160.3 404.7h0M179.7 390.9h0M164.9 400.6h0M170.7 396.6h0M196.3 377.4h0M186.1 384.6h0M196.3 379.3h0M227.5 351.9h0M187.7 385.7h0M138.0 421.9h0M182.8 384.6h0M193.3 377.2h0M220.0 354.0h0M220.4 358.4h0M218.0 361.7h0M184.5 380.6h0M209.4 367.1h0M149.9 411.5h0M227.8 354.7h0M203.5 370.4h0M205.4 375.0h0M180.2 387.5h0M192.6 384.2h0M171.9 393.0h0M207.1 371.9h0M153.2 406.7h0M218.6 355.3h0M206.5 369.7h0M248.6 339.5h0M189.9 376.9h0M188.3 383.6h0M196.5 379.1h0M192.0 376.9h0M187.9 389.6h0M159.6 406.8h0M159.5 408.6h0M174.9 394.2h0M182.7 391.4h0M157.2 404.4h0M157.9 403.4h0M182.9 386.8h0M212.1 365.7h0M185.6 388.3h0M210.3 364.5h0M218.7 361.3h0M212.9 363.1h0M179.0 385.4h0M179.5 389.1h0M137.9 423.7h0M171.5 398.7h0M204.3 365.2h0M160.0 403.2h0M229.5 347.4h0M231.8 354.0h0M180.5 388.7h0M217.3 361.4h0M150.6 413.5h0M161.1 404.1h0M180.4 386.3h0M191.2 378.1h0M185.7 385.8h0M166.4 398.3h0M247.0 336.9h0M199.3 376.9h0M199.2 373.9h0M210.4 364.0h0M196.0 378.5h0M184.4 382.5h0M175.2 392.6h0M144.4 413.5h0M233.5 347.3h0M164.8 399.7h0M143.6 416.4h0M168.0 400.2h0M145.4 414.1h0M247.8 337.9h0M201.4 369.7h0M231.1 351.0h0M232.4 349.1h0M207.2 364.9h0M207.3 367.8h0M170.4 395.0h0M188.6 378.6h0M173.8 393.2h0M192.2 378.0h0M171.1 393.9h0M227.1 353.9h0M212.8 368.5h0M188.0 386.3h0M143.4 416.7h0M210.5 363.7h0M216.2 358.3h0M189.1 378.2h0M155.1 405.8h0M203.3 372.9h0M220.9 361.0h0M136.5 422.1h0M207.1 369.2h0M139.3 420.4h0M193.2 376.8h0M240.7 344.9h0M193.6 377.3h0M204.7 368.7h0M181.9 391.4h0M190.8 381.8h0M257.8 328.7h0M228.9 350.8h0M182.1 387.0h0M180.2 391.2h0M191.5 381.9h0M253.4 333.8h0M196.9 373.3h0M222.6 356.1h0M180.6 388.5h0M154.8 407.2h0M228.6 351.2h0M188.8 386.4h0M168.7 399.2h0M171.3 395.2h0M171.9 392.3h0M173.8 391.2h0M147.2 414.6h0M225.1 355.1h0M201.9 375.6h0M218.7 360.7h0M181.2 387.6h0M200.9 374.1h0M195.7 378.4h0M224.4 357.8h0M214.1 366.5h0M201.2 373.5h0M172.6 394.0h0M156.9 404.9h0M168.3 399.2h0M173.0 395.6h0M175.7 387.0h0M155.9 406.0h0M238.1 344.0h0M198.7 376.2h0M133.8 425.4h0M160.0 405.8h0M153.0 407.2h0M197.8 380.4h0M221.2 361.3h0M163.0 402.9h0M208.5 364.9h0M183.2 386.4h0M223.6 355.9h0M229.7 351.5h0M199.8 374.2h0M211.3 365.8h0M190.9 386.8h0M180.4 384.8h0M158.1 405.5h0M200.3 371.0h0M189.0 388.9h0M180.1 387.5h0M188.8 385.0h0M185.8 387.5h0M161.6 402.0h0M176.1 389.5h0M223.3 352.0h0M184.4 382.5h0M230.5 351.6h0M158.4 403.5h0M152.7 410.2h0M194.6 379.2h0M212.9 363.8h0M172.4 394.7h0M208.7 365.6h0M217.4 364.5h0M221.3 355.9h0M187.9 384.3h0M189.5 378.2h0M144.4 413.5h0M191.6 382.8h0M198.9 374.8h0M230.9 349.7h0M155.1 408.8h0M167.1 399.9h0M162.7 402.3h0M216.4 359.1h0M119.6 432.4h0M160.4 404.2h0M249.2 335.9h0M209.5 363.7h0M153.5 405.7h0M189.3 383.6h0M214.9 365.9h0M206.5 367.9h0M184.8 383.4h0M168.6 395.7h0M214.5 364.5h0M190.8 382.9h0M213.8 359.0h0M202.2 372.6h0M177.8 386.3h0M231.6 352.2h0M176.9 392.4h0M203.1 374.2h0M173.2 386.8h0M184.5 382.6h0M184.0 387.0h0M172.4 398.5h0M197.7 372.9h0M227.9 352.8h0M243.4 343.4h0M231.4 353.0h0M186.1 383.3h0M232.0 350.3h0M202.8 371.5h0M241.6 341.7h0M155.6 407.7h0M232.7 349.9h0M174.2 391.8h0M223.6 356.5h0M177.9 391.0h0M216.7 360.2h0M183.1 391.0h0M138.1 418.0h0M163.8 399.4h0M184.2 387.4h0M191.7 380.5h0M128.0 425.6h0M157.3 404.7h0M170.4 399.5h0M185.1 387.4h0M197.2 375.5h0M167.9 391.3h0M148.4 411.1h0M199.5 374.7h0M181.7 386.2h0M216.0 361.9h0M176.2 392.3h0M209.1 366.3h0M166.0 403.4h0M198.5 372.6h0M193.5 377.4h0M203.6 372.9h0M164.8 401.8h0M187.6 385.9h0M167.2 397.8h0M186.5 383.6h0M208.5 367.2h0M192.0 375.8h0M211.1 370.1h0M194.2 381.3h0M222.9 358.2h0M204.0 367.1h0M220.4 359.1h0M201.0 377.0h0M258.4 330.0h0M229.7 351.0h0M143.3 413.5h0M199.5 373.7h0M193.2 379.9h0M129.2 427.5h0M166.9 400.1h0M178.1 389.1h0M170.5 392.8h0M194.7 378.3h0M140.8 418.3h0M212.0 362.1h0M212.8 364.1h0M201.0 372.0h0M181.9 391.9h0M191.2 383.0h0M178.1 394.9h0M223.2 359.0h0M205.3 369.1h0M247.0 335.1h0M180.8 389.3h0M231.8 352.2h0M175.0 392.3h0M186.4 381.4h0M161.9 402.6h0M205.8 367.5h0M189.5 381.9h0M208.5 370.1h0M232.9 350.9h0M189.6 382.2h0M201.8 367.4h0M216.3 360.5h0M189.5 382.2h0M175.8 391.3h0M201.2 372.5h0M205.3 371.7h0M213.0 364.5h0M214.5 364.0h0M172.5 392.9h0M203.6 367.7h0M225.6 352.4h0M178.2 390.8h0M201.3 371.6h0M173.9 394.9h0M195.9 379.5h0M239.8 344.1h0M196.0 374.2h0M164.2 400.7h0M200.9 371.4h0M197.2 374.0h0M222.4 354.6h0M152.8 409.3h0M165.6 402.2h0M189.0 377.8h0M147.8 413.6h0M223.0 355.4h0M134.6 421.9h0M168.0 398.4h0M149.9 408.1h0M172.9 391.5h0M213.6 363.7h0M208.0 368.7h0M217.1 363.0h0M208.1 370.5h0M134.4 421.9h0M199.6 376.0h0M139.6 419.6h0M177.1 389.8h0M180.2 389.4h0M176.0 389.2h0M205.0 371.6h0M168.6 398.3h0M239.6 342.8h0M207.9 370.6h0M224.2 354.7h0M212.4 363.6h0M216.2 361.8h0M190.0 388.4h0M246.1 341.6h0M161.8 404.4h0M204.1 373.6h0M191.3 378.3h0M185.0 387.1h0M200.1 376.6h0M170.3 397.1h0M215.5 362.5h0M213.2 367.4h0M194.0 377.0h0M211.8 363.6h0M162.2 403.2h0M140.7 416.8h0M175.0 395.8h0M184.6 387.7h0M184.9 385.5h0M220.1 358.6h0M214.9 360.5h0M250.2 337.0h0M194.5 380.3h0M209.5 366.3h0M185.8 384.1h0M167.1 397.5h0M163.2 402.0h0M169.4 396.4h0M231.2 351.6h0M199.2 373.2h0M186.9 385.1h0M191.7 382.7h0M175.5 389.7h0M190.3 382.9h0M190.1 381.2h0M209.5 365.6h0M216.7 362.0h0M145.6 413.0h0M197.7 376.9h0M229.7 350.0h0M162.7 404.5h0M184.3 388.7h0M196.0 376.6h0M222.0 354.9h0M207.9 364.6h0M185.2 388.6h0M205.2 370.0h0M220.2 359.7h0M202.2 381.0h0M243.2 340.5h0M203.1 372.4h0M162.0 399.7h0M169.4 396.1h0M187.5 384.4h0M185.5 386.3h0M208.6 367.8h0M201.2 372.0h0M239.2 345.4h0M214.0 357.9h0M232.8 349.1h0M170.0 398.5h0M179.4 389.1h0M210.4 363.7h0M193.9 376.6h0M208.9 367.9h0M198.3 376.6h0M174.0 394.9h0M238.9 346.8h0M223.2 357.4h0M148.0 412.2h0M174.2 395.3h0M192.0 372.9h0M210.4 365.4h0M189.4 382.8h0M153.4 408.7h0M214.6 360.1h0M185.7 388.5h0M225.0 354.8h0M199.9 367.9h0M219.4 357.5h0M214.8 366.1h0M216.1 361.6h0M177.3 391.7h0M220.2 353.7h0M197.2 377.5h0M156.7 406.6h0M180.5 389.1h0M182.1 390.4h0M204.6 377.6h0M210.6 366.8h0M160.5 402.4h0M211.8 366.0h0M189.8 379.4h0M162.2 400.7h0M214.8 361.5h0M170.4 399.4h0M158.4 402.2h0M212.7 362.7h0M216.7 359.9h0M173.3 393.8h0M221.1 358.2h0M219.6 360.3h0M177.2 390.0h0M247.3 337.1h0M190.0 382.6h0M197.9 373.5h0M125.3 431.0h0M209.4 365.6h0M174.5 393.2h0M204.0 369.0h0M144.1 412.4h0M223.9 355.3h0M232.3 350.6h0M244.3 341.5h0M208.1 366.5h0M201.4 373.9h0M171.4 393.2h0M189.5 381.0h0M231.4 347.6h0M168.7 399.2h0M197.6 379.6h0M190.3 384.3h0M202.1 371.4h0M180.9 389.9h0M216.8 360.0h0M219.0 363.5h0M154.1 409.2h0M223.2 356.8h0M171.2 399.0h0M184.4 386.9h0M223.4 359.1h0M194.8 377.9h0M208.1 368.3h0M214.1 361.9h0M208.8 369.0h0M177.2 397.4h0M165.7 400.5h0M211.2 365.3h0M213.3 363.7h0M202.2 371.9h0M187.0 380.8h0M216.1 362.5h0M191.5 381.1h0M154.2 409.5h0M200.1 376.2h0M206.3 366.9h0M213.9 362.2h0M167.5 403.2h0M171.5 392.7h0M201.6 380.8h0M180.0 389.7h0M190.6 376.7h0M218.6 359.8h0M203.4 370.1h0M243.2 340.2h0M200.6 372.7h0M240.1 347.7h0M222.2 356.6h0M193.2 380.6h0M190.4 386.6h0M229.1 352.7h0M178.5 388.6h0M180.0 388.5h0M199.8 374.0h0M203.4 367.5h0M154.1 407.6h0M200.1 370.0h0M184.5 384.7h0M192.4 372.5h0M198.1 376.1h0M187.9 380.1h0M223.0 353.4h0M206.8 369.6h0M188.1 378.2h0M195.5 380.3h0M222.2 356.2h0M215.2 361.1h0M228.6 353.9h0M189.7 389.2h0M197.4 375.7h0M249.3 337.6h0M192.6 379.0h0M240.2 343.4h0M217.0 359.5h0M181.8 380.9h0M155.0 406.7h0M211.3 368.5h0M174.2 391.6h0M174.1 392.3h0M145.8 414.0h0M226.7 351.2h0M196.6 375.2h0M194.5 379.4h0M204.8 369.3h0M200.6 377.0h0M196.5 374.2h0M208.2 367.6h0M186.2 380.2h0M122.4 430.6h0M214.3 362.4h0M205.7 369.2h0M194.5 380.6h0M237.9 345.8h0M155.3 406.7h0M235.1 346.0h0M205.4 368.9h0M148.4 411.1h0M182.6 385.2h0M211.1 366.6h0M160.3 402.9h0M209.3 367.6h0M252.6 338.3h0M232.4 352.2h0M193.1 377.0h0M202.9 368.5h0M167.7 395.1h0M197.6 377.5h0M184.7 381.8h0M166.4 395.8h0M156.7 407.4h0M247.4 337.0h0M196.3 369.3h0M165.6 399.3h0M182.2 384.4h0M235.1 349.5h0M238.8 345.4h0M176.9 389.1h0M199.3 374.7h0M218.6 359.7h0M184.3 385.3h0M161.4 404.5h0M166.9 395.6h0M194.2 378.4h0M172.5 395.0h0M158.0 405.9h0M187.4 383.1h0M219.7 360.8h0M212.8 361.0h0M187.5 383.9h0M246.7 337.7h0M172.1 396.4h0M191.8 384.2h0M156.1 408.2h0M215.4 361.9h0M190.4 384.0h0M147.3 411.7h0M170.9 396.2h0M243.5 339.9h0M213.8 364.2h0M196.9 374.3h0M217.7 362.5h0M149.6 413.3h0M170.9 394.3h0M157.1 407.6h0M170.9 391.5h0M183.2 387.9h0M208.4 365.5h0M221.6 359.2h0M220.8 361.5h0M180.1 385.5h0M193.2 379.4h0M207.8 366.0h0M170.8 394.9h0M185.7 388.4h0M205.0 369.2h0M169.2 394.6h0M206.7 366.1h0M227.5 350.4h0M162.8 400.9h0M130.4 425.9h0M195.9 376.7h0M164.8 402.3h0M198.4 373.3h0M181.1 386.2h0M202.0 371.6h0M224.9 356.6h0M216.2 359.4h0M183.6 387.3h0M161.1 400.5h0M124.7 430.9h0M133.3 424.4h0M171.4 396.3h0M196.0 379.1h0M174.6 394.7h0M176.7 391.8h0M148.9 419.5h0M147.4 409.7h0M145.3 414.0h0M210.1 365.7h0M138.0 422.6h0M211.5 364.9h0M167.7 398.0h0M207.4 368.1h0M199.1 380.6h0M213.2 364.2h0M225.2 358.4h0M170.5 396.5h0M165.2 401.5h0M179.9 391.3h0M170.5 396.5h0M210.1 364.6h0M188.6 379.5h0M191.8 379.9h0M203.1 375.8h0M178.5 386.6h0M221.9 360.0h0M140.5 419.1h0M197.9 376.3h0M205.2 371.5h0M170.1 393.5h0M172.1 393.8h0M216.3 359.6h0M182.4 387.6h0M138.0 418.7h0M153.8 408.6h0M219.1 359.9h0M166.7 398.1h0M227.4 352.7h0M229.1 351.2h0M185.5 385.1h0M206.1 375.2h0M168.1 398.2h0M179.9 399.8h0M171.7 396.1h0M207.3 371.5h0M155.4 405.7h0M187.3 389.6h0M192.3 374.9h0M205.3 371.3h0M132.1 427.1h0M141.3 416.9h0M166.5 397.9h0M184.7 383.5h0M194.7 372.7h0M196.2 378.6h0M246.8 338.5h0M209.0 366.9h0M207.1 370.0h0M177.3 390.2h0M212.5 359.9h0M209.9 368.2h0M209.3 366.0h0M187.6 380.8h0M208.0 366.5h0M233.0 352.0h0M168.6 396.7h0M130.8 426.6h0M213.4 361.4h0M211.0 365.9h0M184.3 381.1h0M178.4 392.7h0M177.8 389.3h0M156.9 408.9h0M177.4 386.8h0M204.5 367.1h0M173.7 395.4h0M179.8 387.2h0M199.1 374.7h0M178.7 393.3h0M194.1 380.7h0M189.4 381.5h0M161.1 401.9h0M192.5 380.3h0M158.4 404.4h0M216.4 361.1h0M164.7 399.2h0M183.9 388.6h0M140.2 418.2h0M178.1 389.0h0M155.9 409.4h0M231.8 345.3h0M187.1 380.1h0M204.9 369.8h0M142.1 410.7h0M156.2 408.0h0M185.8 386.7h0M152.9 410.1h0M222.0 358.7h0M179.3 381.8h0M194.6 377.7h0M198.8 374.9h0M186.3 383.3h0M211.8 361.8h0M171.8 394.6h0M200.5 375.1h0M223.4 355.5h0M196.2 371.3h0M193.8 379.0h0M181.2 384.7h0M191.9 378.5h0M209.0 367.5h0M183.6 385.0h0M144.0 409.6h0M194.8 378.3h0M186.2 381.0h0M203.2 370.2h0M191.4 379.9h0M233.6 348.7h0M157.2 404.3h0M163.6 399.8h0M208.3 366.9h0M162.0 399.9h0M199.2 376.4h0M189.8 384.2h0M136.3 424.4h0M208.6 368.2h0M227.9 353.4h0M195.9 378.4h0M151.8 408.9h0M211.9 366.9h0M161.7 402.9h0M186.9 381.6h0M201.6 368.9h0M168.8 397.0h0M143.8 413.8h0M186.3 378.2h0M189.0 384.4h0M166.8 398.1h0M168.8 400.9h0M210.5 366.8h0M187.7 381.3h0M177.3 395.8h0M173.8 392.2h0M194.8 378.1h0M192.7 379.9h0M185.4 383.5h0M152.1 410.9h0M180.0 392.5h0M173.0 394.0h0M191.9 382.9h0M221.6 358.1h0M216.0 364.0h0M207.6 370.2h0M193.1 381.4h0M181.3 393.1h0M199.2 376.3h0M177.1 392.6h0M180.8 388.1h0M167.2 392.2h0M188.6 383.8h0M187.9 386.5h0M240.1 343.0h0M205.1 372.7h0M179.8 392.6h0M211.1 366.3h0M177.2 390.7h0M217.5 360.6h0M211.2 365.1h0M160.6 403.4h0M188.0 380.2h0M186.9 381.7h0M198.1 376.5h0M209.3 367.4h0M163.6 403.5h0M170.4 394.6h0M198.2 375.7h0M216.2 355.1h0M159.7 405.2h0M148.1 410.1h0M221.0 359.9h0M212.8 367.7h0M219.4 361.0h0M163.8 400.3h0M184.6 383.0h0M196.2 378.7h0M201.9 368.5h0M186.8 384.9h0M188.7 383.5h0M217.3 362.0h0M178.3 386.5h0M175.3 391.9h0M178.4 388.8h0M176.3 394.8h0M193.6 378.3h0M184.4 384.9h0M178.2 386.6h0M228.3 354.3h0M198.2 376.9h0M181.0 391.9h0M224.0 357.1h0M175.3 390.9h0M190.0 383.2h0M187.5 377.8h0M174.6 392.7h0M179.8 392.7h0M192.3 382.5h0M151.6 412.3h0M179.6 395.0h0M196.7 371.6h0M197.4 373.8h0M198.0 377.6h0M252.7 335.3h0M207.8 364.7h0M186.2 385.9h0M186.8 383.3h0M190.0 380.2h0M201.7 373.1h0M182.1 387.7h0M230.3 352.4h0M160.6 403.1h0M206.9 372.1h0M203.4 371.3h0M159.6 403.5h0M206.8 371.7h0M204.8 369.4h0M173.0 396.0h0M251.6 339.6h0M208.9 374.7h0M181.3 387.7h0M177.3 389.7h0M170.2 397.0h0M196.9 379.6h0M191.6 380.6h0M152.5 406.5h0M162.4 402.1h0M171.0 398.5h0M179.3 388.4h0M180.4 389.0h0M172.3 395.0h0M207.0 368.6h0M215.1 361.6h0M191.9 380.2h0M131.7 426.4h0M185.8 384.8h0M204.8 370.1h0M187.8 380.3h0M197.2 378.8h0M192.7 379.7h0M150.4 412.4h0M122.9 431.0h0M206.4 371.4h0M176.1 398.3h0M200.9 371.1h0M181.9 389.0h0M185.4 389.5h0M226.2 357.0h0M158.2 407.0h0M189.7 387.3h0M161.0 403.3h0M191.8 379.7h0M202.5 372.2h0M207.2 367.8h0M193.9 380.4h0M153.4 406.9h0M196.4 376.9h0M213.6 363.0h0M216.3 360.6h0M246.6 339.7h0M204.8 367.7h0M163.0 400.1h0M176.2 393.4h0M192.2 375.7h0M217.6 357.7h0M159.7 406.8h0M214.1 367.8h0M207.2 369.9h0M166.9 397.0h0M206.0 367.5h0M169.7 395.2h0M189.8 381.7h0M181.9 383.5h0M196.2 375.2h0M158.7 405.5h0M203.9 370.4h0M132.5 422.6h0M179.2 390.9h0M175.0 393.9h0M231.6 352.9h0M204.1 367.7h0M177.0 388.5h0M166.3 397.5h0M190.8 381.6h0M173.3 393.9h0M249.1 333.8h0M191.7 381.4h0M124.9 428.0h0M217.4 361.1h0M168.7 397.3h0M232.4 348.8h0M175.5 390.4h0M218.6 354.1h0M195.3 378.2h0M221.2 355.0h0M190.5 384.2h0M170.8 397.4h0M148.7 415.9h0M215.0 361.1h0M204.2 365.0h0M190.1 384.0h0M202.0 373.8h0M195.2 378.7h0M174.8 395.9h0M241.7 342.6h0M196.3 376.0h0M184.8 386.4h0M151.1 412.1h0M173.5 393.4h0M190.3 378.7h0M185.2 388.1h0M177.3 391.0h0M188.6 381.1h0M160.2 412.9h0M190.2 380.5h0M149.0 409.1h0M167.2 400.9h0M170.4 393.4h0M213.0 364.8h0M202.9 370.4h0M191.9 380.3h0M159.5 407.9h0M179.4 396.2h0M211.2 360.8h0M223.1 359.0h0M150.9 410.9h0M178.6 386.8h0M192.8 378.6h0M199.2 374.1h0M190.2 385.8h0M207.7 369.4h0M151.7 412.2h0M231.2 353.6h0M159.7 403.3h0M191.6 378.3h0M203.9 372.7h0M220.9 359.4h0M214.0 362.6h0M213.2 362.3h0M224.0 357.9h0M186.1 379.4h0M210.0 364.5h0M231.0 350.8h0M170.1 400.3h0M153.0 408.0h0M163.5 399.8h0M227.7 347.7h0M223.2 357.7h0M180.7 384.8h0M196.7 377.1h0M202.8 370.6h0M218.1 360.8h0M140.3 418.3h0M175.4 389.1h0M183.4 387.8h0M198.8 371.4h0M192.3 380.2h0M181.9 387.5h0M198.0 377.0h0M122.0 431.7h0M212.2 372.1h0M213.9 364.0h0M172.9 392.0h0M201.4 371.0h0M245.1 342.9h0M238.8 346.8h0M192.4 380.5h0M157.4 402.3h0M194.8 378.8h0M182.5 387.0h0M213.2 364.6h0M156.4 405.9h0M185.5 386.8h0M197.7 375.0h0M178.1 389.2h0M218.6 358.1h0M160.2 406.5h0M157.6 403.9h0M181.2 383.6h0M212.6 362.9h0M182.4 385.4h0M174.7 397.9h0M212.0 362.3h0M196.5 372.1h0M176.5 388.8h0M193.8 377.3h0M184.2 383.8h0M206.8 362.5h0M194.3 381.1h0M169.2 397.6h0M177.8 388.1h0M179.5 388.2h0M200.4 378.4h0M200.5 372.6h0M168.3 396.8h0M185.5 386.9h0M198.7 373.9h0M219.8 358.6h0M197.2 380.1h0M242.6 341.3h0M191.2 371.2h0M210.1 362.7h0M181.8 390.0h0M164.0 403.2h0M193.3 378.7h0M203.4 370.7h0M199.1 380.1h0M194.4 379.8h0M181.6 384.5h0M168.6 396.8h0M182.5 384.6h0M203.0 371.7h0M216.0 360.0h0M206.8 370.9h0M219.4 360.4h0M224.2 357.5h0M200.7 377.7h0M208.4 368.5h0M178.6 392.8h0M188.1 383.8h0M204.5 369.9h0M161.2 402.5h0M169.4 395.9h0M195.7 378.8h0M154.9 407.7h0M191.9 377.2h0M150.8 410.8h0M195.7 377.0h0M191.2 386.2h0M175.5 394.6h0M165.3 397.7h0M176.9 394.6h0M130.6 427.4h0M179.9 384.9h0M193.6 381.5h0M222.7 355.2h0M176.9 391.4h0M185.8 385.9h0M227.6 356.9h0M236.9 344.2h0M177.4 394.7h0M218.5 362.4h0M221.9 356.1h0M204.3 373.4h0M164.1 399.7h0M165.3 399.8h0M205.9 370.6h0M252.8 336.2h0M185.7 387.4h0M232.4 349.3h0M241.1 344.8h0M157.1 404.8h0M174.5 392.4h0M230.9 350.0h0M216.6 361.1h0M205.2 368.8h0M190.2 380.4h0M207.3 366.7h0M173.6 392.8h0M257.4 330.5h0M159.6 405.7h0M142.4 419.7h0M194.5 377.9h0M229.1 350.5h0M177.3 392.9h0M189.0 385.8h0M163.1 402.4h0M188.5 381.7h0M163.3 399.7h0M163.6 401.6h0M151.1 412.4h0M175.8 392.1h0M240.3 342.7h0M188.9 382.3h0M195.6 374.8h0M250.3 337.2h0M173.5 391.8h0M163.8 397.8h0M204.4 372.8h0M157.5 407.2h0M199.4 371.7h0M221.4 347.4h0M161.5 401.7h0M176.5 391.6h0M236.0 343.1h0M162.1 402.4h0M172.2 398.0h0M196.8 378.5h0M182.0 384.3h0M167.6 401.4h0M233.3 353.5h0M174.9 390.9h0M199.3 374.1h0M179.4 386.5h0M184.3 388.1h0M153.6 409.8h0M215.3 363.2h0M178.9 392.4h0M224.6 355.9h0M159.2 404.6h0M177.5 388.8h0M203.3 371.9h0M193.4 379.8h0M172.8 393.1h0M186.8 381.2h0M155.7 405.1h0M191.9 379.3h0M119.4 435.2h0M195.1 378.7h0M226.8 356.2h0M214.4 363.0h0M213.3 364.0h0M179.2 385.8h0M203.6 370.7h0M179.7 386.1h0M188.0 379.8h0M187.8 387.4h0M215.3 364.9h0M202.7 372.4h0M213.0 363.9h0M164.9 402.2h0M209.1 365.4h0M203.4 369.4h0M130.5 424.9h0M143.1 414.3h0M191.9 382.6h0M172.6 391.9h0M190.0 382.8h0M173.3 401.2h0M230.6 350.9h0M139.5 418.4h0M153.9 409.5h0M164.2 403.7h0M153.8 410.4h0M174.9 392.9h0M189.6 387.6h0M154.5 404.6h0M200.2 369.6h0M225.7 355.1h0M219.8 357.1h0M244.3 341.1h0M220.9 360.4h0M189.7 378.9h0M238.3 344.4h0M209.5 368.8h0M240.9 347.7h0M185.4 387.1h0M134.1 421.1h0M159.2 405.4h0M195.4 365.3h0M205.3 371.4h0M185.1 382.5h0M217.5 360.2h0M159.8 404.3h0M171.8 393.2h0M217.2 364.1h0M192.1 380.1h0M193.3 381.7h0M228.5 356.4h0M220.1 358.7h0M169.4 399.0h0M196.2 379.8h0M145.1 413.9h0M190.5 381.4h0M201.3 372.1h0M144.3 410.2h0M232.7 349.0h0M244.5 339.4h0M204.2 373.4h0M215.7 360.6h0M231.2 349.2h0M186.2 386.6h0M218.9 358.6h0M201.2 372.3h0M149.8 412.0h0M166.7 398.6h0M175.7 386.8h0M219.7 360.4h0M193.6 379.4h0M217.5 360.7h0M178.3 390.8h0M156.7 412.2h0M246.4 338.2h0M201.3 370.8h0M185.7 380.5h0M222.9 357.8h0M161.3 405.1h0M185.4 382.0h0M152.5 411.1h0M204.0 371.0h0M197.7 376.6h0M180.3 388.2h0M173.6 394.6h0M150.3 409.8h0M168.9 399.0h0M224.1 351.6h0M181.6 385.9h0M224.9 356.5h0M167.8 399.8h0M188.9 382.6h0M178.7 390.8h0M184.1 387.7h0M211.7 362.3h0M135.9 418.8h0M210.9 368.0h0M209.7 365.5h0M191.1 380.5h0M193.1 377.2h0M185.1 386.5h0M209.6 362.2h0M192.6 379.2h0M168.3 393.5h0M195.1 378.6h0M216.7 358.8h0M201.0 373.4h0M191.9 376.0h0M196.6 376.9h0M177.8 392.8h0M178.7 392.2h0M140.6 419.3h0M186.1 381.7h0M217.5 360.1h0M180.6 388.1h0M166.8 394.8h0M215.1 359.4h0M195.5 379.6h0M194.9 375.4h0M203.7 366.0h0M209.8 367.9h0M189.9 382.7h0M168.8 396.3h0M237.6 345.4h0M192.6 381.8h0M170.4 396.1h0M196.0 373.1h0M222.9 353.7h0M153.2 411.4h0M226.1 357.5h0M187.5 388.0h0M244.4 340.2h0M208.9 368.9h0M188.3 384.6h0M224.6 354.3h0M225.1 355.7h0M181.7 388.4h0M197.3 375.4h0M177.3 387.6h0M215.6 361.6h0M153.6 407.3h0M186.4 383.8h0M134.3 420.3h0M206.8 371.4h0M131.7 426.6h0M162.9 402.5h0M198.2 370.6h0M181.7 384.0h0M179.3 391.8h0M165.4 400.6h0M178.7 388.6h0M144.4 415.1h0M199.7 372.1h0M212.5 365.5h0M211.4 368.8h0M190.1 379.8h0M223.6 352.1h0M203.4 374.7h0M216.6 365.1h0M201.6 373.7h0M192.0 384.2h0M170.9 394.7h0M121.1 434.6h0M208.2 366.1h0M188.1 384.3h0M243.9 340.9h0M138.4 418.7h0M213.5 364.2h0M165.9 401.3h0M191.0 378.4h0M167.6 400.9h0M200.4 370.4h0M190.3 382.5h0M214.4 364.2h0M195.0 376.7h0M203.8 370.1h0M225.0 354.3h0M204.9 373.4h0M187.6 386.9h0M224.0 354.8h0M188.1 381.8h0M202.0 372.8h0M182.6 383.9h0M173.6 394.0h0M209.6 363.1h0M160.6 401.3h0M210.7 365.2h0M239.0 345.1h0M156.2 405.2h0M214.5 362.2h0M188.6 380.9h0M203.2 373.4h0M159.5 403.2h0M192.0 376.1h0M195.3 378.0h0M229.1 351.9h0M248.1 338.4h0M199.6 372.2h0M181.6 392.3h0M250.1 333.9h0M188.4 381.3h0M189.8 382.0h0M194.0 377.2h0M203.6 366.5h0M210.1 365.5h0M176.0 390.3h0M188.4 379.7h0M241.2 342.9h0M233.8 347.4h0M203.1 365.5h0M198.6 373.6h0M185.2 386.3h0M218.5 358.5h0M177.7 382.2h0M194.7 378.6h0M179.3 388.3h0M174.8 391.7h0M192.4 377.4h0M191.5 381.1h0M176.0 391.7h0M189.7 376.9h0M193.2 377.3h0M179.0 390.9h0M174.1 390.1h0M187.8 382.8h0M210.0 363.2h0M220.8 361.3h0M196.4 376.3h0M184.3 383.3h0M190.6 383.8h0M242.1 343.7h0M215.7 361.2h0M166.2 398.9h0M190.1 382.5h0M177.4 390.0h0M181.8 393.2h0M146.8 414.9h0M192.2 372.2h0M155.5 408.2h0M175.9 390.9h0M231.7 350.3h0M217.9 358.8h0M168.4 396.7h0M164.1 399.9h0M167.3 395.9h0M141.5 416.9h0M165.5 402.9h0M184.3 387.0h0M163.7 398.2h0M211.5 363.1h0M190.1 382.1h0M177.4 397.0h0M237.9 346.7h0M210.3 361.9h0M193.4 376.0h0M240.5 341.6h0M226.4 357.0h0M172.8 396.9h0M200.1 375.1h0M179.9 391.8h0M153.4 408.2h0M241.9 344.4h0M231.3 349.6h0M157.8 405.7h0M204.6 371.6h0M147.9 411.6h0M220.0 358.1h0M190.1 380.9h0M183.8 386.8h0M225.0 355.4h0M191.8 384.4h0M184.6 389.8h0M215.8 363.4h0M183.5 385.9h0M214.7 359.4h0M191.6 379.2h0M213.5 365.7h0M208.2 368.7h0M212.6 367.0h0M164.7 400.2h0M241.7 342.9h0M187.2 383.4h0M238.5 344.7h0M175.6 389.8h0M184.2 382.7h0M184.5 390.2h0M222.4 354.3h0M180.1 392.8h0M202.7 370.3h0M149.7 411.2h0M178.7 386.0h0M197.5 375.9h0M188.6 382.7h0M141.4 418.0h0M204.9 368.3h0M165.7 398.8h0M243.4 341.9h0M186.4 382.0h0M252.0 328.8h0M209.3 363.5h0M203.9 367.7h0M178.7 391.8h0M188.4 382.8h0M203.7 370.4h0M139.3 421.8h0M218.2 354.3h0M160.1 406.2h0M184.6 384.4h0M118.2 438.5h0M203.7 370.5h0M211.6 363.5h0M199.1 373.3h0M200.2 375.6h0M181.5 389.0h0M195.6 373.1h0M224.0 356.1h0M180.1 388.4h0M205.0 368.0h0M211.1 370.7h0M185.2 384.3h0M197.9 372.5h0M197.4 371.7h0M178.2 388.6h0M257.0 333.5h0M179.9 386.7h0M237.6 342.7h0M220.3 359.8h0M136.7 422.2h0M198.3 375.4h0M219.3 360.2h0M213.5 367.8h0M167.2 402.9h0M198.5 377.9h0M159.2 405.4h0M163.5 400.2h0M185.0 386.2h0M196.6 375.6h0M234.8 345.6h0M201.1 366.3h0M220.1 357.2h0M159.1 406.1h0M160.3 400.1h0M178.4 389.9h0M238.8 344.3h0M155.3 405.5h0M148.7 410.8h0M189.4 384.7h0M223.6 358.2h0M147.4 412.6h0M184.6 383.7h0M154.8 403.9h0M230.6 350.0h0M210.2 367.0h0M198.8 375.8h0M190.1 384.1h0M185.1 387.9h0M195.2 380.4h0M173.9 395.4h0M167.5 397.9h0M161.3 404.1h0M191.7 380.0h0M169.9 396.9h0M215.1 363.0h0M134.5 423.4h0M206.8 368.2h0M205.8 369.4h0M224.3 360.4h0M184.5 384.2h0M150.7 410.4h0M166.3 400.1h0M222.0 357.1h0M183.1 388.0h0M180.2 388.3h0M175.5 394.0h0M189.6 380.0h0M185.2 384.1h0M149.1 414.2h0M175.1 393.9h0M218.6 358.6h0M230.6 350.3h0M188.0 382.5h0M177.3 395.2h0M228.1 355.0h0M186.5 383.5h0M159.4 403.1h0M187.9 382.9h0M210.2 369.4h0M233.6 349.5h0M178.1 391.3h0M205.9 371.9h0M182.3 389.5h0M222.2 359.9h0M198.3 381.3h0M198.4 374.0h0M164.6 398.8h0M182.6 384.8h0M182.5 388.6h0M214.5 364.5h0M191.0 379.5h0M185.6 385.6h0M181.5 388.9h0M192.0 380.6h0M197.8 379.1h0M155.8 404.6h0M194.6 381.1h0M194.3 381.7h0M192.0 376.4h0M150.9 412.3h0M187.5 380.8h0M156.4 405.8h0M200.7 371.9h0M226.9 354.4h0M214.9 365.5h0M182.0 389.9h0M176.6 391.1h0M175.9 392.1h0M200.7 376.0h0M173.2 398.2h0M176.7 393.1h0M123.2 431.2h0M168.2 396.8h0M170.0 394.5h0M176.6 392.1h0M224.1 353.3h0M154.4 405.6h0M155.2 404.8h0M207.5 371.6h0M164.6 399.2h0M186.7 381.3h0M195.9 380.9h0M191.6 376.2h0M170.1 395.3h0M216.1 360.1h0M231.8 349.6h0M164.0 398.6h0M183.8 387.7h0M216.7 363.2h0M185.5 383.0h0M164.0 399.3h0M179.5 392.1h0M213.7 359.3h0M164.2 398.4h0M198.1 373.0h0M201.5 374.3h0M173.5 391.0h0M206.5 367.9h0M209.2 365.1h0M218.2 360.4h0M216.4 363.1h0M150.8 411.7h0M215.4 363.5h0M206.9 366.8h0M217.6 362.1h0M168.1 398.8h0M215.7 361.6h0M201.2 373.5h0M159.8 410.5h0M225.6 355.9h0M170.1 396.9h0M163.7 398.0h0M201.9 371.0h0M174.8 394.7h0M201.0 375.6h0M184.5 386.4h0M198.9 374.2h0M213.3 366.7h0M190.3 380.1h0M214.7 365.6h0M214.1 362.7h0M168.6 395.0h0M214.4 368.3h0M208.0 368.0h0M194.9 377.1h0M221.5 356.4h0M236.0 346.8h0M211.8 365.2h0M151.6 409.5h0M203.3 371.2h0M187.7 382.8h0M184.0 382.3h0M200.6 369.2h0M182.5 384.9h0M235.4 348.5h0M198.8 375.9h0M191.8 377.5h0M212.5 368.3h0M213.0 362.2h0M223.3 360.8h0M208.5 363.2h0M190.4 378.2h0M195.1 378.8h0M133.0 424.5h0M151.7 413.3h0M219.5 359.4h0M182.6 384.2h0M240.4 342.8h0M240.1 344.7h0M157.6 401.9h0M199.8 372.8h0M170.1 395.3h0M202.1 372.9h0M185.2 382.5h0M184.9 374.3h0M183.9 384.0h0M191.0 384.4h0M212.1 364.4h0M169.7 392.7h0M205.1 367.5h0M172.4 395.5h0M205.6 368.3h0M200.0 377.1h0M170.4 394.6h0M195.3 379.4h0M171.6 396.1h0M168.6 398.4h0M223.1 357.9h0M142.3 414.2h0M206.6 365.9h0M210.6 366.6h0M175.4 392.0h0M220.9 355.2h0M216.1 362.4h0M156.5 407.1h0M205.7 371.4h0M204.1 367.5h0M171.5 394.8h0M207.0 368.6h0M211.8 366.6h0M172.0 396.6h0M137.6 417.6h0M202.3 373.8h0M171.4 396.2h0M145.0 419.9h0M181.1 392.4h0M127.0 429.1h0M182.3 388.1h0M232.1 352.4h0M203.9 372.3h0M166.5 399.4h0M180.3 394.3h0M166.8 396.6h0M208.7 367.9h0M191.2 383.5h0M170.3 396.6h0M53.7 482.6h0M58.2 478.4h0M62.8 474.8h0M88.4 458.0h0M99.3 450.2h0M99.9 449.2h0M105.6 441.0h0M109.3 443.0h0M111.2 435.6h0M112.9 434.6h0M320.1 283.6h0M319.2 284.7h0M311.2 288.3h0M309.3 293.1h0M282.3 311.2h0M281.4 312.1h0M277.8 319.4h0M278.6 318.4h0M270.6 317.2h0M265.9 323.4h0M262.4 325.3h0" stroke="#3fa535" stroke-width="5.0" stroke-linecap="round" fill="none"/>
<path d="M200.1 373.1h0M190.7 381.6h0M191.7 375.9h0M191.0 383.2h0M204.5 372.0h0M162.1 399.4h0M178.3 388.1h0M198.8 374.8h0M191.3 381.0h0M168.3 400.1h0M184.8 385.9h0M176.0 390.9h0M191.1 377.4h0M155.8 405.2h0M156.5 403.7h0M160.3 402.8h0M187.8 384.7h0M242.7 342.5h0M211.3 362.1h0M216.4 361.4h0M190.9 377.1h0M224.2 358.7h0M198.1 376.4h0M192.0 381.8h0M213.5 363.3h0M165.0 401.5h0M144.5 417.4h0M165.5 399.7h0M220.2 363.1h0M209.5 368.0h0M194.6 376.8h0M185.6 387.4h0M187.0 383.7h0M198.8 376.9h0M172.4 395.2h0M206.8 368.2h0M170.1 395.2h0M218.9 358.9h0M183.4 388.0h0M171.1 392.2h0M184.5 384.6h0M171.0 396.9h0M187.7 379.6h0M152.4 410.0h0M180.1 384.0h0M192.1 377.6h0M198.6 375.1h0M182.3 388.2h0M216.1 363.5h0M154.8 408.9h0M185.9 385.1h0M180.2 385.3h0M190.3 380.6h0M184.9 385.3h0M219.7 358.3h0M190.4 381.8h0M170.9 398.2h0M243.1 344.1h0M191.3 376.7h0M187.0 384.2h0M209.2 363.4h0M177.8 385.9h0M185.7 383.8h0M208.7 365.6h0M165.4 400.4h0M180.8 388.4h0M210.3 365.9h0M228.5 352.6h0M188.7 378.4h0M188.2 382.8h0M213.5 361.9h0M159.2 404.0h0M175.7 390.5h0M173.6 389.4h0M146.9 416.0h0M129.0 424.9h0M181.8 388.9h0M209.7 366.1h0M204.5 371.2h0M217.2 361.9h0M132.5 426.3h0M187.3 390.0h0M218.7 355.7h0M172.0 392.8h0M162.8 402.0h0M197.8 380.1h0M190.7 379.0h0M203.9 367.1h0M190.3 379.9h0M216.8 364.7h0M205.2 371.2h0M195.9 376.2h0M182.5 387.0h0M205.5 367.1h0M176.4 393.7h0M210.8 367.1h0M214.9 367.8h0M210.6 363.4h0M163.4 399.9h0M199.9 375.0h0M198.4 379.5h0M209.0 365.1h0M157.5 408.1h0M177.8 393.4h0M188.9 387.1h0M220.2 361.5h0M177.9 392.6h0M209.6 369.1h0M193.7 375.7h0M231.7 349.0h0M197.5 375.5h0M156.3 407.5h0M184.7 385.4h0M196.0 380.2h0M217.6 359.9h0M204.7 372.6h0M184.6 386.6h0M163.7 400.3h0M191.3 382.6h0M188.0 386.4h0M219.0 357.7h0M210.4 369.9h0M160.8 405.6h0M141.2 419.6h0M181.8 389.2h0M196.4 376.9h0M170.0 403.3h0M179.6 390.3h0M216.0 359.0h0M206.4 366.3h0M153.9 406.7h0M198.1 375.5h0M194.1 377.7h0M186.4 385.5h0M202.7 375.9h0M203.2 370.6h0M243.7 339.5h0M195.6 376.4h0M175.1 392.5h0M180.1 386.6h0M206.0 368.6h0M231.9 348.1h0M203.7 372.2h0M202.2 376.7h0M196.4 375.3h0M181.2 385.6h0M192.3 381.6h0M164.9 399.6h0M206.7 367.2h0M200.9 380.0h0M194.7 371.4h0M172.5 392.6h0M185.2 385.4h0M178.6 392.7h0M197.3 380.0h0M184.7 376.7h0M198.5 375.8h0M210.7 364.3h0M217.9 361.9h0M169.0 397.7h0M183.7 384.3h0M167.5 400.1h0M217.5 361.0h0M172.7 394.7h0M219.6 358.3h0M180.1 386.5h0M212.8 364.7h0M179.3 385.8h0M186.1 385.5h0M193.5 379.7h0M192.8 379.0h0M187.8 383.7h0M205.1 368.2h0M216.4 367.5h0M209.3 371.0h0M180.6 393.8h0M151.4 407.6h0M193.3 376.7h0M130.4 427.0h0M205.3 369.0h0M204.2 375.1h0M165.0 400.6h0M203.3 367.7h0M176.8 389.6h0M217.9 356.1h0M174.6 394.0h0M173.2 391.2h0M177.0 390.8h0M196.0 376.0h0M168.8 396.6h0M239.0 343.4h0M183.0 383.1h0M228.3 352.6h0M184.9 384.2h0M184.2 385.9h0M175.8 391.2h0M174.7 394.6h0M200.3 371.1h0M216.5 360.1h0M193.2 378.0h0M171.9 394.8h0M195.5 378.9h0M174.1 395.4h0M133.8 425.1h0M193.6 380.7h0M153.7 406.7h0M177.5 389.6h0M192.1 383.5h0M182.4 389.4h0M185.4 381.3h0M224.0 352.8h0M211.3 363.5h0M223.3 352.4h0M195.5 379.0h0M195.8 375.8h0M228.6 353.6h0M177.6 385.1h0M198.0 374.1h0M193.8 377.3h0M197.2 374.9h0M203.7 372.7h0M193.5 378.7h0M208.2 372.9h0M172.9 395.0h0M201.5 375.1h0M168.7 395.4h0M213.9 360.5h0M211.8 364.3h0M186.5 386.5h0M180.0 391.3h0M190.3 379.0h0M202.6 372.4h0M158.7 405.1h0M169.5 398.9h0M210.8 365.1h0M186.2 383.4h0M163.5 399.4h0M143.5 417.5h0M181.3 387.7h0M153.4 411.0h0M193.4 378.0h0M188.9 381.9h0M229.7 352.3h0M164.0 398.7h0M204.1 373.8h0M165.1 396.5h0M168.6 396.2h0M186.1 382.5h0M172.5 393.5h0M229.1 353.3h0M189.3 383.1h0M174.5 390.5h0M239.4 344.3h0M173.5 392.7h0M182.4 387.6h0M185.9 382.0h0M173.8 391.7h0M203.1 374.6h0M215.5 358.0h0M162.9 399.2h0M179.9 386.6h0M182.2 386.1h0M160.5 403.2h0M162.2 400.2h0M182.2 380.3h0M171.0 395.5h0M196.7 379.0h0M207.4 368.2h0M193.9 378.0h0M196.0 374.1h0M170.5 398.4h0M177.3 391.7h0M198.2 375.8h0M202.0 369.7h0M188.1 379.6h0M201.4 372.1h0M184.6 382.4h0M165.3 399.4h0M196.4 376.1h0M180.9 393.6h0M154.0 409.7h0M207.6 370.7h0M197.9 374.1h0M205.2 369.6h0M179.9 391.4h0M221.1 357.9h0M199.9 374.1h0M210.4 365.1h0M176.1 392.9h0M183.3 388.0h0M216.8 358.7h0M189.3 382.4h0M190.4 378.2h0M221.2 359.7h0M214.2 363.7h0M194.7 378.5h0M230.0 353.2h0M158.7 403.3h0M188.5 385.8h0M178.3 389.3h0M220.9 362.4h0M223.1 355.3h0M179.9 388.7h0M193.0 376.0h0M209.7 362.0h0M200.9 374.8h0M195.6 377.0h0M210.9 368.5h0M230.8 351.6h0M192.6 379.1h0M167.0 398.3h0M187.8 380.8h0M189.3 380.4h0M182.2 384.6h0M204.8 371.9h0M205.5 369.4h0M209.1 369.4h0M200.1 374.1h0M195.6 384.1h0M168.8 397.3h0M183.0 386.3h0M172.2 395.6h0M196.9 377.2h0M187.7 387.4h0M189.4 383.4h0M201.2 374.4h0M184.1 385.1h0M212.4 363.6h0M212.0 365.8h0M170.6 396.1h0M217.5 360.1h0M183.2 388.6h0M175.1 390.0h0M183.7 380.8h0M163.8 400.0h0M197.3 377.1h0M215.3 362.0h0M158.7 402.4h0M199.1 371.3h0M202.3 375.4h0M203.9 370.1h0M203.6 372.9h0M199.2 375.5h0M180.5 387.7h0M208.7 366.1h0M197.1 376.7h0M206.7 370.8h0M196.7 376.8h0M184.8 387.8h0M189.3 377.3h0M202.8 375.5h0M211.8 363.7h0M150.6 410.5h0M163.7 400.9h0M156.4 408.3h0M179.2 390.6h0M176.3 392.3h0M194.3 379.5h0M183.9 386.5h0M217.8 360.4h0M177.4 391.8h0M175.4 391.1h0M173.1 392.3h0M183.9 387.2h0M193.5 376.8h0M180.1 388.5h0M171.0 396.7h0M161.8 401.4h0M193.9 375.5h0M178.7 390.5h0M169.7 400.4h0M184.5 383.5h0M196.9 373.6h0M232.5 351.5h0M223.7 356.4h0M171.6 394.0h0M180.7 394.1h0M149.5 410.2h0M149.4 410.4h0M151.7 408.4h0M208.9 363.9h0M186.8 386.4h0M159.5 402.3h0M176.0 386.4h0M179.5 394.7h0M176.2 392.5h0M220.3 357.4h0M149.9 412.5h0M180.5 392.9h0M195.0 376.8h0M199.9 373.6h0M144.8 416.3h0M193.7 377.9h0M163.8 399.1h0M177.9 388.0h0M156.9 405.2h0M205.9 372.4h0M254.4 333.8h0M210.9 370.8h0M183.7 388.8h0M153.5 408.3h0M208.0 366.7h0M214.8 363.0h0M167.1 398.5h0M209.5 371.3h0M152.8 411.4h0M163.5 403.5h0M193.0 380.7h0M161.1 404.1h0M205.7 364.6h0M219.6 357.3h0M191.3 383.1h0M200.3 375.4h0M223.3 357.6h0M200.9 374.8h0M217.3 362.1h0M220.0 363.1h0M168.5 395.0h0M235.7 346.1h0M214.9 361.5h0M193.6 378.5h0M207.6 367.2h0M197.1 377.1h0M195.3 382.6h0M169.9 396.2h0M182.3 387.1h0M183.7 389.5h0M213.2 368.9h0M200.6 370.7h0M199.1 377.2h0M188.4 383.2h0M216.9 362.8h0M140.0 415.9h0M171.9 398.3h0M210.5 363.8h0M182.2 393.6h0M204.1 368.7h0M223.7 357.2h0M207.4 373.7h0M160.3 403.5h0M186.1 384.6h0M166.9 402.0h0M200.6 372.7h0M212.3 364.9h0M185.8 383.3h0M201.4 376.4h0M186.7 385.9h0M230.6 352.8h0M193.6 378.5h0M195.6 378.6h0M202.6 374.6h0M212.7 361.5h0M205.3 371.3h0M190.3 378.4h0M192.0 377.8h0M201.5 374.7h0M203.1 376.1h0M183.2 386.1h0M179.0 388.0h0M186.1 381.4h0M200.5 372.6h0M181.7 386.6h0M168.6 398.8h0M184.0 387.8h0M180.8 380.3h0M203.5 368.6h0M180.3 392.0h0M182.5 386.3h0M229.8 350.9h0M200.2 378.3h0M171.9 395.6h0M215.9 361.0h0M183.4 382.1h0M174.2 389.4h0M204.4 371.5h0M161.8 403.1h0M189.7 382.9h0M202.6 371.4h0M206.5 367.1h0M180.1 391.4h0M180.7 388.8h0M189.3 383.5h0M216.1 363.6h0M154.0 409.2h0M208.0 363.8h0M197.2 371.5h0M219.3 356.6h0M167.9 401.4h0M214.9 362.2h0M173.2 388.5h0M197.3 374.9h0M183.0 388.5h0M140.3 417.4h0M189.9 382.2h0M199.2 375.6h0M208.9 366.7h0M178.1 389.1h0M167.0 398.9h0M205.7 369.7h0M183.7 388.7h0M212.7 364.5h0M220.6 357.2h0M186.3 383.9h0M187.6 383.7h0M176.2 395.1h0M149.2 409.8h0M191.0 383.7h0M206.2 367.7h0M213.1 364.9h0M190.8 378.8h0M229.4 350.1h0M180.4 389.4h0M190.7 388.9h0M180.0 394.0h0M182.1 389.8h0M185.5 387.2h0M177.0 390.4h0M182.5 381.9h0M197.1 374.4h0M193.5 379.1h0M169.6 393.6h0M201.8 373.1h0M174.4 391.1h0M200.7 372.5h0M192.8 384.4h0M151.5 408.3h0M169.8 392.6h0M210.9 366.5h0M178.0 388.5h0M177.7 389.3h0M182.3 387.8h0M193.6 379.7h0M203.2 369.1h0M185.2 386.6h0M226.3 355.3h0M179.5 387.1h0M181.7 385.2h0M187.5 379.2h0M194.8 379.3h0M221.6 360.4h0M240.0 342.2h0M184.3 389.6h0M187.9 384.1h0M204.5 371.1h0M188.9 377.7h0M209.2 367.0h0M169.3 399.4h0M209.1 367.2h0M146.1 411.9h0M202.3 376.7h0M205.3 373.2h0M243.0 340.1h0M172.4 394.2h0M205.8 372.0h0M204.8 370.8h0M171.7 394.8h0M196.7 379.4h0M173.7 394.8h0M167.1 395.4h0M159.9 403.2h0M186.7 380.9h0M169.4 396.8h0M148.0 413.6h0M197.2 375.2h0M155.5 408.8h0M205.7 368.8h0M196.3 377.5h0M174.0 394.0h0M158.1 405.7h0M172.2 396.8h0M162.9 398.8h0M183.2 390.3h0M183.4 385.7h0M242.8 344.1h0M147.3 411.7h0M178.7 390.3h0M202.8 371.4h0M212.6 363.5h0M219.2 358.9h0M170.5 395.5h0M207.9 367.1h0M130.6 425.1h0M186.3 385.3h0M209.0 367.9h0M206.0 370.0h0M161.4 404.1h0M173.6 394.9h0M145.6 412.2h0M175.3 395.7h0M162.0 399.0h0M196.7 377.7h0M175.0 391.1h0M203.6 371.2h0M188.6 382.9h0M183.9 384.5h0M228.2 349.8h0M215.6 362.5h0M163.0 401.6h0M220.2 359.9h0M207.0 363.9h0M219.0 357.4h0M200.5 370.8h0M153.0 408.9h0M183.0 391.4h0M139.5 418.2h0M161.3 406.2h0M176.2 393.2h0M217.8 358.7h0M191.8 381.6h0M195.5 379.0h0M206.6 374.0h0M171.7 393.4h0M214.3 362.4h0M195.6 378.5h0M170.5 395.1h0M178.7 393.7h0M185.7 387.0h0M203.8 370.6h0M221.1 356.5h0M184.3 385.7h0M186.1 387.4h0M229.1 353.1h0M229.2 350.2h0M195.0 379.2h0M183.2 385.8h0M205.4 368.9h0M197.3 377.3h0M174.0 393.2h0M219.7 362.7h0M244.8 341.4h0M173.0 394.0h0M174.1 391.8h0M180.1 385.6h0M164.0 401.7h0M208.2 366.7h0M160.2 403.8h0M205.1 372.0h0M199.3 376.4h0M206.8 369.0h0M159.3 404.3h0M194.0 380.4h0M196.7 369.4h0M209.7 366.7h0M198.9 373.1h0M178.5 390.6h0M215.2 356.7h0M220.4 363.0h0M219.7 359.9h0M175.0 392.2h0M202.2 369.4h0M171.4 395.4h0M187.2 386.0h0M207.0 365.1h0M160.3 402.3h0M250.3 336.8h0M217.1 361.7h0M174.5 393.6h0M178.7 389.4h0M189.3 386.4h0M187.9 382.6h0M165.0 401.3h0M188.0 381.6h0M157.8 404.8h0M177.7 393.1h0M229.3 349.7h0M189.5 379.8h0M182.6 389.2h0M224.6 357.5h0M197.7 377.4h0M204.3 369.9h0M178.7 386.8h0M214.4 365.1h0M183.8 388.0h0M209.7 365.6h0M204.7 370.6h0M228.0 353.1h0M212.3 365.1h0M190.5 381.9h0M168.2 394.0h0M184.4 383.1h0M176.1 392.6h0M223.8 353.8h0M181.3 383.2h0M141.6 416.7h0M199.1 373.8h0M208.4 368.8h0M171.2 395.2h0M206.3 368.7h0M162.5 399.4h0M196.2 379.2h0M187.4 387.5h0M197.6 377.0h0M200.0 373.0h0M176.4 396.3h0M208.3 368.2h0M180.1 390.8h0M193.5 381.8h0M221.5 357.6h0M171.0 393.0h0M192.5 383.1h0M225.4 354.6h0M218.1 360.8h0M176.2 390.2h0M177.5 390.7h0M202.7 373.5h0M176.8 389.2h0M192.5 378.5h0M161.4 404.7h0M204.6 375.3h0M156.2 407.9h0M193.8 378.1h0M206.0 367.7h0M176.4 392.9h0M156.9 406.8h0M163.4 404.9h0M149.4 412.4h0M229.6 351.7h0M149.2 412.9h0M163.0 401.8h0M198.0 378.0h0M191.9 382.3h0M213.1 363.6h0M219.4 362.6h0M200.6 373.5h0M189.5 378.8h0M178.7 391.3h0M186.9 385.1h0M211.4 367.3h0M204.1 374.0h0M204.4 372.1h0M154.5 410.2h0M174.3 393.7h0M176.0 393.2h0M179.1 392.4h0M167.9 397.9h0M205.7 367.5h0M213.9 362.0h0M230.4 351.8h0M179.5 389.4h0M188.7 385.2h0M192.9 380.0h0M190.7 379.3h0M172.7 392.7h0M208.2 364.9h0M147.0 416.1h0M180.4 384.9h0M149.5 411.0h0M204.5 367.0h0M160.6 403.4h0M165.7 397.1h0M190.6 381.2h0M168.2 400.0h0M196.3 376.0h0M182.4 388.4h0M233.6 349.1h0M164.4 399.6h0M173.1 392.4h0M203.3 370.1h0M193.5 376.5h0M200.6 377.5h0M184.6 382.7h0M211.6 367.3h0M198.5 375.0h0M219.7 360.2h0M161.4 405.1h0M196.4 374.5h0M186.1 387.1h0M199.6 375.8h0M170.4 393.0h0M208.6 372.8h0M161.9 405.7h0M210.3 364.3h0M202.9 372.9h0M151.7 408.7h0M199.6 374.4h0M148.7 413.1h0M203.3 370.0h0M156.0 408.1h0M189.4 383.4h0M185.1 384.7h0M155.5 409.2h0M150.5 413.4h0M201.9 376.7h0M180.4 386.4h0M214.7 359.1h0M189.9 378.6h0M251.1 337.0h0M194.8 379.3h0M229.5 353.7h0M198.7 375.1h0M192.9 376.7h0M202.9 372.1h0M174.6 393.1h0M177.0 398.9h0M227.2 353.2h0M187.0 386.9h0M166.0 399.9h0M202.3 371.5h0M172.9 394.0h0M193.0 377.4h0M216.1 358.9h0M219.5 363.9h0M231.1 353.5h0M217.0 358.0h0M205.7 368.6h0M203.4 373.3h0M198.0 376.2h0M190.7 381.0h0M241.2 341.5h0M189.9 382.4h0M228.2 353.0h0M189.1 385.7h0M218.2 357.5h0M129.6 425.8h0M195.1 378.9h0M178.1 393.6h0M226.2 354.5h0M224.7 353.9h0M178.2 384.7h0M190.3 376.3h0M212.2 365.7h0M198.7 376.1h0M194.2 380.8h0M213.5 362.9h0M163.6 402.6h0M227.5 352.4h0M202.2 371.6h0M129.4 425.9h0M172.5 396.7h0M190.7 377.9h0M242.2 342.8h0M192.4 382.8h0M159.7 404.0h0M222.5 356.8h0M201.5 372.7h0M192.7 377.0h0M215.8 359.7h0M184.5 379.7h0M190.5 381.3h0M215.0 360.2h0M202.8 378.2h0M214.4 359.2h0M185.2 385.1h0M230.0 349.3h0M162.2 402.6h0M163.3 400.2h0M204.4 369.2h0M186.7 385.5h0M197.8 377.0h0M194.3 385.7h0M190.1 379.9h0M170.3 396.4h0M200.2 374.3h0M222.2 355.0h0M175.3 391.6h0M234.9 347.5h0M227.9 356.5h0M175.2 392.0h0M211.3 366.2h0M169.8 394.3h0M191.0 382.0h0M169.8 399.1h0M182.0 387.9h0M153.2 405.5h0M190.3 383.4h0M170.9 392.8h0M174.2 393.5h0M150.7 414.2h0M194.6 376.4h0M235.2 343.6h0M185.8 383.4h0M190.4 383.9h0M168.9 397.6h0M183.5 388.5h0M175.0 385.8h0M159.7 402.9h0M174.2 398.6h0M182.4 385.0h0M200.4 372.5h0M186.2 386.9h0M199.7 375.7h0M221.8 357.8h0M213.7 360.0h0M184.4 386.9h0M154.9 408.9h0M189.3 379.4h0M195.2 379.2h0M215.1 364.8h0M196.4 377.0h0M254.1 332.2h0M186.3 383.8h0M207.7 369.1h0M173.4 390.5h0M171.4 392.2h0M186.7 388.0h0M197.6 378.7h0M208.2 369.9h0M124.5 430.6h0M217.7 360.4h0M225.8 354.8h0M222.6 356.9h0M211.6 364.3h0M190.4 384.5h0M205.2 375.2h0M221.2 357.6h0M171.8 392.1h0M207.6 367.8h0M204.0 371.9h0M190.0 380.0h0M232.1 350.6h0M177.8 393.6h0M171.5 396.0h0M191.9 378.0h0M179.2 388.7h0M222.1 356.1h0M156.6 407.2h0M164.2 399.5h0M199.6 370.6h0M209.0 367.9h0M166.9 399.6h0M221.1 355.8h0M150.9 410.3h0M215.1 365.1h0M173.3 394.8h0M182.3 383.8h0M231.8 349.5h0M191.2 375.6h0M178.5 388.4h0M197.7 374.9h0M233.6 347.0h0M193.9 380.0h0M175.6 389.5h0M197.0 376.4h0M165.4 400.2h0M177.4 389.8h0M180.0 390.0h0M206.4 371.7h0M181.7 389.8h0M202.8 370.5h0M217.4 360.3h0M226.6 353.9h0M155.5 405.8h0M191.1 382.8h0M167.2 399.2h0M206.2 365.4h0M197.7 378.0h0M192.0 376.5h0M180.7 389.0h0M171.2 394.2h0M155.4 406.7h0M213.2 364.6h0M187.8 382.7h0M192.9 376.7h0M199.1 376.3h0M209.4 369.0h0M233.2 347.6h0M188.3 383.6h0M206.4 369.5h0M156.6 406.6h0M183.6 387.2h0M176.7 395.5h0M178.5 390.1h0M217.3 361.9h0M194.5 381.5h0M193.6 380.1h0M193.8 377.9h0M187.3 378.9h0M187.3 384.7h0M178.1 387.0h0M180.5 389.5h0M182.8 385.5h0M188.2 383.3h0M151.5 408.7h0M193.6 378.3h0M191.3 381.4h0M201.1 376.8h0M167.9 395.7h0M171.8 398.2h0M209.4 368.2h0M176.5 387.2h0M202.4 371.4h0M177.5 390.5h0M166.1 398.9h0M160.5 402.8h0M178.8 390.5h0M181.8 386.5h0M165.5 399.9h0M222.7 357.5h0M192.5 378.2h0M172.8 392.7h0M224.3 355.1h0M209.9 364.4h0M175.7 387.6h0M169.9 392.6h0M188.0 382.5h0M207.8 370.5h0M161.8 400.1h0M216.9 361.0h0M183.8 384.0h0M210.1 367.1h0M189.1 379.8h0M202.6 374.6h0M206.0 369.0h0M220.0 361.5h0M176.8 386.4h0M233.0 349.6h0M164.7 404.4h0M198.9 371.4h0M206.8 366.5h0M192.8 375.7h0M211.3 367.8h0M157.4 404.9h0M191.3 376.9h0M213.8 363.9h0M192.5 378.3h0M168.5 397.8h0M195.7 377.8h0M196.4 373.0h0M171.0 397.1h0M220.8 358.2h0M180.8 386.7h0M170.2 395.9h0M194.7 375.6h0M178.3 394.7h0M188.2 379.6h0M197.4 378.7h0M183.4 386.7h0M205.1 370.8h0M198.7 373.5h0M218.5 360.3h0M170.9 396.4h0M193.8 376.6h0M197.9 370.1h0M198.6 376.3h0M147.3 414.2h0M169.5 397.7h0M199.4 377.2h0M204.7 373.1h0M193.1 380.1h0M196.4 374.7h0M218.8 360.8h0M184.9 387.1h0M176.1 391.9h0M224.6 356.9h0M205.6 363.3h0M189.0 378.1h0M177.2 390.7h0M227.0 356.7h0M186.6 385.2h0M175.1 394.5h0M219.8 360.7h0M160.9 407.1h0M189.3 383.1h0M206.0 370.7h0M186.4 385.6h0M181.4 390.8h0M201.9 371.5h0M166.5 400.6h0M187.9 388.6h0M208.0 370.2h0M169.0 395.2h0M222.3 355.0h0M188.0 385.6h0M190.9 381.0h0M182.3 385.6h0M204.9 368.0h0M182.3 388.1h0M197.4 375.0h0M219.5 360.1h0M219.4 362.9h0M160.0 402.0h0M221.4 358.0h0M182.0 386.3h0M199.0 375.1h0M194.7 380.0h0M198.5 376.2h0M179.6 388.2h0M205.1 373.0h0M214.2 360.0h0M180.1 383.2h0M192.2 385.5h0M209.9 364.4h0M215.5 363.1h0M199.7 372.6h0M198.3 374.7h0M202.9 372.2h0M185.3 382.6h0M199.7 373.9h0M186.6 380.1h0M185.1 384.1h0M142.1 419.4h0M154.0 408.5h0M200.4 373.5h0M208.3 368.9h0M202.0 375.3h0M194.6 372.9h0M185.9 384.5h0M204.5 370.6h0M183.8 390.0h0M192.2 378.2h0M224.4 355.8h0M162.6 399.6h0M179.5 385.1h0M187.1 385.1h0M151.2 411.5h0M166.8 396.2h0M215.0 360.4h0M203.2 370.6h0M189.2 380.0h0M220.2 359.3h0M171.1 395.4h0M233.2 349.1h0M190.8 386.1h0M179.2 387.5h0M215.4 360.7h0M203.4 373.5h0M196.4 377.8h0M189.6 380.8h0M153.3 407.4h0M147.5 413.0h0M192.0 380.9h0M212.6 363.5h0M175.0 392.2h0M193.9 380.8h0M158.4 405.4h0M159.9 404.4h0M190.7 379.0h0M206.9 371.7h0M207.8 369.8h0M217.7 361.4h0M174.8 392.5h0M188.3 376.5h0M208.7 367.7h0M169.9 394.0h0M185.3 382.9h0M191.8 376.7h0M191.4 375.8h0M210.6 364.6h0M200.9 375.5h0M182.3 387.9h0M141.9 414.7h0M208.7 362.5h0M213.1 361.4h0M202.7 366.1h0M199.4 372.6h0M201.2 374.9h0M217.7 360.4h0M180.7 387.5h0M190.3 378.7h0M170.3 394.1h0M187.0 385.7h0M174.0 390.5h0M174.0 394.4h0M149.0 411.4h0M189.5 380.0h0M213.3 362.4h0M127.1 427.4h0M218.8 360.8h0M190.7 381.1h0M176.9 388.9h0M198.0 376.4h0M186.1 387.1h0M189.7 387.9h0M221.8 357.5h0M195.0 379.8h0M199.2 374.4h0M185.6 387.2h0M187.6 384.2h0M171.8 395.7h0M188.7 379.9h0M174.6 394.8h0M215.8 364.5h0M186.3 383.8h0M207.0 366.7h0M218.9 361.5h0M213.1 363.0h0M176.6 391.3h0M227.1 352.8h0M150.6 413.9h0M221.8 357.4h0M137.1 421.2h0M171.8 394.4h0M189.6 383.3h0M175.9 392.1h0M145.9 417.9h0M159.1 404.4h0M196.5 373.0h0M154.4 407.5h0M204.7 370.2h0M215.7 361.4h0M220.0 356.2h0M196.5 378.2h0M190.1 385.0h0M182.5 389.6h0M250.0 337.6h0M216.9 361.0h0M204.7 368.4h0M198.3 377.0h0M214.5 365.1h0M150.0 409.6h0M209.5 364.4h0M178.8 391.5h0M141.5 416.3h0M214.7 363.2h0M174.7 393.8h0M200.5 373.8h0M175.2 394.3h0M182.5 391.1h0M225.6 357.3h0M198.2 377.1h0M199.5 373.5h0M157.4 404.9h0M210.5 364.2h0M177.2 392.7h0M201.2 373.1h0M169.2 399.9h0M199.0 377.1h0M202.9 369.3h0M159.7 404.2h0M197.9 370.7h0M172.0 393.3h0M217.9 361.5h0M199.0 376.3h0M192.3 385.0h0M209.1 364.2h0M183.0 384.1h0M209.9 358.5h0M197.3 370.7h0M220.2 358.2h0M169.7 398.7h0M233.4 352.0h0M180.3 389.5h0M183.1 386.6h0M175.5 395.6h0M184.8 383.5h0M232.4 348.1h0M195.2 380.0h0M168.2 398.1h0M188.0 386.5h0M196.6 373.9h0M211.8 367.0h0M184.3 388.4h0M195.4 382.3h0M254.5 334.9h0M188.4 387.0h0M193.8 375.8h0M165.6 398.3h0M211.8 367.8h0M181.3 390.0h0M231.0 350.9h0M217.3 360.8h0M208.7 369.8h0M180.5 385.1h0M184.0 384.2h0M183.1 381.4h0M193.2 386.2h0M183.8 390.0h0M179.7 387.3h0M193.5 378.2h0M190.8 381.5h0M183.2 389.4h0M210.9 364.6h0M213.8 364.7h0M179.3 386.0h0M237.5 344.1h0M199.5 371.9h0M217.7 364.4h0M231.8 349.6h0M160.8 399.7h0M202.2 367.7h0M211.1 362.9h0M217.2 358.7h0M208.4 369.4h0M213.1 361.0h0M159.0 400.9h0M170.8 394.7h0M203.7 369.8h0M147.5 413.3h0M179.6 388.7h0M187.4 384.1h0M199.4 373.1h0M210.8 366.2h0M196.6 380.3h0M173.5 395.1h0M170.7 394.8h0M200.2 373.2h0M204.0 367.4h0M199.5 371.8h0M194.4 374.7h0M193.8 378.7h0M161.4 400.6h0M190.8 382.6h0M207.8 369.6h0M167.1 396.5h0M200.6 372.8h0M206.4 371.0h0M241.7 341.2h0M190.0 377.5h0M186.0 382.3h0M165.4 397.0h0M167.9 395.9h0M156.5 404.6h0M152.8 410.5h0M206.5 373.4h0M191.2 381.3h0M198.0 383.7h0M157.1 406.9h0M147.7 414.8h0M153.2 408.6h0M226.3 355.6h0M215.7 362.2h0M162.5 403.6h0M193.6 379.3h0M195.1 373.7h0M170.2 398.3h0M177.6 394.8h0M212.0 361.9h0M206.8 367.0h0M210.9 365.9h0M198.5 376.0h0M194.1 377.5h0M202.4 373.0h0M188.2 380.2h0M228.1 353.5h0M196.5 378.1h0M203.3 370.1h0M189.8 383.6h0M177.3 389.5h0M190.6 384.0h0M184.6 386.8h0M174.5 392.5h0M209.2 368.6h0M234.8 346.3h0M197.9 375.7h0M189.5 381.2h0M176.3 396.2h0M160.2 402.5h0M205.0 370.0h0M204.2 375.6h0M174.7 392.2h0M193.6 377.8h0M173.5 395.3h0M222.4 359.3h0M194.4 381.8h0M201.4 372.8h0M228.7 352.5h0M144.0 416.1h0M200.8 368.3h0M197.7 375.7h0M185.7 384.1h0M192.5 383.7h0M218.9 359.2h0M177.9 388.1h0M178.1 392.4h0M229.3 348.3h0M214.1 364.6h0M202.7 371.6h0M209.6 367.6h0M194.2 379.2h0M186.0 391.8h0M189.2 379.7h0M199.1 380.1h0M182.4 383.9h0M158.1 407.2h0M188.9 383.6h0M198.5 368.7h0M189.6 384.2h0M206.9 369.3h0M198.8 378.0h0M213.2 364.5h0M195.2 376.4h0M188.8 378.2h0M204.9 376.6h0M211.5 365.5h0M183.1 385.0h0M174.2 391.1h0M221.2 359.6h0M181.3 387.6h0M200.6 368.8h0M182.5 386.0h0M197.3 370.5h0M222.4 359.5h0M228.6 353.8h0M164.5 400.3h0M161.6 404.5h0M205.2 368.5h0M225.9 356.6h0M198.1 374.5h0M186.3 388.0h0M210.2 368.2h0M172.5 393.9h0M206.6 367.6h0M221.4 359.8h0M219.0 362.7h0M207.7 366.9h0M181.7 390.1h0M185.5 383.7h0M173.0 391.1h0M232.3 348.7h0M219.1 362.6h0M191.2 377.2h0M191.0 377.7h0M197.6 377.2h0M178.4 391.1h0M203.5 367.8h0M203.1 370.8h0M201.7 371.6h0M193.5 375.9h0M138.8 418.7h0M188.3 375.3h0M162.3 399.3h0M156.4 406.1h0M240.3 343.6h0M181.7 388.2h0M188.2 379.5h0M185.8 387.6h0M174.0 391.2h0M226.8 355.0h0M152.7 412.4h0M202.4 369.6h0M179.6 388.0h0M219.3 358.9h0M210.2 366.9h0M193.8 378.5h0M160.0 404.9h0M208.9 364.2h0M212.9 361.2h0M206.1 369.4h0M185.8 384.4h0M205.5 369.0h0M175.4 390.0h0M197.3 375.3h0M199.9 375.1h0M187.0 384.1h0M170.8 395.0h0M187.1 383.8h0M173.1 394.8h0M166.3 396.4h0M214.4 362.2h0M188.6 379.9h0M180.8 390.3h0M180.8 386.1h0M201.1 372.9h0M184.9 385.7h0M176.7 392.8h0M197.6 377.2h0M194.9 378.9h0M172.5 394.1h0M168.8 397.3h0M219.7 355.2h0M185.8 383.1h0M217.6 360.2h0M204.6 370.6h0M190.2 383.2h0M186.6 385.9h0M226.7 353.3h0M178.0 393.9h0M183.4 382.1h0M174.1 389.5h0M188.4 386.3h0M171.6 392.3h0M194.2 375.2h0M164.8 397.8h0M202.9 370.0h0M198.9 370.4h0M196.3 378.6h0M178.8 390.7h0M219.2 358.3h0M234.7 347.8h0M188.9 385.8h0M175.1 390.4h0M205.5 367.3h0M187.1 383.9h0M194.7 376.7h0M205.5 367.4h0M162.5 405.9h0M207.2 369.7h0M169.2 398.6h0M164.8 400.3h0M183.3 389.4h0M222.9 359.1h0M178.1 389.6h0M201.6 368.1h0M171.6 397.7h0M205.0 366.2h0M198.4 372.5h0M216.4 359.5h0M195.4 373.8h0M191.7 381.0h0M151.4 408.0h0M198.3 378.8h0M208.5 369.2h0M195.8 376.0h0M195.5 375.1h0M203.6 374.4h0M210.2 370.4h0M172.3 393.5h0M190.0 380.5h0M200.8 371.4h0M197.0 376.2h0M171.0 398.3h0M149.0 409.9h0M198.4 373.0h0M207.0 368.2h0M227.5 349.4h0M200.6 372.7h0M172.8 390.6h0M201.0 373.3h0M189.0 389.5h0M176.9 393.7h0M160.7 408.4h0M152.4 409.7h0M176.5 388.5h0M182.5 391.1h0M192.8 377.2h0M191.8 380.6h0M196.4 374.1h0M232.5 348.9h0M190.1 383.7h0M220.9 357.1h0M174.7 392.7h0M175.9 389.6h0M180.2 383.7h0M152.8 409.3h0M227.0 350.7h0M196.9 376.3h0M206.9 367.2h0M228.5 352.1h0M201.1 374.6h0M226.4 353.8h0M140.7 418.8h0M218.8 358.6h0M197.9 378.0h0M179.5 391.4h0M214.7 360.9h0M192.0 378.3h0M176.3 390.0h0M149.6 410.4h0M229.7 349.7h0M135.1 421.4h0M192.9 376.6h0M225.8 356.0h0M205.5 368.4h0M177.9 392.0h0M185.6 387.7h0M178.1 390.6h0M196.7 374.5h0M189.7 381.3h0M163.5 397.4h0M159.6 402.6h0M215.9 361.0h0M163.8 400.5h0M166.8 401.3h0M241.5 342.7h0M173.1 393.7h0M162.7 398.1h0M170.1 397.7h0M207.7 368.3h0M174.9 394.1h0M188.0 382.2h0M141.0 420.6h0M177.6 389.7h0M191.7 379.8h0M192.0 379.2h0M222.7 351.8h0M201.9 372.5h0M128.3 426.5h0M155.6 406.9h0M171.5 392.5h0M184.3 379.6h0M191.8 375.4h0M204.3 369.7h0M154.1 410.3h0M142.3 416.1h0M207.8 371.7h0M168.8 398.9h0M139.4 419.9h0M169.8 398.7h0M180.8 388.0h0M164.1 401.2h0M164.9 401.4h0M212.4 363.6h0M166.4 400.4h0M197.0 372.6h0M195.0 375.8h0M182.6 387.8h0M241.7 341.9h0M161.0 404.2h0M246.5 340.1h0M169.5 394.2h0M184.5 389.4h0M197.0 374.8h0M214.5 358.9h0M205.6 374.8h0M182.8 380.5h0M182.8 391.4h0M216.0 366.5h0M223.8 360.0h0M178.8 392.4h0M217.1 362.2h0M202.8 376.3h0M196.1 377.2h0M166.6 397.0h0M163.1 402.8h0M200.0 373.5h0M130.1 424.9h0M179.8 384.6h0M199.9 374.1h0M154.3 406.6h0M226.1 353.4h0M226.8 353.7h0M167.5 398.7h0M188.2 381.6h0M187.9 380.9h0M178.8 392.8h0M180.1 389.6h0M201.2 372.0h0M227.0 353.1h0M192.6 378.4h0M193.1 374.6h0M193.7 375.7h0M175.8 394.8h0M204.4 366.6h0M180.0 390.4h0M169.4 398.4h0M205.0 367.4h0M150.2 411.5h0M179.8 393.0h0M182.3 385.4h0M187.9 381.6h0M157.3 404.6h0M170.2 399.1h0M187.7 380.8h0M204.0 372.3h0M188.4 380.1h0M186.4 387.2h0M172.7 396.4h0M191.3 385.5h0M130.3 427.1h0M204.9 367.5h0M211.9 364.4h0M190.5 382.4h0M169.8 393.3h0M219.9 358.6h0M176.2 389.7h0M220.1 358.1h0M185.0 385.2h0M174.4 392.6h0M186.3 382.9h0M176.1 388.9h0M187.3 381.7h0M201.7 370.3h0M185.3 387.7h0M181.0 392.7h0M190.5 380.0h0M199.4 373.8h0M191.0 379.3h0M202.7 374.3h0M203.6 370.8h0M197.2 378.6h0M206.5 368.8h0M191.3 380.5h0M215.6 362.5h0M199.8 373.2h0M209.1 368.2h0M186.8 383.7h0M160.4 402.0h0M181.4 383.9h0M191.9 378.8h0M199.0 372.5h0M190.3 379.5h0M222.7 353.7h0M163.0 397.2h0M152.9 410.1h0M187.1 381.6h0M176.4 390.7h0M191.7 375.8h0M205.2 375.9h0M249.3 338.1h0M162.8 405.1h0M168.0 394.7h0M189.8 380.7h0M159.3 402.9h0M174.7 391.7h0M218.6 359.4h0M189.7 380.4h0M190.4 382.1h0M214.8 367.2h0M154.3 407.3h0M193.6 378.7h0M190.0 382.8h0M196.8 377.8h0M169.7 393.5h0M181.8 389.3h0M188.8 384.9h0M206.8 367.2h0M175.5 388.6h0M204.2 373.9h0M145.6 416.2h0M200.1 376.4h0M207.6 367.3h0M171.6 393.8h0M184.8 381.5h0M190.9 380.7h0M197.2 376.6h0M216.6 362.7h0M195.1 374.5h0M186.2 385.7h0M186.8 385.8h0M196.8 376.8h0M207.6 368.2h0M196.5 375.4h0M179.3 390.8h0M183.8 381.4h0M174.2 388.6h0M172.5 396.9h0M180.6 387.9h0M178.8 392.2h0M207.3 369.0h0M165.7 402.0h0M192.5 380.2h0M166.1 398.6h0M207.8 367.6h0M197.4 379.2h0M217.8 364.7h0M202.6 376.5h0M169.3 394.1h0M191.8 380.4h0M177.7 390.3h0M180.0 385.1h0M169.4 398.9h0M184.5 384.3h0M193.0 380.9h0M195.5 376.7h0M243.5 344.6h0M187.6 384.2h0M192.9 379.4h0M189.1 381.7h0M185.7 388.3h0M184.7 385.9h0M192.2 377.3h0M186.9 383.9h0M206.5 366.9h0M200.0 372.1h0M172.5 393.8h0M191.1 381.5h0M197.5 375.5h0M185.3 387.3h0M186.2 382.4h0M189.1 381.1h0M203.9 368.0h0M194.8 371.8h0M179.7 386.9h0M190.0 379.8h0M217.0 360.8h0M171.0 393.5h0M204.8 366.9h0M185.9 385.1h0M204.2 373.8h0M192.2 383.3h0M188.8 379.6h0M159.2 403.3h0M180.3 387.2h0M233.1 352.1h0M198.6 376.3h0M185.1 389.1h0M190.9 383.7h0M192.0 381.3h0M171.2 396.9h0M193.3 374.6h0M201.7 375.8h0M160.2 404.7h0M186.1 386.2h0M134.0 422.9h0M155.9 405.4h0M208.5 369.4h0M216.7 364.9h0M229.9 352.4h0M164.2 399.8h0M189.3 384.7h0M184.1 383.2h0M213.3 366.2h0M197.8 377.1h0M192.8 380.4h0M203.7 366.4h0M181.7 385.5h0M211.4 364.6h0M184.1 388.4h0M214.0 365.8h0M195.0 379.4h0M196.0 372.7h0M167.5 395.3h0M159.1 404.1h0M158.5 406.1h0M201.3 377.3h0M146.5 414.6h0M219.5 358.3h0M184.4 384.0h0M163.2 400.5h0M198.3 376.9h0M165.4 398.6h0M191.9 380.3h0M185.6 382.3h0M216.0 361.4h0M209.8 364.8h0M210.6 365.2h0M181.5 388.8h0M217.0 358.7h0M189.6 384.3h0M193.5 376.9h0M200.3 374.8h0M196.8 377.2h0M163.4 400.6h0M204.5 371.8h0M158.2 407.0h0M200.8 375.6h0M189.6 384.6h0M192.7 379.3h0M168.4 396.7h0M211.8 365.3h0M188.0 386.9h0M208.7 367.1h0M175.9 389.5h0M176.2 394.3h0M192.5 381.8h0M212.4 362.6h0M163.8 401.2h0M179.1 386.8h0M180.7 389.1h0M185.5 388.4h0M181.6 387.7h0M213.4 364.0h0M205.8 368.8h0M191.6 382.4h0M208.6 368.5h0M212.4 360.1h0M178.3 391.4h0M176.0 387.9h0M205.4 372.5h0M235.1 347.3h0M142.0 416.5h0M178.2 388.0h0M207.3 368.4h0M174.4 394.5h0M209.1 366.8h0M195.8 380.9h0M165.1 405.0h0M181.5 391.6h0M198.8 370.7h0M172.5 392.4h0M203.3 366.8h0M197.5 374.4h0M184.8 389.0h0M199.2 377.0h0M183.6 385.3h0M195.6 379.3h0M170.4 398.0h0M220.4 360.8h0M185.6 386.6h0M215.2 366.6h0M235.5 346.6h0M223.8 357.4h0M190.7 377.4h0M194.4 373.7h0M190.2 381.3h0M197.6 373.0h0M174.0 390.7h0M153.5 408.1h0M197.8 376.0h0M192.1 376.4h0M223.0 355.5h0M228.7 352.8h0M162.7 402.7h0M171.8 394.9h0M207.2 366.3h0M215.6 360.8h0M193.7 380.1h0M192.4 379.9h0M152.8 408.8h0M238.7 345.7h0M176.6 391.5h0M202.8 374.1h0M198.2 377.2h0M172.5 393.7h0M208.9 366.7h0M221.5 358.4h0M190.1 375.5h0M194.1 378.7h0M204.8 368.6h0M211.5 364.6h0M209.1 368.1h0M172.6 392.7h0M171.7 392.5h0M179.6 389.0h0M135.1 421.5h0M163.6 395.3h0M187.1 385.8h0M177.3 391.3h0M173.6 392.2h0M209.5 366.7h0M198.1 377.3h0M208.2 368.8h0M187.6 383.7h0M182.4 387.6h0M173.1 393.8h0M196.2 372.5h0M153.5 408.1h0M173.0 394.8h0M203.3 369.7h0M208.8 365.8h0M189.8 384.2h0M167.1 399.6h0M203.0 374.3h0M175.8 391.1h0M188.5 380.2h0M171.0 396.0h0M228.9 350.0h0M222.1 358.4h0M173.5 394.3h0M166.8 398.7h0M190.0 380.8h0M204.1 366.8h0M217.1 363.3h0M189.9 379.9h0M165.3 399.6h0M197.2 372.9h0M196.6 379.8h0M158.0 407.3h0M185.6 380.1h0M184.9 381.9h0M170.7 393.3h0M195.7 377.3h0M213.0 361.9h0M212.1 364.8h0M172.5 396.8h0M178.8 389.9h0M205.4 370.4h0M184.1 388.3h0M183.8 387.4h0M236.9 347.5h0M137.7 419.4h0M177.4 388.3h0M173.6 390.9h0M189.9 378.5h0M226.6 356.0h0M188.0 381.3h0M185.1 382.8h0M194.3 377.0h0M184.7 387.6h0M198.9 382.0h0M243.9 340.8h0M176.7 393.2h0M186.8 381.4h0M189.5 385.5h0M147.3 412.2h0M203.6 372.2h0M189.7 384.9h0M150.2 411.8h0M185.4 385.1h0M194.4 375.8h0M172.4 392.6h0M213.6 361.0h0M178.6 387.9h0M160.0 404.6h0M207.7 369.1h0M188.2 382.2h0M193.9 379.3h0M157.5 408.6h0M162.3 406.0h0M170.0 394.6h0M187.8 382.6h0M188.2 377.5h0M219.7 360.2h0M223.0 354.7h0M193.7 378.1h0M189.0 380.8h0M230.5 351.0h0M192.2 376.8h0M212.0 363.7h0M180.9 389.3h0M188.9 382.4h0M185.2 385.4h0M176.6 391.1h0M198.8 374.2h0M173.8 394.3h0M188.7 383.7h0M199.6 374.2h0M234.9 350.9h0M151.4 409.4h0M192.6 378.4h0M204.6 377.8h0M183.8 388.7h0M209.1 367.1h0M202.0 377.9h0M201.1 371.9h0M182.3 384.6h0M186.5 382.7h0M186.3 381.6h0M170.4 396.1h0M194.8 375.5h0M169.0 395.4h0M171.6 395.3h0M162.2 401.9h0M213.9 367.0h0M179.3 392.6h0M172.6 392.0h0M207.5 365.9h0M182.3 389.1h0M197.9 379.3h0M187.3 388.5h0M198.5 372.1h0M194.9 376.7h0M146.0 410.9h0M221.5 355.4h0M211.8 360.6h0M160.7 401.6h0M209.5 368.0h0M186.3 385.0h0M193.4 375.9h0M217.6 363.6h0M211.6 363.9h0M211.3 366.4h0M232.7 347.3h0M213.6 364.9h0M178.5 391.7h0M164.4 398.5h0M208.4 375.0h0M155.5 405.1h0M183.7 385.3h0M183.5 387.7h0M176.4 389.9h0M219.1 360.6h0M197.6 374.0h0M186.3 383.8h0M209.6 365.0h0M182.5 389.3h0M215.9 363.4h0M233.4 345.8h0M188.3 381.8h0M187.6 383.6h0M214.9 364.7h0M150.3 411.8h0M165.0 399.5h0M169.7 399.1h0M157.5 405.7h0M190.9 381.3h0M197.1 381.0h0M190.4 381.0h0M190.4 377.9h0M209.9 367.4h0M213.2 364.5h0M216.7 360.9h0M188.0 384.4h0M191.3 384.9h0M221.5 357.8h0M199.5 375.4h0M218.3 361.5h0M181.1 384.5h0M190.0 381.0h0M177.7 392.3h0M190.5 382.7h0M199.8 370.0h0M181.7 385.5h0M231.6 353.4h0M160.2 402.4h0M208.9 368.4h0M168.4 398.7h0M197.1 373.2h0M175.0 390.9h0M192.4 381.7h0M192.4 379.6h0M174.4 391.5h0M165.7 399.7h0M176.2 390.7h0M191.4 382.1h0M207.7 365.1h0M224.2 353.1h0M155.3 408.4h0M200.4 377.2h0M181.2 389.1h0M191.1 378.2h0M197.5 375.2h0M207.3 368.5h0M199.3 373.9h0M190.4 384.9h0M223.2 356.6h0M196.7 376.6h0M190.8 382.4h0M214.5 361.4h0M167.2 399.7h0M171.4 396.6h0M221.0 356.9h0M186.8 382.1h0M153.9 408.1h0M207.4 367.8h0M215.8 361.3h0M174.8 391.9h0M163.8 402.8h0M189.7 379.3h0M198.2 370.1h0M178.4 389.0h0M171.9 395.4h0M201.6 369.8h0M201.8 371.0h0M158.0 406.6h0M167.7 398.2h0M184.0 387.2h0M177.7 388.0h0M195.1 380.9h0M201.3 369.8h0M229.0 353.4h0M198.1 374.5h0M209.7 367.6h0M158.5 404.1h0M176.4 388.7h0M212.5 363.2h0M160.6 405.6h0M218.3 360.7h0M202.0 372.1h0M193.4 373.9h0M188.2 384.0h0M166.6 399.6h0M168.3 399.1h0M179.7 389.1h0M181.7 385.8h0M216.0 364.0h0M169.6 393.5h0M177.7 387.5h0M154.7 406.2h0M193.9 376.8h0M190.5 374.6h0M213.1 366.4h0M230.1 352.4h0M201.6 367.3h0M172.9 396.9h0M195.2 376.6h0M196.4 377.0h0M189.3 384.3h0M168.3 399.6h0M197.6 376.2h0M165.6 399.0h0M188.8 380.9h0M184.3 384.1h0M137.3 420.5h0M203.1 371.5h0M234.4 347.2h0M183.0 388.2h0M177.8 393.7h0M209.7 364.7h0M163.5 405.2h0M190.9 379.2h0M195.5 373.9h0M179.0 392.6h0M189.0 387.9h0M173.1 395.9h0M178.6 389.1h0M204.2 373.1h0M172.5 392.0h0M178.7 388.2h0M176.2 394.0h0M201.0 371.2h0M182.8 390.3h0M173.0 395.1h0M197.3 375.3h0M149.1 409.5h0M151.3 408.8h0M196.5 372.6h0M228.9 354.9h0M180.4 380.5h0M197.5 378.0h0M161.9 401.7h0M193.1 375.0h0M194.6 376.6h0M202.4 369.1h0M175.2 395.2h0M230.4 353.2h0M170.8 396.6h0M221.8 358.7h0M168.4 397.2h0M206.8 369.5h0M218.2 362.7h0M235.3 347.2h0M188.2 386.4h0M156.6 407.5h0M208.0 367.2h0M176.0 393.9h0M168.5 397.4h0M178.5 388.3h0M171.9 391.5h0M206.4 366.3h0M194.5 375.6h0M204.8 369.1h0M208.4 370.5h0M182.7 389.0h0M205.2 372.1h0M215.7 363.3h0M229.0 352.5h0M194.2 380.7h0M185.3 386.0h0M171.5 392.6h0M182.6 388.0h0M190.9 385.7h0M195.9 377.6h0M163.0 401.8h0M182.4 387.9h0M186.6 378.3h0M178.5 387.6h0M178.2 386.0h0M197.9 377.0h0M170.7 394.1h0M200.5 372.9h0M168.6 397.5h0M195.2 379.6h0M167.9 397.4h0M215.1 366.7h0M206.1 367.1h0M218.5 354.5h0M173.5 390.2h0M163.6 405.3h0M163.6 400.7h0M186.2 386.2h0M212.7 365.8h0M205.4 370.5h0M204.7 367.6h0M165.4 398.2h0M213.2 365.9h0M205.9 368.2h0M179.5 388.8h0M138.2 416.6h0M174.4 396.5h0M188.1 383.1h0M223.3 358.3h0M195.3 377.5h0M189.5 387.1h0M223.6 358.0h0M222.9 357.0h0M198.6 376.5h0M203.6 373.4h0M216.7 361.7h0M175.9 393.2h0M199.2 376.9h0M182.0 388.0h0M170.8 395.6h0M201.1 372.3h0M213.7 367.4h0M229.6 352.6h0M206.9 366.0h0M214.4 366.2h0M187.2 383.2h0M159.7 404.9h0M177.7 387.9h0M199.2 371.4h0M178.6 389.2h0M230.7 351.9h0M216.2 365.1h0M186.9 385.1h0M226.9 355.4h0M204.4 370.5h0M225.1 352.4h0M187.3 378.5h0M207.3 367.8h0M186.2 383.9h0M191.3 380.8h0M214.9 362.2h0M230.8 351.3h0M193.7 374.1h0M197.3 377.9h0M172.8 394.0h0M186.7 385.4h0M201.4 370.6h0M165.1 396.3h0M182.1 385.6h0M167.9 397.4h0M195.2 377.3h0M209.6 365.4h0M198.2 376.5h0M185.3 380.7h0M170.1 392.3h0M157.5 403.7h0M191.5 378.1h0M222.7 357.7h0M185.6 380.0h0M189.7 385.1h0M181.9 389.2h0M167.7 393.5h0M213.3 364.8h0M205.9 371.4h0M160.4 406.5h0M165.3 397.6h0M219.1 357.3h0M172.8 393.6h0M190.2 385.4h0M169.7 396.6h0M197.8 377.4h0M174.8 390.5h0M178.6 386.3h0M168.0 396.8h0M230.7 350.2h0M245.2 337.6h0M195.8 372.6h0M205.1 372.8h0M203.0 370.5h0M191.3 383.3h0M189.3 383.7h0M183.7 383.1h0M207.6 370.7h0M165.6 399.8h0M173.8 390.5h0M205.9 368.3h0M161.9 405.4h0M224.9 355.4h0M185.5 385.2h0M195.1 379.7h0M218.9 355.7h0M190.2 380.9h0M193.9 378.2h0M178.9 387.0h0M201.9 371.9h0M205.7 372.6h0M172.8 394.0h0M204.9 369.1h0M211.5 364.8h0M201.0 370.4h0M175.5 390.0h0M210.7 364.6h0M219.8 359.3h0M181.0 387.8h0M153.0 405.4h0M176.5 395.1h0M191.6 377.1h0M218.4 359.1h0M216.2 363.1h0M205.5 369.6h0M177.8 388.8h0M207.1 371.6h0M191.1 379.9h0M169.8 395.0h0M153.8 409.8h0M212.1 364.4h0M157.2 403.1h0M217.4 360.4h0M238.4 346.5h0M191.9 383.8h0M173.6 397.4h0M177.8 387.9h0M177.0 391.3h0M199.2 374.5h0M212.2 365.1h0M175.4 393.7h0M184.2 381.0h0M177.6 388.7h0M215.2 359.3h0M211.7 367.6h0M173.4 392.2h0M184.8 383.4h0M194.7 380.5h0M153.7 409.8h0M179.9 390.6h0M194.1 375.5h0M161.9 401.7h0M195.6 378.7h0M192.2 377.7h0M179.6 390.5h0M212.9 363.8h0M171.6 395.1h0M200.1 375.7h0M185.9 381.8h0M214.1 363.1h0M174.8 397.7h0M203.7 371.3h0M204.1 367.1h0M215.0 367.2h0M224.9 353.5h0M159.4 403.6h0M189.6 384.5h0M168.5 397.2h0M211.6 367.5h0M219.7 361.9h0M184.9 384.0h0M196.2 375.8h0M218.6 363.4h0M195.4 378.4h0M188.4 382.2h0M156.7 408.9h0M176.3 388.9h0M212.1 366.3h0M160.6 402.4h0M197.2 374.1h0M195.7 379.2h0M190.9 379.6h0M207.9 367.6h0M175.5 391.1h0M220.2 359.5h0M182.0 384.7h0M212.5 362.9h0M179.0 385.7h0M60.5 478.4h0M115.7 434.6h0M116.6 438.3h0M123.0 423.7h0M324.6 281.8h0M272.4 322.9h0M269.8 323.8h0M265.2 324.3h0M265.2 328.3h0M260.4 336.4h0" stroke="#d93535" stroke-width="5.0" stroke-linecap="round" fill="none"/>
<line x1="51.60" y1="484.55" x2="330.40" y2="276.60" stroke="#808080" stroke-width="1.0"/>
</g>
<line x1="60.31" y1="484.55" x2="60.31" y2="489.05" stroke="#000" stroke-width="1.0"/>
<text x="60.31" y="499.75" font-size="13.2" text-anchor="middle" >−75</text>
<line x1="103.88" y1="484.55" x2="103.88" y2="489.05" stroke="#000" stroke-width="1.0"/>
<text x="103.88" y="499.75" font-size="13.2" text-anchor="middle" >−50</text>
<line x1="147.44" y1="484.55" x2="147.44" y2="489.05" stroke="#000" stroke-width="1.0"/>
<text x="147.44" y="499.75" font-size="13.2" text-anchor="middle" >−25</text>
<line x1="191.00" y1="484.55" x2="191.00" y2="489.05" stroke="#000" stroke-width="1.0"/>
<text x="191.00" y="499.75" font-size="13.2" text-anchor="middle" >0</text>
<line x1="234.56" y1="484.55" x2="234.56" y2="489.05" stroke="#000" stroke-width="1.0"/>
<text x="234.56" y="499.75" font-size="13.2" text-anchor="middle" >25</text>
<line x1="278.12" y1="484.55" x2="278.12" y2="489.05" stroke="#000" stroke-width="1.0"/>
<text x="278.12" y="499.75" font-size="13.2" text-anchor="middle" >50</text>
<line x1="321.69" y1="484.55" x2="321.69" y2="489.05" stroke="#000" stroke-width="1.0"/>
<text x="321.69" y="499.75" font-size="13.2" text-anchor="middle" >75</text>
<line x1="51.60" y1="478.05" x2="47.10" y2="478.05" stroke="#000" stroke-width="1.0"/>
<text x="44.10" y="482.85" font-size="13.2" text-anchor="end" >−75</text>
<line x1="51.60" y1="445.56" x2="47.10" y2="445.56" stroke="#000" stroke-width="1.0"/>
<text x="44.10" y="450.36" font-size="13.2" text-anchor="end" >−50</text>
<line x1="51.60" y1="413.07" x2="47.10" y2="413.07" stroke="#000" stroke-width="1.0"/>
<text x="44.10" y="417.87" font-size="13.2" text-anchor="end" >−25</text>
<line x1="51.60" y1="380.58" x2="47.10" y2="380.58" stroke="#000" stroke-width="1.0"/>
<text x="44.10" y="385.38" font-size="13.2" text-anchor="end" >0</text>
<line x1="51.60" y1="348.08" x2="47.10" y2="348.08" stroke="#000" stroke-width="1.0"/>
<text x="44.10" y="352.88" font-size="13.2" text-anchor="end" >25</text>
<line x1="51.60" y1="315.59" x2="47.10" y2="315.59" stroke="#000" stroke-width="1.0"/>
<text x="44.10" y="320.39" font-size="13.2" text-anchor="end" >50</text>
<line x1="51.60" y1="283.10" x2="47.10" y2="283.10" stroke="#000" stroke-width="1.0"/>
<text x="44.10" y="287.90" font-size="13.2" text-anchor="end" >75</text>
<rect x="51.60" y="276.60" width="278.80" height="207.95" fill="none" stroke="#000" stroke-width="1.25"/>
<rect x="58.40" y="283.30" width="122.10" height="41.20" rx="2.5" fill="#fff" fill-opacity="0.8" stroke="#d9d9d9" stroke-width="0.9"/>
<circle cx="76.50" cy="293.30" r="2.4" fill="#3fa535"/>
<circle cx="76.50" cy="311.90" r="2.4" fill="#d93535"/>
<text x="101.00" y="297.90" font-size="13.05" text-anchor="start" >Train dataset</text>
<text x="101.00" y="316.30" font-size="13.05">Test<tspan x="134.00">dataset</tspan></text>
<text x="191.80" y="433.10" font-size="11.7" text-anchor="start" >RMSE = 552.35 meV/Å</text>
<text x="191.80" y="451.20" font-size="11.7" text-anchor="start" >RMSE = 555.82 meV/Å</text>
<text x="191.00" y="515.80" font-size="13.25" text-anchor="middle" >DFT force (eV/Å)</text>
<text transform="translate(15.5,380.58) rotate(-90)" font-size="13.25" text-anchor="middle">NEP force (eV/Å)</text>
<g clip-path="url(#cd)">
<path d="M549.7 381.3h0M489.9 416.8h0M509.4 404.5h0M534.0 380.9h0M548.0 369.9h0M506.1 403.4h0M523.6 396.1h0M530.9 387.9h0M520.7 392.4h0M548.1 377.1h0M498.9 411.7h0M535.9 379.7h0M503.8 408.2h0M533.9 384.7h0M500.5 402.6h0M516.3 395.6h0M546.2 385.3h0M499.7 410.6h0M525.1 392.0h0M539.1 380.4h0M520.6 387.1h0M516.7 394.2h0M523.5 392.7h0M501.5 412.2h0M541.9 376.5h0M541.2 379.5h0M566.1 353.1h0M530.3 387.1h0M550.2 366.9h0M511.0 405.5h0M535.2 385.2h0M500.8 410.1h0M529.3 392.0h0M515.5 397.8h0M546.9 377.2h0M473.4 432.7h0M519.2 399.1h0M516.0 399.3h0M539.6 391.3h0M505.8 400.7h0M512.9 399.7h0M554.3 368.3h0M508.0 400.4h0M513.8 399.5h0M551.3 374.2h0M471.8 427.1h0M533.3 388.2h0M531.7 386.6h0M529.7 396.6h0M479.6 428.0h0M488.5 419.4h0M503.0 406.3h0M502.3 407.2h0M539.7 377.8h0M512.5 403.6h0M558.1 370.9h0M522.7 392.5h0M538.4 385.2h0M507.1 407.1h0M508.7 403.9h0M533.9 392.9h0M544.8 383.4h0M507.2 404.1h0M554.8 374.5h0M517.5 395.2h0M561.6 366.8h0M493.2 422.4h0M514.8 397.7h0M539.2 382.7h0M521.6 392.5h0M509.3 406.6h0M539.2 386.8h0M546.5 377.6h0M513.5 403.8h0M542.1 380.4h0M512.9 405.2h0M504.0 406.8h0M554.8 367.4h0M509.6 402.3h0M511.4 407.2h0M542.0 375.3h0M499.4 417.9h0M500.3 410.1h0M517.0 398.1h0M525.6 389.3h0M546.1 379.2h0M518.8 399.0h0M507.4 401.4h0M492.0 413.0h0M515.5 403.3h0M512.0 403.2h0M550.3 376.4h0M484.0 439.2h0M479.8 419.1h0M477.6 430.2h0M517.4 397.9h0M533.8 385.0h0M562.7 369.1h0M483.6 420.1h0M526.9 393.5h0M508.0 414.2h0M562.7 363.2h0M531.5 387.0h0M560.3 369.5h0M522.4 394.6h0M549.2 368.3h0M531.8 384.9h0M507.4 405.5h0M546.1 378.1h0M515.5 392.9h0M467.9 436.7h0M520.4 403.0h0M492.9 412.0h0M535.9 386.1h0M560.6 379.4h0M530.3 393.6h0M536.6 388.8h0M492.8 424.5h0M503.6 413.2h0M508.5 407.0h0M571.1 352.2h0M512.6 402.2h0M529.7 391.1h0M477.9 428.7h0M510.5 402.6h0M526.0 388.2h0M519.5 391.8h0M515.7 406.5h0M533.5 391.5h0M534.8 385.3h0M493.2 409.3h0M490.0 420.4h0M536.5 377.1h0M542.7 381.4h0M489.3 421.1h0M539.4 382.7h0M488.4 414.7h0M518.6 399.0h0M554.1 370.3h0M482.5 422.9h0M522.6 388.5h0M517.3 398.0h0M494.7 411.8h0M541.4 374.1h0M499.5 406.5h0M506.2 407.9h0M495.4 415.3h0M533.3 385.2h0M536.3 385.0h0M556.1 373.3h0M516.5 402.2h0M502.1 411.6h0M559.3 374.0h0M507.2 395.1h0M539.3 378.7h0M562.4 366.6h0M542.0 384.4h0M477.4 423.5h0M496.6 418.8h0M503.0 412.6h0M543.1 375.2h0M503.1 409.1h0M541.3 375.4h0M527.7 390.1h0M526.3 391.4h0M521.7 397.2h0M503.6 406.7h0M556.0 368.4h0M525.2 391.4h0M559.4 369.4h0M499.6 403.8h0M480.1 425.6h0M556.8 366.6h0M493.1 420.5h0M524.8 398.6h0M512.7 399.0h0M518.1 400.0h0M513.7 404.0h0M494.6 413.8h0M492.1 412.2h0M527.0 392.0h0M504.0 409.1h0M564.4 361.5h0M523.6 391.5h0M556.4 368.8h0M509.8 410.4h0M541.4 375.3h0M506.8 408.9h0M498.2 404.8h0M515.5 403.8h0M516.6 397.9h0M488.4 419.9h0M505.2 405.9h0M539.1 372.8h0M517.3 399.1h0M525.0 388.7h0M540.6 380.8h0M517.9 399.0h0M503.6 405.6h0M487.6 419.1h0M519.6 397.1h0M534.8 391.1h0M526.5 389.8h0M550.4 361.1h0M510.9 403.4h0M528.2 387.7h0M500.4 414.3h0M473.4 418.2h0M535.6 389.7h0M509.6 406.1h0M537.2 390.2h0M505.8 404.2h0M482.7 423.4h0M498.5 410.6h0M513.7 400.9h0M504.0 402.4h0M514.0 395.6h0M534.7 380.9h0M520.6 412.4h0M532.7 390.0h0M517.2 397.8h0M504.0 404.9h0M496.5 423.6h0M466.3 426.1h0M535.6 383.3h0M548.3 364.9h0M496.2 418.1h0M497.2 417.8h0M499.5 417.9h0M529.3 393.1h0M523.2 396.6h0M515.0 410.7h0M519.5 391.8h0M479.4 423.0h0M517.6 401.0h0M516.1 406.6h0M532.8 382.4h0M503.0 417.2h0M507.6 412.3h0M526.0 396.4h0M505.8 409.5h0M571.4 356.2h0M497.8 409.6h0M522.2 392.5h0M497.7 417.1h0M554.8 365.5h0M524.2 388.7h0M525.9 386.9h0M546.5 367.8h0M553.4 375.2h0M504.6 410.5h0M527.2 393.7h0M508.8 406.8h0M549.9 371.5h0M468.8 433.1h0M575.4 356.4h0M515.4 395.4h0M469.5 434.1h0M528.1 392.2h0M500.2 413.3h0M521.9 399.6h0M524.2 394.5h0M547.7 378.8h0M475.7 429.7h0M530.9 386.7h0M549.9 371.1h0M488.8 421.2h0M539.7 374.6h0M541.4 384.6h0M507.8 400.9h0M473.5 430.8h0M525.0 391.5h0M509.4 408.4h0M560.1 369.2h0M515.4 395.7h0M538.8 388.6h0M529.9 388.4h0M526.0 401.0h0M490.4 425.1h0M503.1 408.6h0M523.8 395.5h0M519.2 384.7h0M518.6 403.8h0M540.4 380.5h0M522.4 394.1h0M539.1 381.5h0M523.5 395.4h0M530.6 394.3h0M508.2 402.4h0M483.9 418.5h0M542.4 377.2h0M542.8 378.3h0M537.4 379.0h0M501.2 404.2h0M548.6 372.4h0M523.7 395.8h0M525.4 388.5h0M504.6 411.0h0M509.0 403.0h0M505.5 410.7h0M530.4 389.1h0M504.2 405.2h0M520.6 397.0h0M507.6 402.0h0M489.4 420.9h0M522.6 388.3h0M524.4 393.6h0M523.1 384.4h0M546.9 373.6h0M521.0 395.7h0M497.4 417.2h0M568.7 362.6h0M521.9 382.5h0M539.6 389.5h0M524.4 398.7h0M463.7 436.4h0M551.0 368.6h0M492.9 417.8h0M548.1 378.4h0M518.0 398.6h0M499.9 412.1h0M460.4 433.7h0M509.5 397.3h0M496.2 415.0h0M522.0 397.8h0M493.9 420.1h0M539.0 388.5h0M508.0 405.5h0M510.0 413.5h0M570.5 356.0h0M540.7 381.7h0M505.1 409.9h0M530.2 383.4h0M481.1 431.7h0M502.5 406.0h0M516.8 398.3h0M502.7 408.2h0M496.2 414.1h0M537.0 387.8h0M506.2 404.4h0M501.0 406.1h0M506.2 419.3h0M504.8 407.3h0M540.6 381.4h0M528.3 391.2h0M483.9 421.7h0M554.2 371.6h0M547.8 377.1h0M514.0 396.4h0M496.5 417.4h0M521.5 396.7h0M506.8 407.7h0M533.8 389.0h0M520.0 398.2h0M552.4 367.1h0M480.9 428.6h0M505.8 397.8h0M527.9 396.2h0M508.8 413.6h0M510.6 405.9h0M492.5 424.9h0M568.1 352.7h0M516.5 397.3h0M538.1 386.8h0M501.7 410.7h0M509.5 406.2h0M519.1 387.4h0M561.4 365.0h0M554.7 369.5h0M572.2 355.5h0M558.4 366.9h0M557.6 368.4h0M515.7 402.7h0M503.9 408.1h0M553.2 370.9h0M503.3 413.7h0M534.1 385.6h0M505.9 411.5h0M495.1 421.1h0M522.4 394.8h0M499.0 410.2h0M513.4 395.5h0M542.5 383.3h0M516.2 408.5h0M545.6 380.6h0M509.9 404.9h0M529.5 389.8h0M496.1 412.5h0M553.3 372.2h0M470.8 426.5h0M527.9 394.6h0M534.7 383.8h0M456.9 439.5h0M480.6 424.3h0M483.5 420.4h0M518.8 401.3h0M514.4 397.3h0M512.6 405.3h0M535.9 385.8h0M576.8 357.8h0M495.9 413.0h0M529.6 390.8h0M522.0 399.3h0M547.6 373.3h0M468.7 437.5h0M481.1 424.0h0M494.4 414.8h0M494.2 413.7h0M526.7 391.2h0M509.1 412.2h0M471.3 432.1h0M502.4 408.1h0M481.0 418.5h0M502.0 403.0h0M516.0 396.1h0M501.4 406.6h0M550.7 382.9h0M576.0 358.0h0M533.0 393.6h0M482.7 421.9h0M555.8 367.7h0M572.1 355.5h0M516.1 397.1h0M530.0 387.6h0M547.6 376.1h0M525.6 394.3h0M551.5 368.4h0M534.3 385.6h0M505.6 400.4h0M508.6 407.6h0M514.5 401.4h0M503.9 411.2h0M552.9 369.4h0M528.6 395.1h0M515.8 408.1h0M540.5 384.0h0M522.6 397.0h0M546.2 376.8h0M560.4 368.5h0M524.9 388.0h0M506.3 405.4h0M491.7 413.8h0M564.1 358.3h0M530.1 384.9h0M506.0 403.4h0M518.3 399.3h0M492.9 414.9h0M553.6 371.6h0M528.2 387.3h0M511.6 404.6h0M484.4 420.4h0M572.5 360.3h0M523.6 388.9h0M466.0 432.0h0M506.5 401.8h0M519.9 397.8h0M524.3 388.2h0M493.8 422.1h0M548.9 374.1h0M534.9 390.3h0M521.7 394.9h0M504.4 415.3h0M476.9 428.5h0M509.3 406.8h0M515.4 395.0h0M491.5 403.8h0M527.8 387.3h0M540.1 377.5h0M508.9 401.5h0M510.6 403.6h0M520.1 397.0h0M561.3 369.7h0M555.6 372.6h0M479.8 423.2h0M508.4 407.4h0M512.4 400.4h0M563.6 366.9h0M532.9 378.1h0M551.6 367.6h0M511.8 402.7h0M522.7 382.2h0M534.0 382.4h0M520.3 391.9h0M519.3 397.2h0M555.7 371.2h0M516.7 393.4h0M553.2 366.7h0M506.0 403.5h0M513.0 397.7h0M538.5 381.8h0M533.3 387.9h0M544.5 376.4h0M521.7 405.7h0M520.0 395.4h0M509.2 397.0h0M482.1 425.2h0M510.6 396.3h0M546.2 377.8h0M519.1 400.6h0M525.7 388.0h0M551.4 373.3h0M498.2 410.1h0M529.4 391.5h0M507.1 403.7h0M548.5 374.4h0M484.9 421.4h0M512.2 395.8h0M508.3 407.6h0M512.6 402.3h0M507.2 401.6h0M566.7 356.8h0M515.5 396.9h0M517.2 402.3h0M485.6 421.0h0M488.4 421.2h0M502.3 410.5h0M491.1 423.3h0M533.3 393.8h0M506.5 402.6h0M509.7 400.8h0M517.4 403.4h0M498.5 414.3h0M489.9 418.1h0M504.3 410.0h0M525.8 388.6h0M518.1 398.9h0M500.0 419.6h0M559.6 368.1h0M529.8 387.2h0M537.1 386.7h0M558.2 364.9h0M498.4 408.4h0M544.2 375.9h0M527.0 387.3h0M527.9 390.6h0M483.8 421.2h0M501.1 412.9h0M521.0 404.0h0M519.7 398.9h0M558.5 362.2h0M511.7 398.6h0M526.8 395.0h0M513.3 402.5h0M489.2 421.8h0M512.5 406.1h0M523.3 394.9h0M563.2 359.1h0M551.1 372.8h0M507.8 406.2h0M499.1 419.7h0M520.3 382.3h0M507.2 410.0h0M580.8 350.7h0M541.6 377.2h0M519.7 395.8h0M508.0 402.2h0M495.1 423.3h0M518.8 400.3h0M458.5 444.5h0M511.7 407.4h0M510.0 413.6h0M558.1 364.7h0M478.5 431.9h0M543.1 375.1h0M512.9 398.3h0M540.0 382.6h0M503.2 413.9h0M531.1 391.7h0M541.6 382.8h0M501.6 412.4h0M518.1 400.5h0M518.7 397.1h0M506.9 407.1h0M518.9 397.3h0M521.9 395.0h0M513.0 397.1h0M479.5 419.2h0M527.7 390.5h0M486.0 421.9h0M519.1 397.5h0M545.7 373.6h0M490.3 414.1h0M518.1 397.3h0M526.1 392.3h0M520.2 394.1h0M509.9 400.0h0M521.7 396.6h0M537.8 381.5h0M496.8 424.9h0M517.3 400.8h0M538.6 380.6h0M506.9 411.8h0M492.2 422.5h0M539.9 380.6h0M538.2 389.9h0M544.5 379.2h0M521.0 388.0h0M505.7 405.7h0M558.1 356.9h0M551.5 367.2h0M540.8 383.6h0M509.4 404.9h0M524.2 391.7h0M500.1 404.2h0M496.1 408.9h0M523.6 390.7h0M529.2 388.2h0M535.0 388.9h0M523.9 389.5h0M570.9 361.9h0M497.8 409.2h0M553.2 366.6h0M511.7 407.7h0M544.1 370.9h0M499.3 412.4h0M574.7 351.5h0M556.3 365.7h0M482.9 417.2h0M553.2 364.1h0M526.1 385.7h0M543.6 373.4h0M521.7 399.8h0M518.5 398.5h0M488.4 417.3h0M510.5 399.8h0M521.3 394.7h0M481.4 427.6h0M498.1 417.1h0M522.1 394.0h0M532.8 367.9h0M511.0 403.7h0M555.9 372.5h0M509.5 401.8h0M537.0 380.9h0M553.8 370.5h0M503.1 416.1h0M550.1 376.3h0M518.8 399.4h0M501.6 406.0h0M561.2 367.8h0M562.0 366.3h0M514.8 404.1h0M548.3 377.1h0M546.3 368.5h0M521.9 391.8h0M575.6 352.0h0M519.7 399.5h0M506.5 410.7h0M523.3 390.0h0M519.9 396.3h0M512.0 400.0h0M515.8 398.3h0M490.2 418.0h0M537.5 392.2h0M489.7 415.5h0M549.4 367.8h0M539.6 381.3h0M513.2 401.9h0M513.4 400.3h0M506.8 406.9h0M522.9 400.7h0M565.4 363.7h0M530.8 388.2h0M512.5 397.9h0M565.4 365.9h0M513.2 402.4h0M514.3 400.4h0M575.0 353.5h0M539.2 369.7h0M552.0 370.0h0M538.0 380.3h0M536.0 388.6h0M539.6 375.8h0M541.5 386.4h0M576.6 345.4h0M494.6 411.9h0M465.2 436.3h0M516.2 402.8h0M487.0 417.3h0M526.8 392.8h0M494.0 410.6h0M523.9 403.9h0M549.8 373.6h0M510.5 412.7h0M505.0 407.1h0M542.2 380.8h0M504.6 404.5h0M521.0 399.6h0M519.5 400.2h0M491.7 430.7h0M545.9 378.5h0M496.4 413.1h0M544.8 379.1h0M532.1 390.7h0M496.9 414.2h0M514.4 398.3h0M543.8 377.3h0M516.0 406.4h0M576.5 357.1h0M498.7 415.3h0M551.9 382.5h0M482.6 420.3h0M516.6 397.6h0M547.2 379.7h0M476.3 426.9h0M529.4 388.3h0M495.9 416.0h0M490.4 417.2h0M504.8 408.8h0M509.3 406.7h0M510.6 399.5h0M508.0 410.9h0M501.6 403.0h0M458.9 440.9h0M555.4 371.3h0M574.1 354.3h0M533.7 389.4h0M515.6 401.0h0M498.4 399.8h0M529.3 387.6h0M529.4 389.8h0M500.4 411.4h0M518.1 391.8h0M540.7 377.4h0M529.6 390.2h0M521.2 391.0h0M525.5 392.2h0M504.6 407.8h0M521.0 392.6h0M524.2 395.7h0M504.3 417.6h0M519.5 397.5h0M544.7 374.6h0M547.9 376.5h0M468.8 428.8h0M487.3 416.2h0M546.8 377.4h0M532.8 386.5h0M533.2 386.9h0M488.2 417.5h0M524.1 391.3h0M536.6 383.1h0M532.9 381.5h0M504.6 406.2h0M508.3 403.8h0M530.0 393.2h0M526.9 390.8h0M554.2 365.8h0M466.9 433.2h0M507.8 404.8h0M552.7 372.3h0M494.3 418.7h0M525.0 395.1h0M557.5 364.4h0M497.6 412.7h0M530.5 388.0h0M569.4 354.7h0M491.1 420.1h0M473.7 432.4h0M548.2 369.9h0M510.4 401.0h0M521.1 401.1h0M524.0 393.1h0M552.6 376.5h0M515.2 401.5h0M546.7 377.6h0M541.1 386.3h0M522.1 398.9h0M548.1 368.5h0M529.7 389.6h0M520.0 397.8h0M473.2 427.5h0M493.9 420.5h0M497.1 414.0h0M511.9 394.0h0M526.5 391.2h0M516.7 397.3h0M577.9 353.7h0M509.5 402.6h0M495.5 411.8h0M522.6 394.8h0M511.4 402.1h0M510.1 402.5h0M544.8 384.5h0M529.8 385.4h0M549.8 367.2h0M495.9 408.8h0M537.1 382.5h0M522.4 396.4h0M506.8 404.6h0M483.3 416.3h0M520.0 390.6h0M493.4 418.4h0M539.7 375.8h0M533.2 388.7h0M533.8 388.1h0M553.2 371.8h0M472.2 429.4h0M536.6 384.5h0M527.1 387.1h0M527.2 389.6h0M509.6 398.0h0M544.6 382.7h0M489.0 418.7h0M537.0 380.9h0M526.5 385.6h0M544.5 385.3h0M512.5 402.4h0M508.6 416.5h0M541.1 378.7h0M525.9 393.6h0M479.1 425.3h0M545.1 370.8h0M494.9 411.5h0M543.7 379.1h0M526.5 387.1h0M536.1 372.8h0M547.0 378.6h0M496.8 411.2h0M537.9 384.3h0M520.3 392.7h0M515.5 402.2h0M521.9 390.5h0M509.3 412.8h0M522.8 393.1h0M527.8 374.3h0M506.0 410.5h0M548.8 377.8h0M524.2 389.5h0M494.5 421.5h0M533.1 394.6h0M534.6 391.0h0M486.4 419.5h0M528.9 385.3h0M512.5 401.2h0M528.1 389.2h0M517.5 393.8h0M531.3 387.6h0M526.3 386.3h0M465.6 427.0h0M523.7 394.8h0M535.3 379.9h0M668.9 283.6h0M664.9 286.4h0M656.9 294.0h0M656.9 299.6h0M635.6 305.6h0M639.9 308.3h0M644.0 311.5h0M647.5 308.9h0M627.9 315.9h0M626.0 318.3h0M630.0 317.5h0M615.0 323.9h0M619.0 322.3h0M623.6 325.9h0M601.0 329.9h0M609.0 329.9h0M609.9 332.9h0M596.1 337.0h0M600.0 340.0h0M598.1 343.0h0M602.1 340.0h0M582.0 341.0h0M586.1 342.0h0M584.0 345.0h0M580.1 362.0h0M431.2 464.6h0M442.0 463.0h0M443.0 466.0h0M441.5 472.5h0M459.5 452.0h0M449.3 446.5h0M475.5 419.9h0M478.2 411.8h0M467.4 428.3h0" stroke="#9467bd" stroke-width="5.0" stroke-linecap="round" fill="none"/>
<path d="M536.8 383.6h0M519.6 401.7h0M521.8 400.6h0M544.6 381.8h0M496.5 406.9h0M489.1 420.6h0M546.4 374.8h0M562.9 367.8h0M528.0 381.2h0M543.7 378.2h0M488.1 425.5h0M494.5 416.9h0M510.6 402.0h0M514.6 396.7h0M525.3 393.5h0M512.0 399.8h0M520.5 394.8h0M517.9 397.0h0M534.7 386.7h0M544.3 376.8h0M540.3 377.2h0M551.1 373.0h0M517.9 398.9h0M512.4 392.2h0M482.6 421.7h0M486.8 418.7h0M538.6 387.4h0M531.8 383.6h0M522.6 399.9h0M515.1 395.7h0M495.9 413.0h0M475.7 431.0h0M509.3 406.6h0M516.2 398.5h0M467.7 436.6h0M549.1 380.5h0M507.3 402.0h0M530.6 393.6h0M548.8 375.3h0M552.9 373.3h0M515.0 394.6h0M541.7 385.3h0M540.5 377.5h0M522.7 392.6h0M528.2 400.2h0M503.0 413.9h0M526.9 393.5h0M507.6 409.2h0M516.8 397.9h0M523.6 391.6h0M541.2 376.8h0M516.4 401.5h0M515.8 397.6h0M512.6 402.6h0M512.6 400.0h0M531.3 388.1h0M489.7 418.9h0M522.4 395.6h0M496.1 412.3h0M509.5 403.7h0M537.0 386.9h0M557.6 375.4h0M525.0 389.1h0M534.2 383.0h0M525.1 392.7h0M512.0 398.1h0M523.1 394.1h0M541.9 380.3h0M525.6 393.5h0M513.3 396.8h0M511.4 396.4h0M531.5 388.4h0M514.5 402.5h0M540.8 377.0h0M491.8 414.2h0M537.4 381.0h0M504.2 413.0h0M519.8 395.3h0M566.0 361.3h0M543.3 379.8h0M510.6 401.7h0M513.3 401.7h0M540.3 379.7h0M541.2 380.4h0M520.9 396.5h0M537.2 377.4h0M512.6 401.8h0M463.5 436.2h0M544.5 374.7h0M511.1 406.1h0M534.0 386.3h0M517.8 400.8h0M515.4 400.2h0M502.7 413.2h0M537.5 380.1h0M539.1 381.9h0M548.1 379.5h0M536.3 382.4h0M530.6 391.7h0M510.5 408.2h0M522.4 392.9h0M530.6 388.1h0M469.0 436.7h0M497.0 410.9h0M517.7 396.3h0M538.7 381.6h0M551.0 369.5h0M557.5 367.2h0M505.4 402.7h0M522.9 392.8h0M510.5 402.1h0M504.3 417.6h0M513.9 401.9h0M523.8 386.7h0M538.5 384.3h0M490.1 418.9h0M518.6 398.7h0M500.3 417.1h0M551.0 371.0h0M557.4 361.8h0M511.3 396.9h0M506.3 407.2h0M534.3 388.6h0M541.5 382.0h0M500.3 409.1h0M512.2 403.4h0M526.9 388.3h0M498.9 410.9h0M552.8 375.9h0M522.0 398.6h0M522.5 391.4h0M496.5 410.7h0M547.0 376.0h0M492.7 411.5h0M505.8 407.0h0M508.4 405.8h0M518.2 397.6h0M490.7 416.1h0M504.5 415.6h0M533.4 385.7h0M520.1 395.6h0M523.5 396.4h0M541.6 383.0h0M530.4 384.1h0M542.2 381.2h0M521.5 396.1h0M502.1 406.3h0M555.9 373.6h0M485.1 413.7h0M492.0 419.6h0M496.7 415.7h0M570.8 363.3h0M522.6 396.3h0M543.7 381.8h0M488.0 421.6h0M497.7 416.6h0M527.6 398.8h0M511.2 398.7h0M523.4 391.1h0M533.7 383.7h0M522.9 392.2h0M522.8 392.0h0M525.5 394.6h0M516.6 388.8h0M527.6 392.6h0M541.5 384.4h0M501.5 403.0h0M526.9 392.5h0M539.8 381.3h0M517.0 401.9h0M519.1 397.7h0M560.0 364.7h0M544.7 376.6h0M569.4 363.6h0M560.5 363.4h0M514.1 403.3h0M506.6 411.6h0M515.1 396.7h0M539.5 380.5h0M522.2 395.3h0M546.7 379.0h0M522.2 391.9h0M528.1 391.1h0M516.4 401.3h0M486.1 419.6h0M541.2 379.4h0M515.3 403.9h0M531.3 383.5h0M521.8 400.7h0M562.4 367.4h0M531.2 386.6h0M530.4 388.8h0M519.3 394.0h0M504.2 406.0h0M529.8 397.1h0M544.1 373.6h0M521.5 396.8h0M475.9 429.1h0M505.0 410.0h0M562.1 368.6h0M509.6 401.8h0M525.2 390.7h0M481.3 424.2h0M509.2 406.5h0M503.2 403.3h0M538.1 381.4h0M534.5 383.3h0M532.9 386.3h0M542.7 378.3h0M511.2 398.8h0M557.1 364.9h0M516.3 395.2h0M540.7 380.4h0M565.8 361.6h0M510.4 407.3h0M529.3 389.9h0M518.8 399.0h0M524.1 396.0h0M527.7 390.4h0M519.8 396.0h0M521.7 397.4h0M536.2 389.9h0M493.5 416.8h0M505.9 406.7h0M510.9 401.9h0M492.4 419.8h0M528.6 394.3h0M511.7 408.7h0M503.3 408.7h0M492.7 418.6h0M502.7 407.1h0M530.5 393.3h0M494.6 410.6h0M540.5 381.6h0M534.4 386.2h0M527.3 390.3h0M485.9 419.2h0M505.2 404.5h0M543.1 385.3h0M513.3 403.2h0M505.2 405.7h0M506.1 404.6h0M529.2 388.6h0M482.7 427.1h0M542.7 377.9h0M526.0 392.4h0M499.5 411.5h0M533.9 381.7h0M464.3 438.1h0M495.2 413.1h0M527.5 385.6h0M552.4 368.6h0M496.1 418.3h0M491.3 421.3h0M519.6 403.4h0M523.0 390.4h0M505.0 408.0h0M504.4 409.7h0M553.6 371.5h0M501.4 414.1h0M487.0 418.9h0M512.3 405.1h0M548.2 372.1h0M535.4 383.9h0M520.0 396.4h0M493.7 413.9h0M518.9 397.9h0M533.5 386.3h0M542.8 375.1h0M487.5 414.7h0M512.2 400.2h0M509.1 399.6h0M557.2 373.9h0M514.7 399.7h0M519.4 396.7h0M510.6 404.9h0M461.0 438.4h0M544.7 371.2h0M481.0 423.5h0M508.6 400.9h0M487.6 415.6h0M508.1 400.5h0M511.0 402.6h0M509.9 405.8h0M551.0 369.1h0M495.5 411.5h0M514.1 402.1h0M532.0 381.7h0M512.0 404.9h0M509.7 408.0h0M561.4 365.4h0M536.9 388.0h0M503.0 409.3h0M526.1 391.8h0M501.7 411.7h0M530.2 388.3h0M490.6 422.3h0M537.5 390.8h0M528.5 387.0h0M527.8 387.2h0M520.5 392.8h0M525.3 393.6h0M502.3 407.8h0M521.9 395.9h0M533.1 382.3h0M529.7 392.9h0M500.9 409.4h0M532.5 388.4h0M495.3 412.1h0M505.2 406.9h0M502.5 415.2h0M507.7 406.4h0M517.8 401.0h0M534.7 383.6h0M542.8 376.2h0M529.9 392.8h0M504.9 405.9h0M536.2 387.5h0M541.1 382.1h0M504.4 407.2h0M495.4 410.4h0M517.1 396.7h0M561.1 363.2h0M514.0 402.2h0M516.7 399.1h0M535.2 382.7h0M495.6 413.8h0M497.6 412.3h0M517.9 396.4h0M538.1 377.0h0M513.8 396.1h0M506.7 401.2h0M485.1 420.8h0M553.7 373.6h0M493.8 419.6h0M547.9 374.8h0M505.3 410.4h0M544.4 384.4h0M556.2 370.1h0M501.9 402.1h0M532.5 386.7h0M535.8 383.8h0M546.7 376.4h0M513.8 400.2h0M546.3 381.0h0M522.5 393.3h0M499.1 408.9h0M541.4 379.2h0M546.9 375.0h0M520.0 395.9h0M517.6 395.4h0M536.6 387.5h0M555.8 376.0h0M494.2 416.9h0M542.6 379.2h0M562.9 362.0h0M501.8 412.2h0M532.4 386.2h0M521.6 395.0h0M527.8 387.8h0M546.6 377.8h0M486.7 418.8h0M509.6 401.3h0M491.2 418.4h0M513.6 401.3h0M559.6 368.1h0M498.2 414.7h0M510.4 405.4h0M507.4 409.1h0M528.7 387.2h0M513.5 399.5h0M503.8 408.6h0M504.0 407.6h0M516.8 398.3h0M494.4 410.1h0M469.5 430.8h0M544.7 378.7h0M522.9 391.6h0M507.6 410.9h0M516.8 400.1h0M535.6 387.1h0M502.1 408.4h0M520.8 397.4h0M508.9 407.0h0M546.0 379.2h0M469.0 439.0h0M490.7 422.4h0M549.8 377.2h0M495.1 413.5h0M503.5 407.5h0M494.4 412.7h0M471.1 427.0h0M518.0 394.6h0M534.4 391.5h0M526.6 393.3h0M494.0 410.4h0M508.8 403.9h0M554.6 369.0h0M516.1 398.4h0M500.4 415.4h0M538.7 380.8h0M513.8 401.3h0M480.6 428.9h0M502.0 408.4h0M539.3 376.0h0M516.5 399.4h0M517.9 402.0h0M533.4 386.6h0M503.6 411.4h0M488.3 427.9h0M519.6 398.2h0M506.6 404.9h0M519.7 399.6h0M504.5 408.0h0M504.1 408.5h0M490.1 420.0h0M525.9 393.1h0M560.8 366.9h0M494.0 416.6h0M544.3 378.6h0M534.3 383.9h0M506.4 408.0h0M498.6 415.0h0M531.3 386.1h0M512.6 404.0h0M514.0 393.5h0M510.4 404.2h0M560.2 359.6h0M486.1 420.6h0M529.2 388.3h0M560.0 363.4h0M523.6 392.1h0M565.3 362.9h0M520.2 397.2h0M523.7 396.5h0M536.7 387.0h0M505.1 404.5h0M520.9 403.6h0M532.4 381.3h0M506.2 403.4h0M530.1 389.7h0M543.3 373.1h0M495.8 408.0h0M517.8 394.2h0M528.8 397.8h0M505.2 414.0h0M541.7 377.9h0M546.4 380.6h0M508.6 403.5h0M525.7 393.5h0M507.2 404.5h0M518.0 398.9h0M530.4 388.6h0M517.3 404.0h0M524.2 393.4h0M511.2 405.9h0M545.7 373.7h0M540.3 383.5h0M507.6 404.1h0M532.4 385.2h0M576.2 355.0h0M511.0 405.9h0M549.9 373.7h0M577.0 354.3h0M516.5 396.4h0M537.8 386.3h0M474.8 434.1h0M549.9 371.8h0M534.6 384.7h0M538.6 378.6h0M525.1 388.1h0M541.4 386.7h0M544.6 377.3h0M536.0 384.0h0M515.3 399.7h0M517.7 395.1h0M521.9 388.6h0M516.6 399.7h0M503.6 409.1h0M494.4 413.4h0M519.0 394.7h0M501.7 410.5h0M513.4 398.5h0M494.2 411.2h0M492.4 418.9h0M512.2 398.1h0M516.1 402.0h0M566.7 357.4h0M519.3 400.0h0M543.1 382.1h0M531.5 392.5h0M527.4 392.1h0M514.8 400.6h0M534.6 386.2h0M532.2 388.8h0M491.6 418.6h0M535.2 387.0h0M516.8 400.3h0M487.6 420.3h0M504.8 409.9h0M535.9 384.2h0M540.8 384.8h0M518.6 402.2h0M546.7 374.2h0M537.7 386.1h0M488.5 419.8h0M498.0 416.4h0M528.3 395.5h0M502.1 414.6h0M507.8 408.7h0M527.3 386.9h0M514.9 402.9h0M506.4 406.1h0M491.4 419.3h0M564.2 363.4h0M491.6 421.9h0M511.9 399.1h0M543.9 378.2h0M518.8 399.1h0M500.9 408.3h0M496.8 419.2h0M545.2 380.3h0M537.2 382.7h0M479.6 421.5h0M491.6 419.5h0M534.3 380.0h0M555.1 366.6h0M509.3 407.6h0M541.0 379.3h0M487.0 417.5h0M485.4 425.7h0M494.3 410.8h0M531.3 393.4h0M525.1 388.2h0M536.0 380.9h0M483.3 418.4h0M556.0 366.9h0M512.1 401.6h0M577.1 359.4h0M526.2 386.0h0M482.4 422.4h0M519.9 393.8h0M502.7 411.4h0M553.4 379.2h0M525.4 390.9h0M547.2 379.3h0M503.7 408.9h0M504.3 406.4h0M523.8 398.1h0M522.2 393.4h0M500.8 413.4h0M531.7 389.8h0M545.5 375.0h0M513.1 406.7h0M510.0 406.0h0M510.1 404.8h0M532.0 384.2h0M517.9 398.5h0M529.9 387.0h0M544.2 382.3h0M514.1 406.1h0M514.6 401.2h0M514.1 395.7h0M552.0 371.0h0M518.0 399.6h0M521.8 397.4h0M513.9 396.6h0M539.4 380.0h0M529.1 394.7h0M495.8 421.3h0M540.5 374.8h0M529.0 389.4h0M546.0 377.2h0M531.6 386.7h0M519.1 397.6h0M498.9 412.8h0M541.4 380.9h0M546.8 383.3h0M501.6 411.4h0M518.9 399.0h0M530.3 385.4h0M517.5 395.2h0M528.6 391.5h0M512.2 402.9h0M506.6 406.3h0M546.2 370.4h0M484.0 419.8h0M533.9 388.5h0M503.4 404.1h0M520.9 399.1h0M505.9 403.3h0M523.5 393.7h0M507.0 410.3h0M526.0 393.6h0M489.9 419.7h0M497.4 409.9h0M517.2 394.3h0M533.5 392.5h0M502.3 411.5h0M561.6 362.0h0M512.0 400.9h0M536.8 382.4h0M481.4 423.2h0M498.9 409.8h0M498.7 408.1h0M495.2 416.4h0M486.4 429.2h0M510.8 401.9h0M501.9 412.3h0M554.5 376.5h0M518.5 397.6h0M526.0 394.7h0M475.5 430.0h0M551.9 379.8h0M552.9 370.3h0M496.4 414.4h0M497.2 413.0h0M503.6 411.3h0M550.2 376.8h0M491.6 414.6h0M498.1 410.8h0M486.1 422.8h0M525.9 396.3h0M538.0 381.5h0M499.2 413.8h0M544.3 375.7h0M523.3 396.6h0M502.1 409.4h0M531.9 386.6h0M547.1 378.3h0M547.3 374.5h0M531.2 392.9h0M548.3 371.2h0M520.2 397.9h0M526.9 392.9h0M558.3 368.7h0M517.8 399.5h0M502.9 411.7h0M494.2 415.2h0M509.1 406.9h0M480.3 427.3h0M500.2 410.8h0M495.7 415.5h0M516.3 402.1h0M490.9 415.7h0M517.7 391.8h0M520.0 398.6h0M537.1 381.0h0M542.3 382.4h0M553.7 372.4h0M514.9 404.1h0M490.8 420.4h0M536.8 386.7h0M529.0 390.3h0M511.0 404.5h0M537.9 376.1h0M562.3 368.0h0M528.4 388.3h0M511.5 400.2h0M524.9 398.9h0M501.0 416.5h0M562.8 361.8h0M494.7 419.4h0M498.7 413.6h0M542.3 388.9h0M516.4 402.9h0M494.3 416.6h0M540.5 377.5h0M545.2 371.0h0M485.8 424.1h0M534.4 381.0h0M541.8 380.3h0M560.1 367.5h0M530.8 389.2h0M536.7 384.9h0M523.0 399.4h0M535.9 385.0h0M557.5 372.4h0M536.0 383.5h0M507.6 396.7h0M519.2 401.5h0M562.6 359.2h0M494.1 419.6h0M507.9 406.7h0M506.6 403.1h0M548.7 373.4h0M502.0 406.0h0M511.8 398.1h0M519.4 397.9h0M532.6 388.9h0M533.9 384.1h0M496.3 412.4h0M496.3 408.4h0M490.2 425.9h0M545.1 374.4h0M515.3 398.3h0M524.5 394.1h0M645.9 300.4h0M633.9 318.9h0M629.0 322.3h0M625.0 323.9h0M604.4 334.3h0M591.5 343.9h0M582.0 351.9h0M455.4 444.8h0M462.4 440.4h0" stroke="#8c564b" stroke-width="5.0" stroke-linecap="round" fill="none"/>
<line x1="401.60" y1="484.55" x2="680.50" y2="276.60" stroke="#808080" stroke-width="1.0"/>
</g>
<line x1="443.44" y1="484.55" x2="443.44" y2="489.05" stroke="#000" stroke-width="1.0"/>
<text x="443.44" y="499.75" font-size="13.2" text-anchor="middle" >−5</text>
<line x1="513.16" y1="484.55" x2="513.16" y2="489.05" stroke="#000" stroke-width="1.0"/>
<text x="513.16" y="499.75" font-size="13.2" text-anchor="middle" >0</text>
<line x1="582.88" y1="484.55" x2="582.88" y2="489.05" stroke="#000" stroke-width="1.0"/>
<text x="582.88" y="499.75" font-size="13.2" text-anchor="middle" >5</text>
<line x1="652.61" y1="484.55" x2="652.61" y2="489.05" stroke="#000" stroke-width="1.0"/>
<text x="652.61" y="499.75" font-size="13.2" text-anchor="middle" >10</text>
<line x1="401.60" y1="453.36" x2="397.10" y2="453.36" stroke="#000" stroke-width="1.0"/>
<text x="394.10" y="458.16" font-size="13.2" text-anchor="end" >−5</text>
<line x1="401.60" y1="401.37" x2="397.10" y2="401.37" stroke="#000" stroke-width="1.0"/>
<text x="394.10" y="406.17" font-size="13.2" text-anchor="end" >0</text>
<line x1="401.60" y1="349.38" x2="397.10" y2="349.38" stroke="#000" stroke-width="1.0"/>
<text x="394.10" y="354.18" font-size="13.2" text-anchor="end" >5</text>
<line x1="401.60" y1="297.39" x2="397.10" y2="297.39" stroke="#000" stroke-width="1.0"/>
<text x="394.10" y="302.19" font-size="13.2" text-anchor="end" >10</text>
<rect x="401.60" y="276.60" width="278.90" height="207.95" fill="none" stroke="#000" stroke-width="1.25"/>
<rect x="408.40" y="283.30" width="121.80" height="41.20" rx="2.5" fill="#fff" fill-opacity="0.8" stroke="#d9d9d9" stroke-width="0.9"/>
<circle cx="426.80" cy="293.00" r="2.4" fill="#9467bd"/>
<circle cx="426.80" cy="311.90" r="2.4" fill="#8c564b"/>
<text x="451.30" y="297.60" font-size="13.05" text-anchor="start" >Train dataset</text>
<text x="451.30" y="316.30" font-size="13.05">Test<tspan x="484.30">dataset</tspan></text>
<text x="528.00" y="431.10" font-size="11.7" text-anchor="start" >RMSE = 140.51 meV/atom</text>
<text x="528.00" y="449.90" font-size="11.7" text-anchor="start" >RMSE = 146.57 meV/atom</text>
<text x="541.05" y="515.80" font-size="13.25" text-anchor="middle" >DFT virial (eV/atom)</text>
<text transform="translate(375,380.58) rotate(-90)" font-size="13.25" text-anchor="middle">NEP virial (eV/atom)</text>
<text x="2.10" y="20.20" font-size="22" style="font-weight:normal;stroke-width:0.1px">(a)</text>
<text x="346.50" y="20.45" font-size="22" style="font-weight:normal;stroke-width:0.1px">(b)</text>
<text x="0.30" y="285.20" font-size="22" style="font-weight:normal;stroke-width:0.1px">(c)</text>
<text x="347.20" y="285.20" font-size="22" style="font-weight:normal;stroke-width:0.1px">(d)</text>
</svg></body></html>
